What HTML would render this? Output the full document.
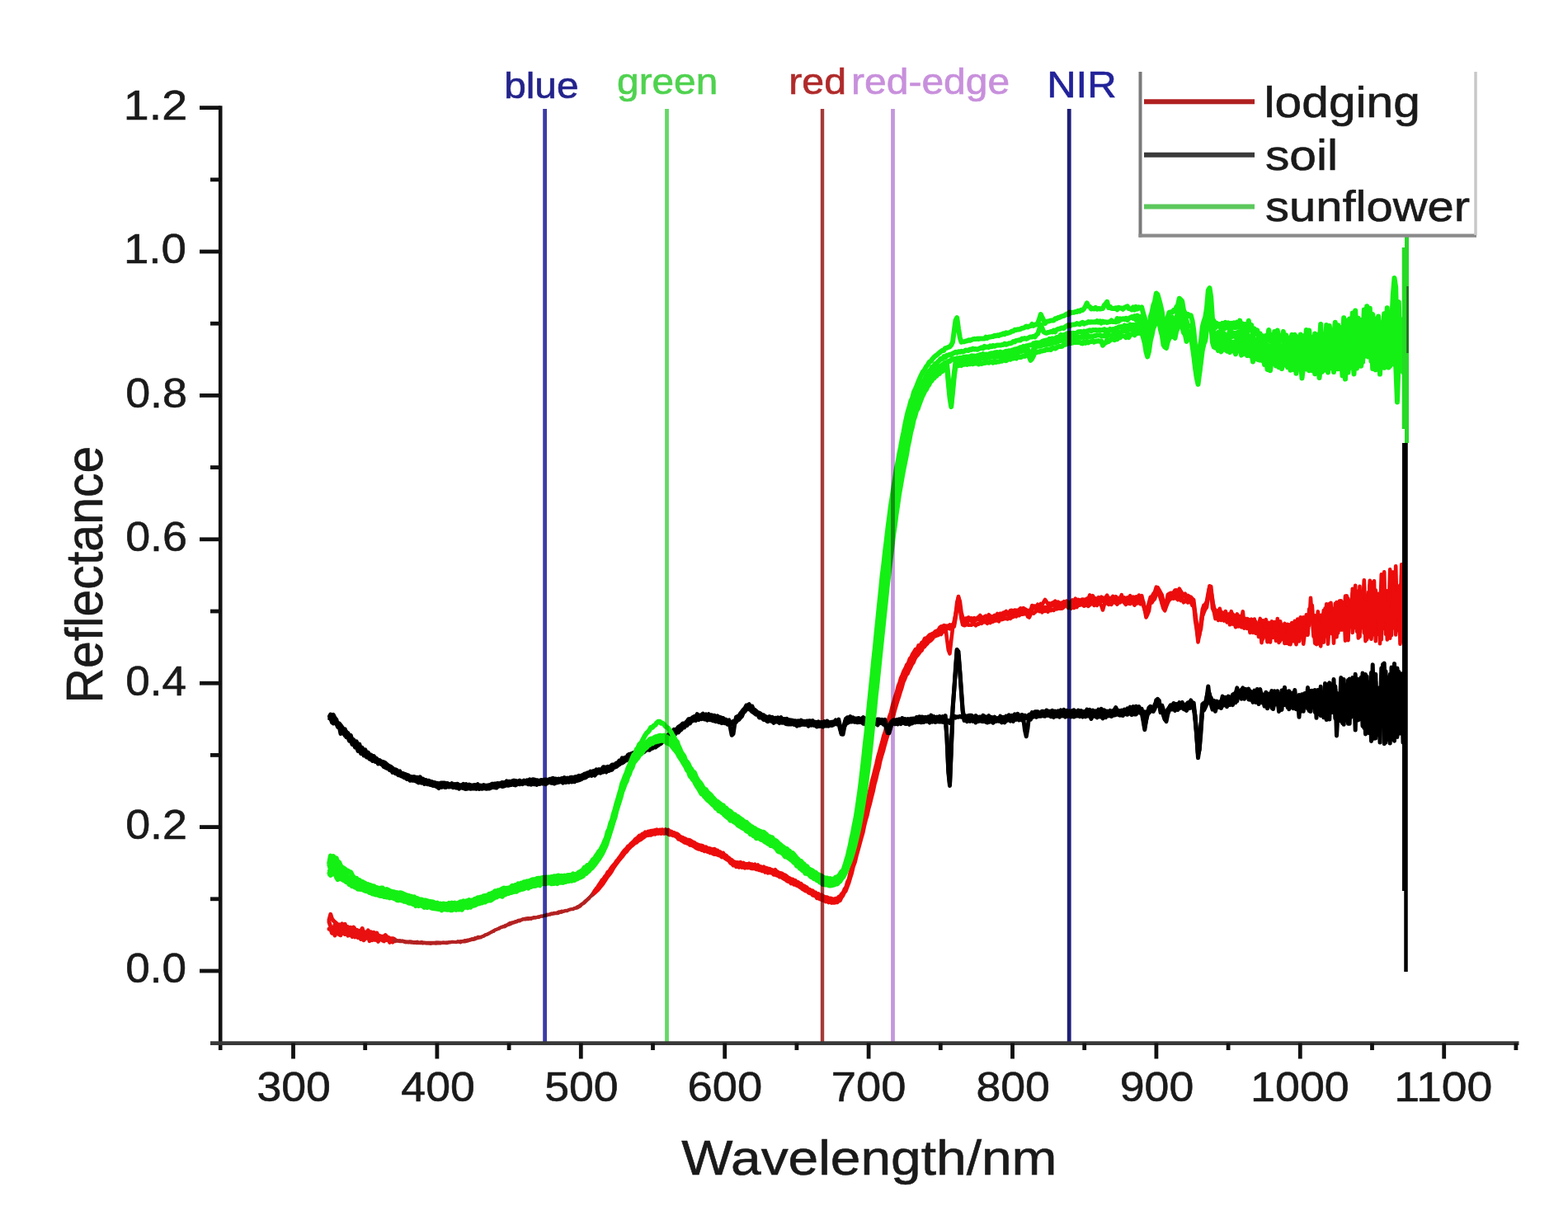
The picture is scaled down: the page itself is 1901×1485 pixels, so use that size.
<!DOCTYPE html>
<html><head><meta charset="utf-8"><title>Reflectance spectra</title>
<style>html,body{margin:0;padding:0;background:#fff;overflow:hidden}svg{display:block}</style>
</head><body>
<svg width="1901" height="1485" viewBox="0 0 1901 1485" font-family="'Liberation Sans', Arial, sans-serif" style="font-variant-ligatures:none">
<rect width="1901" height="1485" fill="#fff"/>
<g>
<path d="M399.0,1115.2 L400.8,1108.4 L402.5,1113.9 L404.2,1116.1 L406.0,1117.7 L407.8,1119.1 L409.5,1125.0 L411.2,1120.9 L413.0,1122.5 L414.8,1120.0 L416.5,1124.2 L418.2,1120.4 L420.0,1125.9 L421.8,1123.6 L423.5,1126.8 L425.2,1124.3 L427.0,1127.3 L428.8,1124.1 L430.5,1126.9 L432.2,1127.4 L434.0,1128.9 L435.8,1128.5 L437.5,1128.7 L439.2,1125.5 L441.0,1131.4 L442.8,1130.2 L444.5,1130.0 L446.2,1128.0 L448.0,1131.5 L449.8,1129.9 L451.5,1132.9 L453.2,1130.3 L455.0,1134.3 L456.8,1131.0 L458.5,1134.4 L460.2,1134.4 L462.0,1135.3 L463.8,1135.2 L465.5,1135.4 L467.2,1133.6 L469.0,1135.9 L470.8,1136.4 L472.5,1137.5 L474.2,1137.8 L476.0,1137.7 L477.8,1138.4" fill="none" stroke="#e81010" stroke-width="5.0" stroke-linejoin="round" stroke-linecap="round"/>
<path d="M477.8,1138.4 L479.5,1139.4 L481.2,1140.0 L483.0,1140.7 L484.8,1140.1 L486.5,1140.4 L488.2,1140.2 L490.0,1141.5 L491.8,1141.2 L493.5,1141.2 L495.2,1141.3 L497.0,1141.0 L498.8,1141.2 L500.5,1142.0 L502.2,1141.7 L504.0,1141.9 L505.8,1141.4 L507.5,1142.1 L509.2,1142.5 L511.0,1141.8 L512.8,1142.1 L514.5,1142.3 L516.2,1142.5 L518.0,1142.6 L519.8,1142.5 L521.5,1142.5 L523.2,1142.6 L525.0,1142.5 L526.8,1142.6 L528.5,1142.6 L530.2,1142.6 L532.0,1142.4 L533.8,1142.5 L535.5,1142.7 L537.2,1142.1 L539.0,1142.2 L540.8,1142.4 L542.5,1142.3 L544.2,1142.0 L546.0,1142.1 L547.8,1141.5 L549.5,1141.9 L551.2,1142.1 L553.0,1141.9 L554.8,1141.0 L556.5,1141.5 L558.2,1140.8 L560.0,1140.8 L561.8,1140.6 L563.5,1139.9 L565.2,1140.0 L567.0,1139.2 L568.8,1139.0 L570.5,1138.5 L572.2,1138.1 L574.0,1138.1 L575.8,1136.8 L577.5,1136.8 L579.2,1135.6 L581.0,1135.8 L582.8,1135.5 L584.5,1135.0 L586.2,1134.4 L588.0,1133.3 L589.8,1132.6 L591.5,1131.8 L593.2,1131.3 L595.0,1130.6 L596.8,1129.1 L598.5,1129.2 L600.2,1127.5 L602.0,1126.7 L603.8,1125.8 L605.5,1124.9 L607.2,1124.0 L609.0,1123.2 L610.8,1122.8 L612.5,1121.6 L614.2,1121.2 L616.0,1120.4 L617.8,1118.8 L619.5,1118.4 L621.2,1118.0 L623.0,1117.7 L624.8,1116.8 L626.5,1116.5 L628.2,1115.6 L630.0,1115.4 L631.8,1115.0 L633.5,1114.0 L635.2,1113.7 L637.0,1113.4 L638.8,1113.1 L640.5,1112.8 L642.2,1113.0 L644.0,1112.8 L645.8,1112.3 L647.5,1111.7 L649.2,1112.1 L651.0,1111.7 L652.8,1111.0 L654.5,1110.8 L656.2,1110.3 L658.0,1110.7 L659.8,1109.6 L661.5,1109.3 L663.2,1108.4 L665.0,1108.7 L666.8,1107.7 L668.5,1107.3 L670.2,1107.1 L672.0,1106.6 L673.8,1106.5 L675.5,1106.3 L677.2,1105.1 L679.0,1105.2 L680.8,1104.4 L682.5,1104.6 L684.2,1104.6 L686.0,1103.6 L687.8,1103.8 L689.5,1102.9 L691.2,1102.2 L693.0,1102.1 L694.8,1101.8 L696.5,1100.7 L698.2,1100.2 L700.0,1099.0 L701.8,1098.5 L703.5,1097.2 L705.2,1095.8 L707.0,1094.8 L708.8,1092.7 L710.5,1091.3 L712.2,1090.5 L714.0,1088.2 L715.8,1086.5 L717.5,1084.4 L719.2,1081.8 L721.0,1079.8 L722.8,1077.2" fill="none" stroke="#b42222" stroke-width="3.6" stroke-linejoin="round" stroke-linecap="round"/>
<path d="M721.0,1079.8 L722.8,1077.2 L724.5,1075.2 L726.2,1072.3 L728.0,1070.0 L729.8,1066.9 L731.5,1065.5 L733.2,1062.7 L735.0,1060.8 L736.8,1057.0 L738.5,1056.1 L740.2,1053.0 L742.0,1050.5 L743.8,1048.5 L745.5,1046.9 L747.2,1043.9 L749.0,1042.1 L750.8,1039.4 L752.5,1037.3 L754.2,1034.5 L756.0,1032.1 L757.8,1030.0 L759.5,1028.6 L761.2,1025.9 L763.0,1025.1 L764.8,1022.7 L766.5,1021.3 L768.2,1019.9 L770.0,1017.4 L771.8,1016.1 L773.5,1014.8 L775.2,1012.7 L777.0,1012.9 L778.8,1010.7 L780.5,1011.0 L782.2,1008.7 L784.0,1009.3 L785.8,1007.8 L787.5,1007.9 L789.2,1007.0 L791.0,1006.9 L792.8,1006.7 L794.5,1006.1 L796.2,1005.6 L798.0,1006.5 L799.8,1005.9 L801.5,1006.1 L803.2,1005.5 L805.0,1007.0 L806.8,1005.4 L808.5,1006.5 L810.2,1005.9 L812.0,1007.9 L813.8,1007.8 L815.5,1009.3 L817.2,1009.2 L819.0,1010.5 L820.8,1010.6 L822.5,1011.8 L824.2,1013.9 L826.0,1014.8 L827.8,1015.3 L829.5,1016.3 L831.2,1016.7 L833.0,1018.1 L834.8,1018.0 L836.5,1018.5 L838.2,1019.5 L840.0,1020.6 L841.8,1021.2 L843.5,1022.7 L845.2,1023.3 L847.0,1024.2 L848.8,1024.8 L850.5,1024.8 L852.2,1025.4 L854.0,1027.6 L855.8,1026.5 L857.5,1028.0 L859.2,1028.2 L861.0,1028.6 L862.8,1029.2 L864.5,1029.5 L866.2,1029.1 L868.0,1030.4 L869.8,1030.8 L871.5,1032.9 L873.2,1032.6 L875.0,1034.4 L876.8,1033.9 L878.5,1037.0 L880.2,1036.7 L882.0,1038.8 L883.8,1040.0 L885.5,1041.7 L887.2,1042.3 L889.0,1044.3 L890.8,1044.8 L892.5,1045.5 L894.2,1045.4 L896.0,1045.9 L897.8,1045.2 L899.5,1047.0 L901.2,1045.9 L903.0,1047.2 L904.8,1047.2 L906.5,1048.0 L908.2,1046.7 L910.0,1047.8 L911.8,1047.6 L913.5,1049.2 L915.2,1047.7 L917.0,1049.9 L918.8,1048.4 L920.5,1050.4 L922.2,1050.3 L924.0,1051.8 L925.8,1050.6 L927.5,1052.6 L929.2,1052.0 L931.0,1052.8 L932.8,1053.0 L934.5,1053.9 L936.2,1054.4 L938.0,1055.7 L939.8,1054.2 L941.5,1056.3 L943.2,1056.9 L945.0,1058.4 L946.8,1058.4 L948.5,1059.0 L950.2,1060.3 L952.0,1060.7 L953.8,1062.1 L955.5,1063.7 L957.2,1064.3 L959.0,1065.6 L960.8,1065.8 L962.5,1066.9 L964.2,1067.2 L966.0,1069.6 L967.8,1069.3 L969.5,1070.9 L971.2,1071.1 L973.0,1073.3 L974.8,1073.7 L976.5,1075.0 L978.2,1075.7 L980.0,1078.1 L981.8,1078.1 L983.5,1079.7 L985.2,1079.5 L987.0,1081.4 L988.8,1081.8 L990.5,1084.2 L992.2,1083.3 L994.0,1085.8 L995.8,1084.6 L997.5,1086.0 L999.2,1086.8 L1001.0,1087.5 L1002.8,1087.5 L1004.5,1089.0 L1006.2,1088.7 L1008.0,1089.1 L1009.8,1089.6 L1011.5,1090.2 L1013.2,1089.0 L1015.0,1089.7 L1016.8,1087.2 L1018.5,1086.4 L1020.2,1083.8 L1022.0,1082.2 L1023.8,1077.8 L1025.5,1075.8 L1027.2,1069.4 L1029.0,1065.8 L1030.7,1058.2 L1032.2,1053.0 L1033.8,1045.5 L1035.4,1040.4 L1037.0,1031.7 L1038.5,1025.1 L1040.1,1017.8 L1041.7,1010.9 L1043.3,1003.0 L1045.0,996.7 L1046.8,988.8 L1048.5,983.0 L1050.2,974.7 L1052.0,968.8 L1053.8,960.7 L1055.5,954.1 L1057.2,946.1 L1059.0,939.7 L1060.8,932.3 L1062.5,925.6 L1064.2,917.9 L1066.0,911.6 L1067.8,904.8 L1069.5,899.0 L1071.2,892.1 L1073.0,887.1 L1074.8,880.2 L1076.5,875.2 L1078.2,868.5 L1080.0,863.8 L1081.8,855.9 L1083.5,850.3 L1085.2,844.2 L1087.0,839.2 L1088.8,831.9 L1090.5,827.6 L1092.2,821.7 L1094.0,817.9 L1095.8,813.1 L1097.5,810.3 L1099.2,806.0 L1101.0,803.9 L1102.8,798.7 L1104.5,796.9 L1106.2,793.0 L1108.0,790.1 L1109.8,787.1 L1111.7,787.1 L1113.6,782.4 L1115.5,782.8 L1117.4,779.0 L1119.2,777.9 L1121.1,773.9 L1123.0,773.7 L1124.9,771.9 L1126.8,769.6 L1128.7,769.0 L1130.5,768.0 L1132.2,767.5 L1134.0,765.3 L1135.8,764.6 L1137.5,764.0 L1139.2,760.7 L1141.0,759.3 L1142.8,759.7 L1144.5,758.0 L1146.2,758.9 L1148.0,774.4 L1149.8,787.9 L1151.5,792.3 L1153.2,776.7 L1155.0,761.8 L1156.8,753.0 L1158.5,745.2 L1160.2,730.2 L1162.0,723.7 L1163.8,728.7 L1165.5,742.1 L1167.2,748.6 L1169.0,751.7 L1170.8,749.5 L1172.5,749.6 L1174.2,748.4 L1176.0,749.7 L1177.8,749.3 L1179.5,750.0 L1181.2,749.1 L1183.0,750.9 L1184.8,749.0 L1186.5,747.8 L1188.2,746.0 L1190.0,748.3 L1191.8,748.7 L1193.5,747.5 L1195.2,746.7 L1197.0,748.1 L1198.8,745.2 L1200.5,746.9 L1202.2,747.2 L1204.0,747.5 L1205.8,745.8 L1207.5,746.8 L1209.2,744.0 L1211.0,745.1 L1212.8,743.6 L1214.5,744.7 L1216.2,742.7 L1218.0,742.3 L1219.8,741.0 L1221.5,742.8 L1223.2,742.4 L1225.0,740.1 L1226.8,739.9 L1228.5,740.5 L1230.2,739.6 L1232.0,739.7 L1233.8,739.8 L1235.5,739.1 L1237.2,737.3 L1239.0,738.0 L1240.8,737.1 L1242.5,738.3 L1244.2,739.1 L1246.0,740.7 L1247.8,739.9 L1249.5,740.2 L1251.2,734.0 L1253.0,734.9 L1254.8,734.6 L1256.5,735.9 L1258.2,732.7 L1260.0,736.0 L1261.8,732.0 L1263.5,733.2 L1265.2,729.9 L1267.0,727.0 L1268.8,729.3 L1270.5,732.4 L1272.2,731.4 L1274.0,732.2 L1275.8,730.6 L1277.5,730.1 L1279.2,728.6 L1281.0,732.2 L1282.8,729.7 L1284.5,731.5 L1286.2,730.8 L1288.0,730.6 L1289.8,729.3 L1291.5,732.4 L1293.2,728.7 L1295.0,731.6 L1296.8,730.1 L1298.5,730.0 L1300.2,727.5 L1302.0,728.5 L1303.8,725.6 L1305.5,728.5 L1307.2,726.9 L1309.0,727.8 L1310.8,727.2 L1312.5,726.5 L1314.2,726.7 L1316.0,727.2 L1317.8,725.5 L1319.5,726.1 L1321.2,721.4 L1323.0,725.0 L1324.8,722.1 L1326.5,725.6 L1328.2,725.4 L1330.0,726.6 L1331.8,724.1 L1333.5,727.8 L1335.2,723.7 L1337.0,724.8 L1338.8,725.4 L1340.5,724.1 L1342.2,721.7 L1344.0,726.6 L1345.8,724.8 L1347.5,726.2 L1349.2,722.9 L1351.0,725.8 L1352.8,723.2 L1354.5,727.1 L1356.2,724.9 L1358.0,725.3 L1359.8,721.2 L1361.5,725.9 L1363.2,724.5 L1365.0,726.2 L1366.8,724.4 L1368.5,724.4 L1370.2,722.3 L1372.0,725.3 L1373.8,723.6 L1375.5,724.5 L1377.2,723.4 L1379.0,727.0 L1380.8,721.5 L1382.5,724.7 L1384.2,722.1 L1386.0,729.7 L1387.8,735.9 L1389.5,745.1 L1391.2,739.2 L1393.0,730.3 L1394.8,723.9 L1396.5,723.7 L1398.2,719.9 L1400.0,717.7 L1401.8,711.7 L1403.5,712.2 L1405.2,714.8 L1407.0,718.2 L1408.8,721.4 L1410.5,729.8 L1412.2,732.3 L1414.0,729.6 L1415.8,720.9 L1417.5,719.7 L1419.2,718.8 L1421.0,718.9 L1422.8,718.3 L1424.5,715.6 L1426.2,715.4 L1428.0,716.6 L1429.8,713.7 L1431.5,716.7 L1433.2,719.0 L1435.0,721.8 L1436.8,719.8 L1438.5,723.7 L1440.2,721.8 L1442.0,723.3 L1443.8,723.7 L1445.5,725.9 L1447.2,727.2 L1449.0,742.1 L1450.8,756.7 L1452.5,772.4 L1454.2,765.2 L1456.0,753.1 L1457.8,738.8 L1459.5,733.7 L1461.2,732.6 L1463.0,729.0 L1464.8,718.6 L1466.5,710.4 L1468.2,710.9 L1470.0,728.4 L1471.8,736.2 L1473.5,742.2 L1475.2,741.8 L1477.0,745.3 L1478.8,737.8 L1480.5,743.7 L1482.2,742.7 L1484.0,744.5 L1485.8,741.1 L1487.5,746.2 L1489.2,744.8 L1491.0,751.0 L1492.8,741.2 L1494.5,748.7 L1496.2,745.8 L1498.0,750.2 L1499.8,744.4 L1501.5,750.9 L1503.2,746.8 L1505.0,753.7 L1506.8,741.2 L1508.5,758.1 L1510.2,750.1 L1512.0,753.3 L1513.8,750.9 L1515.5,753.7 L1517.2,750.7 L1519.0,758.5 L1520.8,750.6 L1522.5,758.3 L1524.2,756.2 L1526.0,758.2 L1527.8,749.9 L1529.5,764.5 L1531.2,752.2 L1533.0,763.1 L1534.8,751.0 L1536.5,764.7 L1538.2,754.8 L1540.0,774.1 L1541.8,753.4 L1543.5,765.2 L1545.2,754.0 L1547.0,770.2 L1548.8,750.0 L1550.5,771.2 L1552.2,753.4 L1554.0,764.5 L1555.8,760.7 L1557.5,780.0 L1559.2,760.0 L1561.0,762.8 L1562.8,758.4 L1564.5,775.2 L1566.2,755.0 L1568.0,777.4 L1569.8,752.7 L1571.5,774.9 L1573.2,750.5 L1575.0,776.8 L1576.8,748.2 L1578.5,766.8 L1580.2,748.3 L1582.0,767.9 L1583.8,745.3 L1585.5,767.4 L1587.2,738.3 L1589.0,737.7 L1590.8,733.9 L1592.5,758.1 L1594.2,746.3 L1596.0,762.7 L1597.8,741.4 L1599.5,776.4 L1601.2,745.7 L1603.0,770.1 L1604.8,740.0 L1606.5,760.4 L1608.2,732.3 L1610.0,767.8 L1611.8,732.0 L1613.5,757.4 L1615.2,741.9 L1617.0,759.9 L1618.8,742.9 L1620.5,755.9 L1622.2,739.5 L1624.0,754.7 L1625.8,728.2 L1627.5,753.7 L1629.2,730.3 L1631.0,743.6 L1632.8,722.3 L1634.5,760.5 L1636.2,728.6 L1638.0,753.8 L1639.8,713.7 L1641.5,761.2 L1643.2,709.8 L1645.0,765.4 L1646.8,718.4 L1648.5,746.0 L1650.2,717.3 L1652.0,740.7 L1653.8,703.2 L1655.5,740.7 L1657.2,725.4 L1659.0,742.6 L1660.8,703.8 L1662.5,771.9 L1664.2,705.7 L1666.0,769.4 L1667.8,723.9 L1669.5,769.2 L1671.2,724.2 L1673.0,748.4 L1674.8,696.4 L1676.5,762.3 L1678.2,693.3 L1680.0,768.6 L1681.8,716.3 L1683.5,749.8 L1685.2,690.3 L1687.0,762.6 L1688.8,693.5 L1690.5,738.0 L1692.2,686.2 L1694.0,757.0 L1695.8,717.9 L1697.5,755.2 L1699.2,684.4 L1701.0,753.2 L1702.8,680.1" fill="none" stroke="#ec0c0c" stroke-width="4.6" stroke-linejoin="round" stroke-linecap="round"/>
<path d="M399.0,1117.8 L400.8,1123.3 L402.5,1128.0 L404.2,1128.1 L406.0,1121.0 L407.8,1126.9 L409.5,1125.4 L411.2,1128.7 L413.0,1124.5 L414.8,1127.9 L416.5,1123.5 L418.2,1130.8 L420.0,1128.8 L421.8,1134.2 L423.5,1127.6 L425.2,1131.4 L427.0,1128.6 L428.8,1132.2 L430.5,1129.3 L432.2,1130.9 L434.0,1128.0 L435.8,1133.8 L437.5,1130.7 L439.2,1134.5 L441.0,1131.2 L442.8,1137.4 L444.5,1131.8 L446.2,1136.2 L448.0,1134.4 L449.8,1137.4 L451.5,1134.3 L453.2,1135.2 L455.0,1133.7 L456.8,1137.6 L458.5,1136.1 L460.2,1138.1 L462.0,1135.4 L463.8,1138.0 L465.5,1137.7 L467.2,1139.3 L469.0,1136.6 L470.8,1139.4 L472.5,1140.4 L474.2,1139.9 L476.0,1139.4 L477.8,1139.8" fill="none" stroke="#e81010" stroke-width="5.0" stroke-linejoin="round" stroke-linecap="round"/>
<path d="M477.8,1139.8 L479.5,1139.0 L481.2,1139.7 L483.0,1140.1 L484.8,1140.1 L486.5,1141.0 L488.2,1140.5 L490.0,1140.7 L491.8,1141.6 L493.5,1141.6 L495.2,1142.6 L497.0,1142.2 L498.8,1142.8 L500.5,1142.5 L502.2,1143.3 L504.0,1143.1 L505.8,1143.4 L507.5,1143.1 L509.2,1143.5 L511.0,1143.3 L512.8,1143.6 L514.5,1143.3 L516.2,1143.7 L518.0,1143.2 L519.8,1143.6 L521.5,1143.3 L523.2,1143.1 L525.0,1142.8 L526.8,1143.3 L528.5,1142.3 L530.2,1142.4 L532.0,1142.7 L533.8,1142.6 L535.5,1142.5 L537.2,1142.7 L539.0,1143.2 L540.8,1142.6 L542.5,1142.6 L544.2,1142.6 L546.0,1142.4 L547.8,1142.3 L549.5,1141.5 L551.2,1141.9 L553.0,1142.4 L554.8,1141.3 L556.5,1141.6 L558.2,1141.6 L560.0,1141.3 L561.8,1141.0 L563.5,1140.2 L565.2,1141.0 L567.0,1140.1 L568.8,1139.5 L570.5,1139.4 L572.2,1138.1 L574.0,1138.2 L575.8,1137.9 L577.5,1137.4 L579.2,1137.0 L581.0,1136.7 L582.8,1135.9 L584.5,1135.4 L586.2,1134.7 L588.0,1133.3 L589.8,1132.8 L591.5,1132.5 L593.2,1131.1 L595.0,1130.1 L596.8,1129.1 L598.5,1128.0 L600.2,1127.2 L602.0,1126.4 L603.8,1126.0 L605.5,1124.7 L607.2,1124.1 L609.0,1123.7 L610.8,1122.9 L612.5,1122.0 L614.2,1121.6 L616.0,1120.3 L617.8,1119.7 L619.5,1118.8 L621.2,1118.8 L623.0,1118.0 L624.8,1117.5 L626.5,1116.5 L628.2,1116.3 L630.0,1115.6 L631.8,1115.2 L633.5,1114.2 L635.2,1114.0 L637.0,1114.0 L638.8,1113.6 L640.5,1113.6 L642.2,1113.5 L644.0,1112.8 L645.8,1112.8 L647.5,1112.1 L649.2,1112.6 L651.0,1112.1 L652.8,1112.3 L654.5,1111.0 L656.2,1110.6 L658.0,1110.5 L659.8,1110.1 L661.5,1109.6 L663.2,1109.8 L665.0,1108.6 L666.8,1108.7 L668.5,1107.4 L670.2,1108.0 L672.0,1107.1 L673.8,1106.9 L675.5,1106.4 L677.2,1106.8 L679.0,1105.6 L680.8,1105.9 L682.5,1104.9 L684.2,1104.6 L686.0,1104.2 L687.8,1104.4 L689.5,1103.2 L691.2,1102.5 L693.0,1101.9 L694.8,1101.5 L696.5,1101.0 L698.2,1101.0 L700.0,1100.1 L701.8,1098.4 L703.5,1097.3 L705.2,1095.8 L707.0,1094.9 L708.8,1093.4 L710.5,1091.7 L712.2,1089.9 L714.0,1088.3 L715.8,1086.7 L717.5,1084.4 L719.2,1083.0 L721.0,1080.3 L722.8,1078.8" fill="none" stroke="#b42222" stroke-width="3.6" stroke-linejoin="round" stroke-linecap="round"/>
<path d="M721.0,1080.3 L722.8,1078.8 L724.5,1076.4 L726.2,1074.8 L728.0,1072.6 L729.8,1070.4 L731.5,1067.9 L733.2,1065.5 L735.0,1062.7 L736.8,1061.1 L738.5,1058.1 L740.2,1056.1 L742.0,1053.0 L743.8,1050.4 L745.5,1046.9 L747.2,1045.8 L749.0,1042.6 L750.8,1040.8 L752.5,1038.2 L754.2,1036.9 L756.0,1034.5 L757.8,1033.4 L759.5,1031.5 L761.2,1028.5 L763.0,1026.9 L764.8,1025.1 L766.5,1022.9 L768.2,1022.2 L770.0,1020.3 L771.8,1018.4 L773.5,1017.3 L775.2,1015.8 L777.0,1014.9 L778.8,1013.8 L780.5,1012.6 L782.2,1012.0 L784.0,1010.9 L785.8,1011.0 L787.5,1009.1 L789.2,1009.5 L791.0,1009.1 L792.8,1010.2 L794.5,1008.2 L796.2,1008.5 L798.0,1008.7 L799.8,1008.1 L801.5,1007.6 L803.2,1007.5 L805.0,1007.7 L806.8,1008.7 L808.5,1008.6 L810.2,1009.8 L812.0,1009.2 L813.8,1011.1 L815.5,1011.5 L817.2,1012.4 L819.0,1012.8 L820.8,1014.6 L822.5,1014.6 L824.2,1015.5 L826.0,1016.7 L827.8,1017.9 L829.5,1019.3 L831.2,1020.1 L833.0,1019.5 L834.8,1021.5 L836.5,1022.4 L838.2,1022.3 L840.0,1022.7 L841.8,1024.0 L843.5,1024.3 L845.2,1025.4 L847.0,1025.8 L848.8,1026.7 L850.5,1027.0 L852.2,1028.4 L854.0,1028.7 L855.8,1030.0 L857.5,1030.1 L859.2,1031.3 L861.0,1030.9 L862.8,1032.2 L864.5,1032.5 L866.2,1033.8 L868.0,1032.7 L869.8,1034.7 L871.5,1035.0 L873.2,1036.0 L875.0,1036.6 L876.8,1038.0 L878.5,1038.2 L880.2,1039.5 L882.0,1040.5 L883.8,1042.5 L885.5,1043.4 L887.2,1045.5 L889.0,1046.0 L890.8,1047.7 L892.5,1047.1 L894.2,1048.3 L896.0,1047.7 L897.8,1048.7 L899.5,1048.1 L901.2,1049.9 L903.0,1049.3 L904.8,1050.3 L906.5,1049.7 L908.2,1051.5 L910.0,1049.8 L911.8,1051.0 L913.5,1051.7 L915.2,1052.2 L917.0,1051.4 L918.8,1051.6 L920.5,1052.1 L922.2,1053.8 L924.0,1053.4 L925.8,1054.2 L927.5,1054.2 L929.2,1055.8 L931.0,1054.5 L932.8,1056.4 L934.5,1056.2 L936.2,1057.7 L938.0,1057.1 L939.8,1058.7 L941.5,1058.4 L943.2,1061.6 L945.0,1060.7 L946.8,1061.6 L948.5,1062.1 L950.2,1063.2 L952.0,1063.9 L953.8,1065.8 L955.5,1065.8 L957.2,1067.4 L959.0,1067.1 L960.8,1069.6 L962.5,1070.0 L964.2,1070.0 L966.0,1071.3 L967.8,1072.7 L969.5,1073.0 L971.2,1075.6 L973.0,1074.5 L974.8,1076.2 L976.5,1078.4 L978.2,1079.0 L980.0,1079.2 L981.8,1081.7 L983.5,1081.7 L985.2,1083.9 L987.0,1083.9 L988.8,1086.3 L990.5,1085.1 L992.2,1086.8 L994.0,1087.4 L995.8,1089.0 L997.5,1088.3 L999.2,1089.9 L1001.0,1089.8 L1002.8,1091.3 L1004.5,1091.4 L1006.2,1092.5 L1008.0,1092.8 L1009.8,1092.9 L1011.5,1092.4 L1013.2,1092.7 L1015.0,1090.2 L1016.8,1089.6 L1018.5,1088.2 L1020.2,1086.2 L1022.0,1082.9 L1023.8,1080.6 L1025.5,1076.0 L1027.2,1073.0 L1029.0,1067.0 L1030.8,1061.8 L1032.5,1054.8 L1034.2,1048.2 L1036.0,1041.4 L1037.8,1034.1 L1039.5,1027.2 L1041.2,1020.0 L1043.0,1012.3 L1044.8,1006.8 L1046.5,998.8 L1048.2,991.7 L1050.0,984.6 L1051.8,978.6 L1053.5,970.9 L1055.2,964.5 L1057.0,956.6 L1058.8,950.1 L1060.5,941.5 L1062.2,935.3 L1064.0,926.9 L1065.8,921.3 L1067.5,912.8 L1069.2,908.1 L1071.0,901.9 L1072.8,896.5 L1074.5,888.9 L1076.2,884.8 L1078.0,877.4 L1079.8,872.4 L1081.5,866.0 L1083.2,859.7 L1085.0,853.4 L1086.8,847.5 L1088.5,840.6 L1090.2,836.4 L1092.0,830.2 L1093.8,826.3 L1095.5,821.0 L1097.2,816.8 L1099.0,812.8 L1100.8,811.0 L1102.5,806.5 L1104.2,802.9 L1106.0,798.8 L1107.8,796.3 L1109.5,792.6 L1111.2,790.4 L1113.0,787.9 L1114.8,788.0 L1116.5,783.9 L1118.2,782.0 L1120.0,780.4 L1121.8,779.3 L1123.5,776.7 L1125.2,775.2 L1127.0,773.0 L1128.8,772.2 L1130.5,769.9 L1132.2,769.7 L1134.0,768.3 L1135.8,767.8 L1137.5,766.1 L1139.2,764.2 L1141.0,763.2 L1142.8,762.5 L1144.5,761.7 L1146.2,759.3 L1148.0,758.6 L1149.8,759.2 L1151.5,757.4 L1153.2,758.0 L1155.0,756.8 L1156.8,756.9 L1158.5,744.4 L1160.2,735.9 L1162.0,723.1 L1163.8,736.7 L1165.5,745.4 L1167.2,755.6 L1169.0,753.0 L1170.8,752.8 L1172.5,753.9 L1174.2,752.3 L1176.0,752.1 L1177.8,752.9 L1179.5,752.7 L1181.2,753.5 L1183.0,751.3 L1184.8,751.4 L1186.5,750.8 L1188.2,751.5 L1190.0,751.3 L1191.8,752.1 L1193.5,751.8 L1195.2,753.7 L1197.0,749.2 L1198.8,750.8 L1200.5,750.5 L1202.2,751.1 L1204.0,749.0 L1205.8,748.2 L1207.5,750.8 L1209.2,749.1 L1211.0,746.3 L1212.8,746.2 L1214.5,748.0 L1216.2,747.9 L1218.0,745.2 L1219.8,745.5 L1221.5,744.8 L1223.2,744.8 L1225.0,741.1 L1226.8,746.5 L1228.5,743.7 L1230.2,743.5 L1232.0,741.5 L1233.8,742.4 L1235.5,743.5 L1237.2,742.4 L1239.0,739.2 L1240.8,742.0 L1242.5,740.1 L1244.2,741.4 L1246.0,740.8 L1247.8,745.1 L1249.5,742.0 L1251.2,739.1 L1253.0,736.9 L1254.8,737.6 L1256.5,737.4 L1258.2,737.0 L1260.0,736.3 L1261.8,737.9 L1263.5,736.8 L1265.2,737.3 L1267.0,735.9 L1268.8,737.0 L1270.5,735.4 L1272.2,736.9 L1274.0,733.9 L1275.8,734.3 L1277.5,733.5 L1279.2,732.7 L1281.0,733.2 L1282.8,735.8 L1284.5,734.1 L1286.2,735.9 L1288.0,733.5 L1289.8,734.4 L1291.5,732.4 L1293.2,733.7 L1295.0,732.2 L1296.8,733.8 L1298.5,731.9 L1300.2,730.6 L1302.0,731.8 L1303.8,732.2 L1305.5,729.5 L1307.2,731.2 L1309.0,731.0 L1310.8,730.9 L1312.5,729.0 L1314.2,734.7 L1316.0,728.2 L1317.8,731.3 L1319.5,730.2 L1321.2,728.7 L1323.0,729.5 L1324.8,728.8 L1326.5,728.1 L1328.2,728.8 L1330.0,729.9 L1331.8,727.8 L1333.5,728.3 L1335.2,729.0 L1337.0,725.0 L1338.8,730.3 L1340.5,726.4 L1342.2,728.2 L1344.0,728.2 L1345.8,727.5 L1347.5,726.0 L1349.2,729.4 L1351.0,726.6 L1352.8,728.8 L1354.5,728.0 L1356.2,727.0 L1358.0,725.0 L1359.8,728.3 L1361.5,727.6 L1363.2,728.7 L1365.0,725.3 L1366.8,725.0 L1368.5,727.0 L1370.2,729.5 L1372.0,727.9 L1373.8,726.2 L1375.5,726.6 L1377.2,728.8 L1379.0,724.6 L1380.8,728.4 L1382.5,727.4 L1384.2,727.3 L1386.0,729.5 L1387.8,739.6 L1389.5,743.7 L1391.2,741.1 L1393.0,732.1 L1394.8,726.8 L1396.5,723.1 L1398.2,726.3 L1400.0,719.8 L1401.8,718.2 L1403.5,712.4 L1405.2,720.0 L1407.0,720.1 L1408.8,731.2 L1410.5,729.8 L1412.2,738.5 L1414.0,729.6 L1415.8,726.1 L1417.5,723.7 L1419.2,724.5 L1421.0,719.9 L1422.8,724.9 L1424.5,720.0 L1426.2,723.7 L1428.0,718.5 L1429.8,721.8 L1431.5,720.8 L1433.2,723.4 L1435.0,721.1 L1436.8,723.6 L1438.5,723.8 L1440.2,727.3 L1442.0,725.5 L1443.8,727.8 L1445.5,726.1 L1447.2,732.8 L1449.0,744.7 L1450.8,760.7 L1452.5,773.7 L1454.2,770.2 L1456.0,756.6 L1457.8,746.7 L1459.5,734.5 L1461.2,737.5 L1463.0,731.1 L1464.8,721.7 L1466.5,710.7 L1468.2,716.1 L1470.0,725.9 L1471.8,740.0 L1473.5,739.3 L1475.2,745.1 L1477.0,740.0 L1478.8,747.5 L1480.5,745.7 L1482.2,750.1 L1484.0,743.5 L1485.8,748.3 L1487.5,746.0 L1489.2,751.9 L1491.0,744.0 L1492.8,753.1 L1494.5,744.6 L1496.2,751.1 L1498.0,747.3 L1499.8,754.3 L1501.5,746.9 L1503.2,757.2 L1505.0,747.4 L1506.8,760.2 L1508.5,751.9 L1510.2,760.1 L1512.0,750.1 L1513.8,761.5 L1515.5,752.4 L1517.2,759.3 L1519.0,758.4 L1520.8,766.0 L1522.5,753.7 L1524.2,760.4 L1526.0,756.4 L1527.8,771.5 L1529.5,758.7 L1531.2,774.6 L1533.0,756.2 L1534.8,771.1 L1536.5,763.3 L1538.2,773.4 L1540.0,755.6 L1541.8,767.8 L1543.5,762.1 L1545.2,772.2 L1547.0,754.5 L1548.8,770.0 L1550.5,762.5 L1552.2,776.9 L1554.0,757.5 L1555.8,769.0 L1557.5,755.9 L1559.2,779.8 L1561.0,756.7 L1562.8,780.9 L1564.5,760.6 L1566.2,770.5 L1568.0,760.8 L1569.8,770.6 L1571.5,759.0 L1573.2,768.8 L1575.0,753.5 L1576.8,767.0 L1578.5,758.9 L1580.2,780.6 L1582.0,766.5 L1583.8,769.3 L1585.5,752.8 L1587.2,758.1 L1589.0,724.8 L1590.8,752.0 L1592.5,753.9 L1594.2,779.9 L1596.0,748.0 L1597.8,780.4 L1599.5,758.9 L1601.2,783.4 L1603.0,748.4 L1604.8,778.7 L1606.5,737.6 L1608.2,767.4 L1610.0,747.0 L1611.8,768.0 L1613.5,730.7 L1615.2,768.3 L1617.0,737.8 L1618.8,764.4 L1620.5,730.0 L1622.2,767.5 L1624.0,728.6 L1625.8,763.4 L1627.5,736.0 L1629.2,759.0 L1631.0,722.6 L1632.8,760.7 L1634.5,725.6 L1636.2,753.5 L1638.0,733.9 L1639.8,767.0 L1641.5,720.7 L1643.2,749.3 L1645.0,716.7 L1646.8,773.4 L1648.5,710.9 L1650.2,761.2 L1652.0,732.8 L1653.8,767.1 L1655.5,721.7 L1657.2,775.0 L1659.0,718.0 L1660.8,751.7 L1662.5,731.4 L1664.2,744.7 L1666.0,704.3 L1667.8,777.2 L1669.5,731.1 L1671.2,767.5 L1673.0,722.5 L1674.8,775.2 L1676.5,698.0 L1678.2,760.0 L1680.0,721.4 L1681.8,775.5 L1683.5,720.5 L1685.2,773.8 L1687.0,693.7 L1688.8,747.8 L1690.5,712.0 L1692.2,769.4 L1694.0,722.0 L1695.8,764.4 L1697.5,709.6 L1699.2,777.1 L1701.0,693.5 L1702.8,779.2" fill="none" stroke="#ec0c0c" stroke-width="4.6" stroke-linejoin="round" stroke-linecap="round"/>
<path d="M399.0,1126.3 L400.8,1126.2 L402.5,1131.1 L404.2,1130.2 L406.0,1134.0 L407.8,1124.6 L409.5,1132.0 L411.2,1132.7 L413.0,1133.7 L414.8,1128.9 L416.5,1131.1 L418.2,1132.5 L420.0,1131.2 L421.8,1132.1 L423.5,1133.7 L425.2,1133.2 L427.0,1135.5 L428.8,1133.0 L430.5,1135.9 L432.2,1134.3 L434.0,1136.6 L435.8,1134.7 L437.5,1138.5 L439.2,1135.6 L441.0,1139.7 L442.8,1137.6 L444.5,1137.0 L446.2,1134.3 L448.0,1140.6 L449.8,1136.8 L451.5,1139.7 L453.2,1136.3 L455.0,1139.4 L456.8,1138.1 L458.5,1141.3 L460.2,1137.6 L462.0,1138.5 L463.8,1140.0 L465.5,1140.9 L467.2,1138.8 L469.0,1139.6 L470.8,1139.1 L472.5,1142.4 L474.2,1139.7 L476.0,1142.0 L477.8,1140.5" fill="none" stroke="#e81010" stroke-width="5.0" stroke-linejoin="round" stroke-linecap="round"/>
<path d="M477.8,1140.5 L479.5,1141.5 L481.2,1140.6 L483.0,1140.9 L484.8,1141.4 L486.5,1141.3 L488.2,1141.4 L490.0,1142.1 L491.8,1142.6 L493.5,1142.5 L495.2,1142.2 L497.0,1142.5 L498.8,1142.8 L500.5,1142.7 L502.2,1143.3 L504.0,1143.2 L505.8,1142.6 L507.5,1143.4 L509.2,1142.6 L511.0,1142.9 L512.8,1143.4 L514.5,1143.0 L516.2,1143.1 L518.0,1143.7 L519.8,1143.5 L521.5,1144.1 L523.2,1143.9 L525.0,1143.5 L526.8,1143.7 L528.5,1144.0 L530.2,1143.8 L532.0,1143.5 L533.8,1143.8 L535.5,1142.9 L537.2,1143.2 L539.0,1143.3 L540.8,1143.4 L542.5,1143.4 L544.2,1142.2 L546.0,1142.4 L547.8,1142.2 L549.5,1142.1 L551.2,1142.0 L553.0,1142.1 L554.8,1141.9 L556.5,1141.8 L558.2,1142.6 L560.0,1141.6 L561.8,1141.4 L563.5,1141.7 L565.2,1141.2 L567.0,1140.9 L568.8,1140.2 L570.5,1139.8 L572.2,1139.2 L574.0,1139.1 L575.8,1138.8 L577.5,1137.8 L579.2,1137.4 L581.0,1136.8 L582.8,1136.6 L584.5,1135.6 L586.2,1135.3 L588.0,1134.0 L589.8,1133.4 L591.5,1132.4 L593.2,1131.6 L595.0,1130.2 L596.8,1129.7 L598.5,1128.7 L600.2,1127.5 L602.0,1127.1 L603.8,1126.0 L605.5,1125.9 L607.2,1124.6 L609.0,1124.1 L610.8,1123.6 L612.5,1123.4 L614.2,1122.1 L616.0,1121.3 L617.8,1120.9 L619.5,1120.1 L621.2,1119.1 L623.0,1118.7 L624.8,1118.0 L626.5,1117.7 L628.2,1116.6 L630.0,1116.8 L631.8,1115.7 L633.5,1115.0 L635.2,1114.6 L637.0,1114.8 L638.8,1114.3 L640.5,1114.5 L642.2,1113.8 L644.0,1114.1 L645.8,1113.2 L647.5,1112.9 L649.2,1112.8 L651.0,1112.2 L652.8,1111.8 L654.5,1111.6 L656.2,1110.9 L658.0,1110.6 L659.8,1110.3 L661.5,1109.8 L663.2,1109.5 L665.0,1109.0 L666.8,1108.8 L668.5,1108.3 L670.2,1107.7 L672.0,1107.8 L673.8,1107.2 L675.5,1107.4 L677.2,1106.9 L679.0,1106.1 L680.8,1105.7 L682.5,1105.2 L684.2,1104.1 L686.0,1104.0 L687.8,1103.7 L689.5,1103.0 L691.2,1102.7 L693.0,1102.5 L694.8,1102.4 L696.5,1101.4 L698.2,1101.0 L700.0,1100.7 L701.8,1099.6 L703.5,1098.9 L705.2,1096.8 L707.0,1095.8 L708.8,1094.5 L710.5,1092.7 L712.2,1091.1 L714.0,1089.7 L715.8,1087.2 L717.5,1086.0 L719.2,1084.8 L721.0,1082.5 L722.8,1080.8" fill="none" stroke="#b42222" stroke-width="3.6" stroke-linejoin="round" stroke-linecap="round"/>
<path d="M721.0,1082.5 L722.8,1080.8 L724.5,1079.3 L726.2,1077.5 L728.0,1075.2 L729.8,1073.1 L731.5,1070.8 L733.2,1068.2 L735.0,1065.5 L736.8,1062.6 L738.5,1060.7 L740.2,1058.5 L742.0,1055.7 L743.8,1052.3 L745.5,1049.9 L747.2,1047.5 L749.0,1045.2 L750.8,1042.7 L752.5,1040.7 L754.2,1038.8 L756.0,1036.3 L757.8,1033.9 L759.5,1032.7 L761.2,1030.3 L763.0,1028.3 L764.8,1026.4 L766.5,1025.2 L768.2,1023.5 L770.0,1021.8 L771.8,1021.4 L773.5,1019.7 L775.2,1018.5 L777.0,1017.8 L778.8,1016.2 L780.5,1015.3 L782.2,1013.8 L784.0,1012.9 L785.8,1012.8 L787.5,1012.3 L789.2,1012.4 L791.0,1011.5 L792.8,1011.0 L794.5,1011.4 L796.2,1010.3 L798.0,1010.6 L799.8,1010.0 L801.5,1010.7 L803.2,1010.1 L805.0,1010.6 L806.8,1010.0 L808.5,1010.3 L810.2,1011.3 L812.0,1012.1 L813.8,1011.2 L815.5,1013.0 L817.2,1012.7 L819.0,1014.0 L820.8,1015.0 L822.5,1017.4 L824.2,1017.3 L826.0,1019.0 L827.8,1019.9 L829.5,1021.2 L831.2,1021.7 L833.0,1022.5 L834.8,1022.9 L836.5,1024.5 L838.2,1024.8 L840.0,1025.4 L841.8,1026.4 L843.5,1027.8 L845.2,1028.6 L847.0,1029.5 L848.8,1029.4 L850.5,1030.6 L852.2,1030.5 L854.0,1032.0 L855.8,1031.4 L857.5,1032.7 L859.2,1032.7 L861.0,1034.1 L862.8,1033.8 L864.5,1035.2 L866.2,1035.8 L868.0,1035.5 L869.8,1036.4 L871.5,1037.0 L873.2,1037.4 L875.0,1039.1 L876.8,1038.3 L878.5,1040.3 L880.2,1041.4 L882.0,1042.4 L883.8,1043.7 L885.5,1046.3 L887.2,1047.1 L889.0,1049.2 L890.8,1048.3 L892.5,1050.9 L894.2,1050.3 L896.0,1051.5 L897.8,1049.8 L899.5,1051.7 L901.2,1051.1 L903.0,1052.4 L904.8,1051.7 L906.5,1052.1 L908.2,1051.5 L910.0,1052.5 L911.8,1053.0 L913.5,1052.7 L915.2,1053.0 L917.0,1054.0 L918.8,1054.1 L920.5,1054.9 L922.2,1055.0 L924.0,1056.1 L925.8,1055.0 L927.5,1057.5 L929.2,1056.5 L931.0,1058.4 L932.8,1057.9 L934.5,1058.1 L936.2,1058.5 L938.0,1060.5 L939.8,1060.3 L941.5,1061.3 L943.2,1060.9 L945.0,1063.2 L946.8,1062.7 L948.5,1064.3 L950.2,1065.4 L952.0,1066.3 L953.8,1067.8 L955.5,1068.6 L957.2,1068.6 L959.0,1071.1 L960.8,1070.7 L962.5,1072.4 L964.2,1072.3 L966.0,1073.5 L967.8,1074.2 L969.5,1075.5 L971.2,1076.4 L973.0,1078.0 L974.8,1078.9 L976.5,1080.2 L978.2,1079.9 L980.0,1082.1 L981.8,1083.0 L983.5,1083.3 L985.2,1085.2 L987.0,1085.7 L988.8,1086.1 L990.5,1089.0 L992.2,1088.8 L994.0,1090.1 L995.8,1090.5 L997.5,1091.6 L999.2,1091.5 L1001.0,1093.1 L1002.8,1092.5 L1004.5,1094.1 L1006.2,1093.0 L1008.0,1094.6 L1009.8,1094.2 L1011.5,1094.4 L1013.2,1094.0 L1015.0,1094.0 L1016.8,1092.4 L1018.5,1091.9 L1020.2,1088.0 L1022.0,1085.8 L1023.8,1081.9 L1025.5,1079.9 L1027.2,1075.5 L1029.0,1070.8 L1030.8,1064.7 L1032.8,1058.3 L1034.7,1050.1 L1036.6,1045.1 L1038.5,1037.1 L1040.5,1030.1 L1042.4,1023.1 L1044.3,1016.1 L1046.2,1009.7 L1048.0,1000.9 L1049.8,993.6 L1051.5,988.0 L1053.2,980.1 L1055.0,973.8 L1056.8,966.2 L1058.5,959.7 L1060.2,951.5 L1062.0,945.0 L1063.8,936.9 L1065.5,931.2 L1067.2,922.9 L1069.0,916.4 L1070.8,910.6 L1072.5,904.0 L1074.2,898.1 L1076.0,892.2 L1077.8,885.9 L1079.5,880.1 L1081.2,873.9 L1083.0,868.8 L1084.8,861.3 L1086.5,855.6 L1088.2,849.9 L1090.0,844.6 L1091.8,838.4 L1093.5,833.5 L1095.2,827.1 L1097.0,823.3 L1098.8,818.4 L1100.5,816.7 L1102.2,812.5 L1104.0,809.3 L1105.8,805.4 L1107.5,803.1 L1109.2,798.8 L1111.0,795.9 L1112.7,794.1 L1114.3,792.0 L1115.9,789.6 L1117.5,788.5 L1119.1,784.8 L1120.8,784.1 L1122.4,781.9 L1124.0,780.5 L1125.6,778.4 L1127.2,777.4 L1128.8,776.1 L1130.5,774.3 L1132.2,771.9 L1134.0,771.3 L1135.8,770.4 L1137.5,770.1 L1139.2,767.7 L1141.0,769.0 L1142.8,765.6 L1144.5,765.9 L1146.2,762.5 L1148.0,762.1 L1149.8,761.3 L1151.5,762.3 L1153.2,759.2 L1155.0,759.8 L1156.8,759.5 L1158.5,749.9 L1160.2,738.5 L1162.0,729.3 L1163.8,737.8 L1165.5,750.3 L1167.2,757.4 L1169.0,758.2 L1170.8,757.7 L1172.5,756.0 L1174.2,757.8 L1176.0,757.6 L1177.8,757.6 L1179.5,756.2 L1181.2,756.6 L1183.0,758.4 L1184.8,756.4 L1186.5,756.6 L1188.2,754.7 L1190.0,755.8 L1191.8,754.2 L1193.5,754.0 L1195.2,754.2 L1197.0,755.8 L1198.8,753.6 L1200.5,755.1 L1202.2,753.6 L1204.0,753.6 L1205.8,752.4 L1207.5,752.4 L1209.2,751.7 L1211.0,753.2 L1212.8,750.0 L1214.5,751.2 L1216.2,750.6 L1218.0,750.1 L1219.8,749.5 L1221.5,750.5 L1223.2,748.5 L1225.0,749.8 L1226.8,748.2 L1228.5,747.7 L1230.2,746.6 L1232.0,747.3 L1233.8,744.9 L1235.5,746.2 L1237.2,744.7 L1239.0,744.8 L1240.8,744.5 L1242.5,744.2 L1244.2,742.8 L1246.0,747.5 L1247.8,748.5 L1249.5,744.8 L1251.2,742.0 L1253.0,743.7 L1254.8,742.1 L1256.5,740.7 L1258.2,739.5 L1260.0,741.2 L1261.8,740.1 L1263.5,742.3 L1265.2,739.7 L1267.0,740.9 L1268.8,737.9 L1270.5,741.7 L1272.2,736.4 L1274.0,740.1 L1275.8,738.7 L1277.5,739.9 L1279.2,737.2 L1281.0,738.4 L1282.8,737.5 L1284.5,737.6 L1286.2,737.6 L1288.0,737.4 L1289.8,735.9 L1291.5,734.3 L1293.2,733.8 L1295.0,736.8 L1296.8,735.0 L1298.5,737.5 L1300.2,733.1 L1302.0,737.0 L1303.8,734.6 L1305.5,736.1 L1307.2,733.3 L1309.0,733.8 L1310.8,732.2 L1312.5,733.5 L1314.2,732.6 L1316.0,734.0 L1317.8,733.0 L1319.5,734.9 L1321.2,733.3 L1323.0,732.1 L1324.8,730.9 L1326.5,733.9 L1328.2,730.3 L1330.0,733.9 L1331.8,730.9 L1333.5,731.6 L1335.2,734.1 L1337.0,739.5 L1338.8,732.8 L1340.5,730.0 L1342.2,731.3 L1344.0,732.8 L1345.8,732.0 L1347.5,732.8 L1349.2,729.3 L1351.0,730.4 L1352.8,730.7 L1354.5,732.6 L1356.2,729.6 L1358.0,730.4 L1359.8,728.8 L1361.5,728.8 L1363.2,730.9 L1365.0,732.8 L1366.8,727.3 L1368.5,731.7 L1370.2,732.1 L1372.0,729.1 L1373.8,731.2 L1375.5,733.6 L1377.2,731.4 L1379.0,731.4 L1380.8,729.7 L1382.5,732.2 L1384.2,730.3 L1386.0,734.0 L1387.8,739.1 L1389.5,748.4 L1391.2,744.9 L1393.0,740.6 L1394.8,727.8 L1396.5,730.6 L1398.2,727.7 L1400.0,726.1 L1401.8,720.2 L1403.5,720.2 L1405.2,720.8 L1407.0,725.7 L1408.8,732.0 L1410.5,737.8 L1412.2,740.3 L1414.0,735.2 L1415.8,730.7 L1417.5,727.5 L1419.2,726.1 L1421.0,725.0 L1422.8,725.6 L1424.5,724.9 L1426.2,725.4 L1428.0,727.2 L1429.8,724.1 L1431.5,728.0 L1433.2,726.7 L1435.0,730.3 L1436.8,727.5 L1438.5,729.1 L1440.2,730.5 L1442.0,729.7 L1443.8,729.7 L1445.5,733.9 L1447.2,732.9 L1449.0,752.1 L1450.8,763.4 L1452.5,778.4 L1454.2,768.7 L1456.0,762.2 L1457.8,747.2 L1459.5,742.7 L1461.2,738.7 L1463.0,736.1 L1464.8,724.2 L1466.5,715.6 L1468.2,718.5 L1470.0,737.3 L1471.8,741.6 L1473.5,750.1 L1475.2,743.3 L1477.0,751.9 L1478.8,747.1 L1480.5,751.8 L1482.2,748.4 L1484.0,752.5 L1485.8,749.4 L1487.5,754.3 L1489.2,746.3 L1491.0,757.3 L1492.8,752.7 L1494.5,756.5 L1496.2,752.9 L1498.0,760.2 L1499.8,751.3 L1501.5,759.4 L1503.2,753.1 L1505.0,760.3 L1506.8,755.5 L1508.5,761.6 L1510.2,752.1 L1512.0,761.8 L1513.8,756.1 L1515.5,766.9 L1517.2,762.0 L1519.0,766.8 L1520.8,757.7 L1522.5,767.8 L1524.2,758.4 L1526.0,772.0 L1527.8,756.2 L1529.5,779.2 L1531.2,763.2 L1533.0,771.5 L1534.8,763.7 L1536.5,778.2 L1538.2,765.5 L1540.0,778.5 L1541.8,763.0 L1543.5,772.7 L1545.2,766.6 L1547.0,776.8 L1548.8,767.5 L1550.5,779.0 L1552.2,767.9 L1554.0,774.8 L1555.8,762.4 L1557.5,779.1 L1559.2,769.7 L1561.0,778.1 L1562.8,757.3 L1564.5,781.3 L1566.2,760.8 L1568.0,774.1 L1569.8,768.5 L1571.5,781.2 L1573.2,763.2 L1575.0,777.5 L1576.8,765.7 L1578.5,772.7 L1580.2,764.0 L1582.0,770.0 L1583.8,766.4 L1585.5,769.6 L1587.2,742.7 L1589.0,745.5 L1590.8,748.0 L1592.5,771.6 L1594.2,753.1 L1596.0,781.1 L1597.8,754.7 L1599.5,778.4 L1601.2,758.2 L1603.0,770.0 L1604.8,742.8 L1606.5,771.4 L1608.2,750.2 L1610.0,780.6 L1611.8,753.4 L1613.5,763.5 L1615.2,742.8 L1617.0,779.6 L1618.8,731.8 L1620.5,772.3 L1622.2,742.1 L1624.0,759.3 L1625.8,729.8 L1627.5,763.4 L1629.2,730.7 L1631.0,776.7 L1632.8,737.5 L1634.5,776.1 L1636.2,736.8 L1638.0,759.9 L1639.8,719.0 L1641.5,757.9 L1643.2,716.7 L1645.0,762.7 L1646.8,716.7 L1648.5,771.8 L1650.2,717.7 L1652.0,758.0 L1653.8,730.8 L1655.5,777.2 L1657.2,731.7 L1659.0,772.1 L1660.8,709.4 L1662.5,774.6 L1664.2,713.5 L1666.0,764.5 L1667.8,715.6 L1669.5,750.5 L1671.2,719.9 L1673.0,780.3 L1674.8,716.5 L1676.5,758.6 L1678.2,712.9 L1680.0,751.0 L1681.8,734.8 L1683.5,758.7 L1685.2,737.9 L1687.0,770.1 L1688.8,709.8 L1690.5,761.5 L1692.2,721.0 L1694.0,747.0 L1695.8,710.9 L1697.5,780.8 L1699.2,697.3 L1701.0,753.5 L1702.8,721.6" fill="none" stroke="#ec0c0c" stroke-width="4.6" stroke-linejoin="round" stroke-linecap="round"/>
<path d="M399.0,869.2 L400.8,866.0 L402.5,868.9 L404.2,866.5 L406.0,870.4 L407.8,872.2 L409.5,878.7 L411.2,876.8 L413.0,879.1 L414.8,881.5 L416.5,884.7 L418.2,883.9 L420.0,888.7 L421.8,888.4 L423.5,893.2 L425.2,891.3 L427.0,897.5 L428.8,896.8 L430.5,899.5 L432.2,898.9 L434.0,903.6 L435.8,902.1 L437.5,908.1 L439.2,906.5 L441.0,910.1 L442.8,908.9 L444.5,914.1 L446.2,912.1 L448.0,915.0 L449.8,915.1 L451.5,916.8 L453.2,916.6 L455.0,918.8 L456.8,919.6 L458.5,922.2 L460.2,921.5 L462.0,923.5 L463.8,923.3 L465.5,923.9 L467.2,924.8 L469.0,926.5 L470.8,927.9 L472.5,928.8 L474.2,929.6 L476.0,931.1 L477.8,932.8 L479.5,932.8 L481.2,933.5 L483.0,936.3 L484.8,935.0 L486.5,937.8 L488.2,937.4 L490.0,938.1 L491.8,938.7 L493.5,939.4 L495.2,939.9 L497.0,941.4 L498.8,941.6 L500.5,942.0 L502.2,941.5 L504.0,942.4 L505.8,942.2 L507.5,943.9 L509.2,941.8 L511.0,944.9 L512.8,944.1 L514.5,945.6 L516.2,945.5 L518.0,946.6 L519.8,946.2 L521.5,947.1 L523.2,947.4 L525.0,948.3 L526.8,948.4 L528.5,949.4 L530.2,949.3 L532.0,949.8 L533.8,949.3 L535.5,948.9 L537.2,949.0 L539.0,949.0 L540.8,950.0 L542.5,949.5 L544.2,950.2 L546.0,952.2 L547.8,949.6 L549.5,951.8 L551.2,950.4 L553.0,950.9 L554.8,950.2 L556.5,951.9 L558.2,951.7 L560.0,952.0 L561.8,950.3 L563.5,951.3 L565.2,950.6 L567.0,952.0 L568.8,951.1 L570.5,951.7 L572.2,952.0 L574.0,951.8 L575.8,951.4 L577.5,952.2 L579.2,950.7 L581.0,952.6 L582.8,952.0 L584.5,953.2 L586.2,951.5 L588.0,952.2 L589.8,952.2 L591.5,952.1 L593.2,951.6 L595.0,951.1 L596.8,950.1 L598.5,950.4 L600.2,949.9 L602.0,949.8 L603.8,949.5 L605.5,950.3 L607.2,949.2 L609.0,948.4 L610.8,948.7 L612.5,949.0 L614.2,946.9 L616.0,947.5 L617.8,947.2 L619.5,948.2 L621.2,946.6 L623.0,946.1 L624.8,946.5 L626.5,947.0 L628.2,947.1 L630.0,946.1 L631.8,947.1 L633.5,947.7 L635.2,946.1 L637.0,947.4 L638.8,945.7 L640.5,946.7 L642.2,944.8 L644.0,946.1 L645.8,944.7 L647.5,945.0 L649.2,945.4 L651.0,945.7 L652.8,946.1 L654.5,946.5 L656.2,945.4 L658.0,945.9 L659.8,945.2 L661.5,944.9 L663.2,945.2 L665.0,945.3 L666.8,944.3 L668.5,944.7 L670.2,943.2 L672.0,944.4 L673.8,944.0 L675.5,944.9 L677.2,944.1 L679.0,944.7 L680.8,943.5 L682.5,943.9 L684.2,942.5 L686.0,943.8 L687.8,943.1 L689.5,944.7 L691.2,942.5 L693.0,942.2 L694.8,942.7 L696.5,942.4 L698.2,941.6 L700.0,941.7 L701.8,940.3 L703.5,941.2 L705.2,939.9 L707.0,939.4 L708.8,937.9 L710.5,938.2 L712.2,936.8 L714.0,936.7 L715.8,935.0 L717.5,935.6 L719.2,934.6 L721.0,934.7 L722.8,932.9 L724.5,933.6 L726.2,932.6 L728.0,933.8 L729.8,932.0 L731.5,929.7 L733.2,929.9 L735.0,930.6 L736.8,929.3 L738.5,930.7 L740.2,928.7 L742.0,927.0 L743.8,927.1 L745.5,926.8 L747.2,924.9 L749.0,925.2 L750.8,922.1 L752.5,923.0 L754.2,918.9 L756.0,919.8 L757.8,918.2 L759.5,918.9 L761.2,915.2 L763.0,914.3 L764.8,913.9 L766.5,913.2 L768.2,912.7 L770.0,911.7 L771.8,910.1 L773.5,911.7 L775.2,909.0 L777.0,909.5 L778.8,907.2 L780.5,908.5 L782.2,905.6 L784.0,906.5 L785.8,904.0 L787.5,903.5 L789.2,902.6 L791.0,903.0 L792.8,901.7 L794.5,901.1 L796.2,899.4 L798.0,900.2 L799.8,899.4 L801.5,896.7 L803.2,896.4 L805.0,895.1 L806.8,893.5 L808.5,892.2 L810.2,891.2 L812.0,889.3 L813.8,887.1 L815.5,886.7 L817.2,884.2 L819.0,885.0 L820.8,883.2 L822.5,881.2 L824.2,880.2 L826.0,878.9 L827.8,877.0 L829.5,877.0 L831.2,876.1 L833.0,874.3 L834.8,871.8 L836.5,871.6 L838.2,871.1 L840.0,869.4 L841.8,868.5 L843.5,868.7 L845.2,865.7 L847.0,867.2 L848.8,867.0 L850.5,866.7 L852.2,865.2 L854.0,867.0 L855.8,865.9 L857.5,867.9 L859.2,865.7 L861.0,867.1 L862.8,866.8 L864.5,868.2 L866.2,867.3 L868.0,868.9 L869.8,867.9 L871.5,869.3 L873.2,869.4 L875.0,870.3 L876.8,870.5 L878.5,872.0 L880.2,872.3 L882.0,873.9 L883.8,872.9 L885.5,882.7 L887.2,891.3 L889.0,889.7 L890.8,877.3 L892.5,869.3 L894.2,868.4 L896.0,867.5 L897.8,864.6 L899.5,862.6 L901.2,860.3 L903.0,858.6 L904.8,855.0 L906.5,855.0 L908.2,853.7 L910.0,857.0 L911.8,856.0 L913.5,859.7 L915.2,860.5 L917.0,862.4 L918.8,863.7 L920.5,864.2 L922.2,865.2 L924.0,867.0 L925.8,866.8 L927.5,868.5 L929.2,869.0 L931.0,869.8 L932.8,868.5 L934.5,869.9 L936.2,869.2 L938.0,871.7 L939.8,870.3 L941.5,870.7 L943.2,869.8 L945.0,871.0 L946.8,869.6 L948.5,872.5 L950.2,871.4 L952.0,872.1 L953.8,871.2 L955.5,873.1 L957.2,872.7 L959.0,873.1 L960.8,873.2 L962.5,874.2 L964.2,873.7 L966.0,874.6 L967.8,873.7 L969.5,875.4 L971.2,873.1 L973.0,874.7 L974.8,874.2 L976.5,875.0 L978.2,874.0 L980.0,874.4 L981.8,873.7 L983.5,874.8 L985.2,873.7 L987.0,875.8 L988.8,875.2 L990.5,876.1 L992.2,874.8 L994.0,876.0 L995.8,875.5 L997.5,875.9 L999.2,874.7 L1001.0,877.3 L1002.8,874.0 L1004.5,875.6 L1006.2,875.7 L1008.0,875.8 L1009.8,875.0 L1011.5,875.4 L1013.2,873.0 L1015.0,874.3 L1016.8,872.2 L1018.5,880.1 L1020.2,886.7 L1022.0,885.3 L1023.8,876.8 L1025.5,871.4 L1027.2,869.7 L1029.0,870.4 L1030.8,868.6 L1032.5,870.3 L1034.2,869.8 L1036.0,871.5 L1037.8,870.9 L1039.5,870.9 L1041.2,870.4 L1043.0,871.8 L1044.8,871.1 L1046.5,869.6 L1048.2,870.8 L1050.0,872.6 L1051.8,870.9 L1053.5,873.7 L1055.2,873.0 L1057.0,872.3 L1058.8,871.8 L1060.5,873.4 L1062.2,872.5 L1064.0,871.9 L1065.8,871.9 L1067.5,873.0 L1069.2,872.3 L1071.0,873.5 L1072.8,872.3 L1074.5,879.0 L1076.2,883.7 L1078.0,883.8 L1079.8,876.0 L1081.5,874.0 L1083.2,872.8 L1085.0,873.1 L1086.8,872.5 L1088.5,872.5 L1090.2,871.7 L1092.0,873.6 L1093.8,870.5 L1095.5,874.5 L1097.2,871.5 L1099.0,874.0 L1100.8,871.6 L1102.5,872.1 L1104.2,871.2 L1106.0,871.3 L1107.8,871.0 L1109.5,872.0 L1111.2,869.5 L1113.0,869.9 L1114.8,868.7 L1116.5,869.5 L1118.2,868.9 L1120.0,870.6 L1121.8,869.3 L1123.5,870.2 L1125.2,868.9 L1127.0,870.5 L1128.8,867.2 L1130.5,869.8 L1132.2,868.7 L1134.0,870.8 L1135.8,869.1 L1137.5,871.0 L1139.2,868.5 L1141.0,870.5 L1142.8,868.6 L1144.5,870.4 L1146.2,867.6 L1148.0,894.4 L1149.8,932.9 L1151.5,949.9 L1153.2,908.6 L1155.0,868.4 L1156.8,867.9 L1158.5,870.1 L1160.2,868.8 L1162.0,869.3 L1163.8,868.3 L1165.5,869.2 L1167.2,868.4 L1169.0,870.4 L1170.8,867.9 L1172.5,869.6 L1174.2,867.4 L1176.0,867.2 L1177.8,867.3 L1179.5,869.1 L1181.2,868.9 L1183.0,867.5 L1184.8,869.2 L1186.5,869.4 L1188.2,868.9 L1190.0,870.7 L1191.8,867.3 L1193.5,868.6 L1195.2,869.0 L1197.0,869.9 L1198.8,867.7 L1200.5,871.1 L1202.2,869.5 L1204.0,871.3 L1205.8,869.1 L1207.5,871.4 L1209.2,870.5 L1211.0,871.7 L1212.8,868.2 L1214.5,871.1 L1216.2,869.4 L1218.0,870.5 L1219.8,868.1 L1221.5,869.0 L1223.2,866.8 L1225.0,869.4 L1226.8,867.5 L1228.5,870.1 L1230.2,865.8 L1232.0,867.8 L1233.8,865.3 L1235.5,867.9 L1237.2,867.3 L1239.0,866.6 L1240.8,871.9 L1242.5,885.3 L1244.2,892.8 L1246.0,882.6 L1247.8,866.2 L1249.5,866.7 L1251.2,863.6 L1253.0,864.6 L1254.8,862.7 L1256.5,862.7 L1258.2,862.8 L1260.0,865.1 L1261.8,863.3 L1263.5,862.2 L1265.2,862.5 L1267.0,864.1 L1268.8,861.0 L1270.5,862.8 L1272.2,862.2 L1274.0,862.5 L1275.8,861.3 L1277.5,864.0 L1279.2,862.1 L1281.0,863.2 L1282.8,861.9 L1284.5,863.7 L1286.2,860.9 L1288.0,864.8 L1289.8,860.4 L1291.5,863.3 L1293.2,861.4 L1295.0,863.0 L1296.8,861.8 L1298.5,863.6 L1300.2,861.6 L1302.0,860.8 L1303.8,862.5 L1305.5,864.9 L1307.2,861.1 L1309.0,864.6 L1310.8,861.6 L1312.5,863.9 L1314.2,862.6 L1316.0,863.7 L1317.8,860.1 L1319.5,862.9 L1321.2,860.5 L1323.0,862.4 L1324.8,861.0 L1326.5,862.8 L1328.2,861.9 L1330.0,863.5 L1331.8,860.2 L1333.5,864.7 L1335.2,859.3 L1337.0,863.1 L1338.8,860.9 L1340.5,863.8 L1342.2,862.1 L1344.0,863.6 L1345.8,861.4 L1347.5,862.7 L1349.2,861.8 L1351.0,860.6 L1352.8,857.6 L1354.5,861.8 L1356.2,861.3 L1358.0,862.6 L1359.8,861.0 L1361.5,862.1 L1363.2,860.2 L1365.0,863.0 L1366.8,858.8 L1368.5,863.0 L1370.2,857.1 L1372.0,861.1 L1373.8,856.6 L1375.5,861.2 L1377.2,856.2 L1379.0,860.9 L1380.8,856.6 L1382.5,859.9 L1384.2,859.4 L1386.0,870.9 L1387.8,881.8 L1389.5,873.4 L1391.2,864.2 L1393.0,857.8 L1394.8,856.2 L1396.5,857.4 L1398.2,857.9 L1400.0,857.2 L1401.8,848.5 L1403.5,847.9 L1405.2,849.0 L1407.0,860.4 L1408.8,855.2 L1410.5,860.6 L1412.2,865.0 L1414.0,864.4 L1415.8,860.0 L1417.5,858.1 L1419.2,855.0 L1421.0,856.4 L1422.8,852.6 L1424.5,853.9 L1426.2,853.5 L1428.0,854.8 L1429.8,851.7 L1431.5,853.0 L1433.2,851.5 L1435.0,855.9 L1436.8,854.3 L1438.5,853.6 L1440.2,851.7 L1442.0,851.8 L1443.8,849.0 L1445.5,852.8 L1447.2,852.0 L1449.0,868.9 L1450.8,888.2 L1452.5,914.7 L1454.2,899.3 L1456.0,877.7 L1457.8,853.6 L1459.5,852.2 L1461.2,852.8 L1463.0,845.5 L1464.8,831.9 L1466.5,846.2 L1468.2,845.7 L1470.0,853.8 L1471.8,849.3 L1473.5,855.2 L1475.2,850.1 L1477.0,855.2 L1478.8,850.9 L1480.5,851.4 L1482.2,844.1 L1484.0,852.2 L1485.8,845.3 L1487.5,851.4 L1489.2,844.1 L1491.0,850.5 L1492.8,845.7 L1494.5,843.3 L1496.2,841.1 L1498.0,841.4 L1499.8,833.9 L1501.5,841.7 L1503.2,837.7 L1505.0,839.7 L1506.8,833.8 L1508.5,841.0 L1510.2,835.4 L1512.0,841.0 L1513.8,835.1 L1515.5,844.2 L1517.2,839.0 L1519.0,844.5 L1520.8,837.1 L1522.5,847.6 L1524.2,835.4 L1526.0,841.2 L1527.8,835.6 L1529.5,844.6 L1531.2,844.2 L1533.0,846.9 L1534.8,839.3 L1536.5,849.6 L1538.2,841.0 L1540.0,852.4 L1541.8,837.6 L1543.5,852.8 L1545.2,837.8 L1547.0,849.1 L1548.8,837.8 L1550.5,849.5 L1552.2,846.9 L1554.0,855.8 L1555.8,838.4 L1557.5,840.3 L1559.2,843.7 L1561.0,852.2 L1562.8,837.7 L1564.5,857.5 L1566.2,845.3 L1568.0,850.0 L1569.8,836.6 L1571.5,852.8 L1573.2,845.4 L1575.0,861.2 L1576.8,846.6 L1578.5,858.2 L1580.2,841.9 L1582.0,854.1 L1583.8,841.7 L1585.5,859.1 L1587.2,837.3 L1589.0,848.3 L1590.8,840.2 L1592.5,848.0 L1594.2,837.7 L1596.0,855.5 L1597.8,840.2 L1599.5,852.6 L1601.2,839.7 L1603.0,858.3 L1604.8,842.5 L1606.5,865.4 L1608.2,845.2 L1610.0,864.9 L1611.8,827.8 L1613.5,858.6 L1615.2,832.7 L1617.0,851.2 L1618.8,835.6 L1620.5,891.9 L1622.2,862.4 L1624.0,863.6 L1625.8,821.6 L1627.5,869.4 L1629.2,823.5 L1631.0,872.0 L1632.8,840.3 L1634.5,877.3 L1636.2,823.0 L1638.0,869.3 L1639.8,827.2 L1641.5,864.9 L1643.2,817.3 L1645.0,864.7 L1646.8,842.3 L1648.5,860.8 L1650.2,821.3 L1652.0,872.3 L1653.8,831.9 L1655.5,889.9 L1657.2,825.8 L1659.0,856.5 L1660.8,835.4 L1662.5,876.9 L1664.2,805.7 L1666.0,863.9 L1667.8,817.2 L1669.5,889.3 L1671.2,839.7 L1673.0,900.1 L1674.8,831.0 L1676.5,859.6 L1678.2,804.0 L1680.0,900.1 L1681.8,822.3 L1683.5,867.9 L1685.2,844.1 L1687.0,896.3 L1688.8,822.9 L1690.5,898.2 L1692.2,820.5 L1694.0,887.0 L1695.8,823.7 L1697.5,874.1 L1699.2,816.7 L1701.0,855.8 L1702.8,824.1" fill="none" stroke="#000" stroke-width="5" stroke-linejoin="round"/>
<path d="M399.0,867.4 L400.8,871.6 L402.5,868.1 L404.2,875.3 L406.0,870.5 L407.8,875.0 L409.5,878.8 L411.2,881.8 L413.0,880.7 L414.8,887.2 L416.5,886.9 L418.2,891.8 L420.0,887.3 L421.8,893.0 L423.5,892.4 L425.2,895.0 L427.0,895.8 L428.8,900.7 L430.5,902.3 L432.2,906.0 L434.0,905.0 L435.8,907.9 L437.5,907.7 L439.2,912.0 L441.0,910.3 L442.8,913.5 L444.5,913.3 L446.2,914.8 L448.0,916.0 L449.8,918.8 L451.5,918.7 L453.2,921.0 L455.0,920.9 L456.8,922.3 L458.5,923.0 L460.2,925.2 L462.0,923.9 L463.8,926.2 L465.5,926.8 L467.2,927.5 L469.0,928.2 L470.8,929.9 L472.5,930.0 L474.2,932.6 L476.0,932.5 L477.8,934.4 L479.5,934.4 L481.2,937.1 L483.0,938.0 L484.8,937.8 L486.5,938.7 L488.2,939.9 L490.0,939.9 L491.8,941.1 L493.5,940.1 L495.2,942.4 L497.0,941.8 L498.8,942.3 L500.5,943.0 L502.2,943.7 L504.0,944.0 L505.8,944.6 L507.5,944.9 L509.2,946.2 L511.0,946.1 L512.8,946.9 L514.5,947.7 L516.2,948.6 L518.0,948.1 L519.8,950.3 L521.5,949.2 L523.2,951.3 L525.0,949.3 L526.8,951.4 L528.5,951.2 L530.2,952.1 L532.0,950.7 L533.8,951.6 L535.5,951.1 L537.2,951.6 L539.0,951.2 L540.8,952.3 L542.5,952.0 L544.2,952.6 L546.0,952.7 L547.8,952.4 L549.5,952.5 L551.2,954.1 L553.0,952.8 L554.8,953.3 L556.5,953.4 L558.2,953.8 L560.0,953.9 L561.8,953.0 L563.5,953.8 L565.2,955.2 L567.0,954.0 L568.8,955.5 L570.5,954.9 L572.2,954.4 L574.0,955.3 L575.8,955.1 L577.5,953.8 L579.2,954.5 L581.0,953.6 L582.8,954.1 L584.5,953.3 L586.2,954.4 L588.0,953.9 L589.8,954.2 L591.5,953.8 L593.2,954.2 L595.0,951.5 L596.8,953.9 L598.5,952.0 L600.2,952.5 L602.0,952.5 L603.8,953.0 L605.5,950.2 L607.2,951.4 L609.0,950.3 L610.8,951.3 L612.5,950.3 L614.2,950.5 L616.0,948.8 L617.8,951.3 L619.5,949.4 L621.2,949.6 L623.0,949.6 L624.8,949.0 L626.5,949.1 L628.2,949.5 L630.0,948.4 L631.8,948.7 L633.5,947.8 L635.2,947.8 L637.0,946.7 L638.8,948.4 L640.5,947.6 L642.2,949.5 L644.0,947.6 L645.8,948.2 L647.5,948.2 L649.2,948.7 L651.0,948.7 L652.8,948.0 L654.5,947.7 L656.2,948.5 L658.0,947.9 L659.8,948.4 L661.5,947.6 L663.2,947.1 L665.0,946.9 L666.8,947.5 L668.5,946.9 L670.2,947.1 L672.0,945.7 L673.8,946.5 L675.5,945.6 L677.2,945.8 L679.0,945.7 L680.8,946.5 L682.5,945.1 L684.2,944.6 L686.0,944.4 L687.8,944.1 L689.5,944.9 L691.2,945.2 L693.0,944.2 L694.8,944.0 L696.5,942.2 L698.2,943.5 L700.0,942.9 L701.8,942.7 L703.5,941.3 L705.2,943.3 L707.0,940.0 L708.8,941.2 L710.5,939.0 L712.2,939.8 L714.0,938.9 L715.8,938.6 L717.5,938.0 L719.2,938.2 L721.0,935.2 L722.8,936.7 L724.5,935.5 L726.2,935.9 L728.0,935.2 L729.8,934.7 L731.5,933.9 L733.2,934.4 L735.0,932.8 L736.8,933.0 L738.5,930.8 L740.2,931.7 L742.0,929.9 L743.8,929.9 L745.5,927.9 L747.2,928.0 L749.0,925.9 L750.8,926.7 L752.5,924.1 L754.2,923.6 L756.0,921.2 L757.8,921.5 L759.5,919.2 L761.2,918.9 L763.0,916.1 L764.8,916.8 L766.5,914.8 L768.2,914.5 L770.0,912.8 L771.8,912.6 L773.5,910.9 L775.2,911.5 L777.0,910.8 L778.8,910.0 L780.5,910.5 L782.2,908.3 L784.0,908.4 L785.8,907.9 L787.5,906.8 L789.2,906.1 L791.0,903.4 L792.8,904.6 L794.5,903.0 L796.2,902.7 L798.0,899.4 L799.8,901.5 L801.5,898.5 L803.2,898.7 L805.0,897.3 L806.8,897.0 L808.5,894.5 L810.2,893.5 L812.0,892.3 L813.8,892.0 L815.5,889.2 L817.2,888.2 L819.0,886.7 L820.8,885.2 L822.5,884.5 L824.2,883.4 L826.0,880.7 L827.8,880.8 L829.5,877.9 L831.2,878.0 L833.0,875.6 L834.8,875.0 L836.5,873.7 L838.2,874.1 L840.0,871.4 L841.8,871.8 L843.5,869.7 L845.2,870.6 L847.0,868.1 L848.8,870.3 L850.5,868.9 L852.2,869.7 L854.0,869.6 L855.8,869.8 L857.5,869.0 L859.2,870.7 L861.0,869.1 L862.8,869.4 L864.5,869.0 L866.2,870.5 L868.0,870.6 L869.8,871.7 L871.5,871.5 L873.2,872.9 L875.0,872.7 L876.8,875.0 L878.5,873.9 L880.2,874.6 L882.0,875.0 L883.8,875.6 L885.5,875.1 L887.2,876.2 L889.0,874.3 L890.8,875.0 L892.5,871.7 L894.2,871.2 L896.0,869.8 L897.8,867.4 L899.5,864.2 L901.2,863.0 L903.0,860.2 L904.8,859.5 L906.5,856.6 L908.2,857.3 L910.0,856.9 L911.8,860.6 L913.5,860.8 L915.2,863.5 L917.0,862.4 L918.8,866.0 L920.5,866.2 L922.2,868.3 L924.0,868.3 L925.8,869.8 L927.5,869.5 L929.2,871.7 L931.0,869.9 L932.8,872.7 L934.5,871.8 L936.2,872.2 L938.0,873.1 L939.8,873.8 L941.5,873.5 L943.2,874.0 L945.0,873.2 L946.8,873.9 L948.5,873.2 L950.2,875.1 L952.0,874.2 L953.8,875.4 L955.5,875.7 L957.2,876.0 L959.0,876.2 L960.8,877.2 L962.5,876.1 L964.2,876.3 L966.0,876.3 L967.8,877.1 L969.5,875.8 L971.2,877.7 L973.0,876.3 L974.8,878.0 L976.5,875.6 L978.2,876.4 L980.0,878.0 L981.8,876.9 L983.5,877.2 L985.2,876.9 L987.0,877.0 L988.8,879.5 L990.5,876.1 L992.2,878.0 L994.0,877.1 L995.8,878.0 L997.5,876.6 L999.2,877.1 L1001.0,877.8 L1002.8,878.2 L1004.5,876.3 L1006.2,877.4 L1008.0,875.3 L1009.8,879.1 L1011.5,875.6 L1013.2,875.2 L1015.0,875.7 L1016.8,876.1 L1018.5,881.1 L1020.2,889.3 L1022.0,885.8 L1023.8,879.7 L1025.5,871.6 L1027.2,873.8 L1029.0,873.0 L1030.8,873.0 L1032.5,871.6 L1034.2,871.3 L1036.0,871.3 L1037.8,872.3 L1039.5,871.9 L1041.2,874.0 L1043.0,874.0 L1044.8,873.9 L1046.5,875.2 L1048.2,875.7 L1050.0,873.1 L1051.8,874.8 L1053.5,875.1 L1055.2,875.8 L1057.0,874.3 L1058.8,874.2 L1060.5,875.3 L1062.2,874.1 L1064.0,874.1 L1065.8,876.2 L1067.5,874.4 L1069.2,875.4 L1071.0,874.9 L1072.8,875.0 L1074.5,878.8 L1076.2,887.4 L1078.0,883.3 L1079.8,879.0 L1081.5,876.0 L1083.2,874.7 L1085.0,875.1 L1086.8,877.1 L1088.5,874.0 L1090.2,875.0 L1092.0,875.2 L1093.8,875.1 L1095.5,875.6 L1097.2,876.8 L1099.0,873.0 L1100.8,875.7 L1102.5,872.8 L1104.2,875.0 L1106.0,873.5 L1107.8,874.0 L1109.5,873.8 L1111.2,873.4 L1113.0,872.9 L1114.8,873.5 L1116.5,870.9 L1118.2,874.0 L1120.0,871.8 L1121.8,872.1 L1123.5,870.9 L1125.2,872.3 L1127.0,871.7 L1128.8,872.0 L1130.5,869.0 L1132.2,870.7 L1134.0,870.9 L1135.8,872.3 L1137.5,870.7 L1139.2,871.4 L1141.0,871.2 L1142.8,873.8 L1144.5,870.5 L1146.2,872.9 L1148.0,894.2 L1149.8,936.2 L1151.5,952.4 L1153.2,912.4 L1155.0,858.5 L1156.8,835.6 L1158.5,809.3 L1160.2,787.4 L1162.0,789.9 L1163.8,814.2 L1165.5,836.9 L1167.2,861.0 L1169.0,870.2 L1170.8,871.9 L1172.5,868.5 L1174.2,871.9 L1176.0,871.8 L1177.8,872.2 L1179.5,871.9 L1181.2,873.0 L1183.0,870.1 L1184.8,871.4 L1186.5,871.4 L1188.2,873.6 L1190.0,872.8 L1191.8,874.6 L1193.5,871.8 L1195.2,873.4 L1197.0,871.9 L1198.8,874.8 L1200.5,872.3 L1202.2,873.9 L1204.0,872.7 L1205.8,871.9 L1207.5,872.0 L1209.2,872.3 L1211.0,870.9 L1212.8,873.3 L1214.5,872.1 L1216.2,872.6 L1218.0,871.7 L1219.8,873.9 L1221.5,871.8 L1223.2,872.0 L1225.0,870.2 L1226.8,872.0 L1228.5,868.2 L1230.2,869.2 L1232.0,868.6 L1233.8,870.9 L1235.5,868.1 L1237.2,871.9 L1239.0,866.7 L1240.8,867.6 L1242.5,867.2 L1244.2,870.5 L1246.0,867.8 L1247.8,869.6 L1249.5,866.7 L1251.2,868.8 L1253.0,867.1 L1254.8,868.7 L1256.5,865.8 L1258.2,866.0 L1260.0,866.0 L1261.8,867.4 L1263.5,865.8 L1265.2,867.0 L1267.0,866.0 L1268.8,865.3 L1270.5,864.9 L1272.2,866.6 L1274.0,864.9 L1275.8,866.3 L1277.5,864.6 L1279.2,865.9 L1281.0,864.2 L1282.8,866.2 L1284.5,866.0 L1286.2,865.3 L1288.0,863.9 L1289.8,865.9 L1291.5,864.7 L1293.2,865.2 L1295.0,864.2 L1296.8,866.6 L1298.5,864.3 L1300.2,865.1 L1302.0,864.4 L1303.8,864.3 L1305.5,864.2 L1307.2,865.3 L1309.0,864.5 L1310.8,867.1 L1312.5,866.0 L1314.2,867.9 L1316.0,865.0 L1317.8,866.4 L1319.5,863.5 L1321.2,865.9 L1323.0,863.9 L1324.8,865.0 L1326.5,863.8 L1328.2,865.8 L1330.0,864.8 L1331.8,865.6 L1333.5,863.0 L1335.2,865.7 L1337.0,863.4 L1338.8,866.5 L1340.5,865.2 L1342.2,867.0 L1344.0,865.0 L1345.8,865.2 L1347.5,862.3 L1349.2,864.9 L1351.0,862.4 L1352.8,865.5 L1354.5,863.7 L1356.2,866.6 L1358.0,863.8 L1359.8,866.9 L1361.5,861.2 L1363.2,865.0 L1365.0,862.7 L1366.8,865.3 L1368.5,861.9 L1370.2,863.9 L1372.0,861.0 L1373.8,861.9 L1375.5,860.3 L1377.2,863.6 L1379.0,860.6 L1380.8,863.5 L1382.5,863.3 L1384.2,864.5 L1386.0,873.9 L1387.8,884.6 L1389.5,873.4 L1391.2,866.7 L1393.0,860.5 L1394.8,860.0 L1396.5,858.4 L1398.2,861.3 L1400.0,854.1 L1401.8,851.9 L1403.5,847.4 L1405.2,856.3 L1407.0,857.5 L1408.8,857.5 L1410.5,862.8 L1412.2,871.9 L1414.0,866.6 L1415.8,864.1 L1417.5,857.8 L1419.2,855.0 L1421.0,855.8 L1422.8,855.4 L1424.5,853.4 L1426.2,858.3 L1428.0,853.8 L1429.8,857.7 L1431.5,856.1 L1433.2,855.5 L1435.0,856.5 L1436.8,860.2 L1438.5,856.1 L1440.2,854.8 L1442.0,851.8 L1443.8,858.0 L1445.5,856.7 L1447.2,858.6 L1449.0,867.5 L1450.8,894.1 L1452.5,914.5 L1454.2,908.7 L1456.0,879.7 L1457.8,861.6 L1459.5,854.3 L1461.2,854.8 L1463.0,844.8 L1464.8,838.1 L1466.5,841.4 L1468.2,851.8 L1470.0,852.6 L1471.8,857.8 L1473.5,851.6 L1475.2,857.6 L1477.0,852.5 L1478.8,857.8 L1480.5,850.9 L1482.2,855.1 L1484.0,848.8 L1485.8,851.7 L1487.5,847.4 L1489.2,849.6 L1491.0,845.0 L1492.8,849.6 L1494.5,842.1 L1496.2,845.6 L1498.0,839.7 L1499.8,849.9 L1501.5,838.6 L1503.2,844.9 L1505.0,836.4 L1506.8,843.6 L1508.5,835.5 L1510.2,843.2 L1512.0,837.6 L1513.8,847.9 L1515.5,837.7 L1517.2,842.5 L1519.0,841.9 L1520.8,848.1 L1522.5,838.0 L1524.2,850.7 L1526.0,841.7 L1527.8,851.4 L1529.5,840.8 L1531.2,847.6 L1533.0,844.8 L1534.8,851.9 L1536.5,843.7 L1538.2,850.8 L1540.0,845.8 L1541.8,858.2 L1543.5,842.4 L1545.2,852.8 L1547.0,841.6 L1548.8,850.0 L1550.5,841.4 L1552.2,851.9 L1554.0,837.1 L1555.8,853.1 L1557.5,833.2 L1559.2,851.0 L1561.0,838.4 L1562.8,859.8 L1564.5,845.6 L1566.2,854.9 L1568.0,842.2 L1569.8,852.4 L1571.5,847.5 L1573.2,857.1 L1575.0,842.4 L1576.8,862.5 L1578.5,841.7 L1580.2,862.3 L1582.0,840.5 L1583.8,853.5 L1585.5,833.6 L1587.2,861.7 L1589.0,841.6 L1590.8,854.1 L1592.5,841.1 L1594.2,863.2 L1596.0,843.9 L1597.8,859.4 L1599.5,840.2 L1601.2,867.6 L1603.0,842.2 L1604.8,869.8 L1606.5,828.4 L1608.2,872.6 L1610.0,829.8 L1611.8,872.1 L1613.5,829.7 L1615.2,863.6 L1617.0,823.6 L1618.8,870.8 L1620.5,840.1 L1622.2,866.2 L1624.0,840.7 L1625.8,874.2 L1627.5,828.4 L1629.2,878.3 L1631.0,830.6 L1632.8,859.4 L1634.5,824.4 L1636.2,877.3 L1638.0,827.8 L1639.8,867.9 L1641.5,838.5 L1643.2,885.1 L1645.0,823.9 L1646.8,872.9 L1648.5,845.6 L1650.2,871.6 L1652.0,816.1 L1653.8,882.5 L1655.5,817.6 L1657.2,881.5 L1659.0,827.3 L1660.8,873.4 L1662.5,815.4 L1664.2,864.0 L1666.0,829.1 L1667.8,895.0 L1669.5,840.7 L1671.2,890.8 L1673.0,847.0 L1674.8,879.6 L1676.5,805.6 L1678.2,901.8 L1680.0,813.8 L1681.8,896.4 L1683.5,820.9 L1685.2,901.1 L1687.0,809.1 L1688.8,868.2 L1690.5,804.4 L1692.2,888.5 L1694.0,810.0 L1695.8,868.6 L1697.5,836.3 L1699.2,869.8 L1701.0,824.3 L1702.8,865.9" fill="none" stroke="#000" stroke-width="5" stroke-linejoin="round"/>
<path d="M399.0,873.4 L400.8,870.4 L402.5,875.7 L404.2,877.0 L406.0,876.0 L407.8,877.2 L409.5,881.3 L411.2,880.4 L413.0,889.5 L414.8,886.7 L416.5,889.6 L418.2,890.4 L420.0,893.7 L421.8,893.6 L423.5,898.1 L425.2,896.9 L427.0,902.4 L428.8,902.1 L430.5,906.0 L432.2,905.1 L434.0,910.5 L435.8,908.8 L437.5,913.5 L439.2,911.4 L441.0,915.9 L442.8,915.2 L444.5,917.9 L446.2,917.2 L448.0,920.3 L449.8,920.5 L451.5,922.5 L453.2,921.3 L455.0,923.5 L456.8,922.8 L458.5,926.0 L460.2,925.4 L462.0,926.4 L463.8,927.4 L465.5,929.7 L467.2,930.3 L469.0,931.4 L470.8,931.9 L472.5,933.7 L474.2,933.2 L476.0,936.4 L477.8,935.9 L479.5,937.8 L481.2,937.9 L483.0,939.7 L484.8,939.8 L486.5,940.9 L488.2,941.5 L490.0,942.7 L491.8,943.0 L493.5,944.6 L495.2,944.0 L497.0,946.2 L498.8,945.8 L500.5,946.2 L502.2,946.0 L504.0,946.9 L505.8,947.9 L507.5,949.0 L509.2,947.5 L511.0,949.2 L512.8,947.7 L514.5,950.5 L516.2,949.6 L518.0,950.7 L519.8,950.3 L521.5,951.6 L523.2,951.7 L525.0,952.5 L526.8,952.5 L528.5,953.3 L530.2,954.1 L532.0,955.5 L533.8,952.7 L535.5,954.4 L537.2,953.4 L539.0,954.4 L540.8,954.4 L542.5,953.0 L544.2,954.0 L546.0,953.7 L547.8,953.8 L549.5,954.7 L551.2,954.1 L553.0,955.1 L554.8,954.0 L556.5,956.2 L558.2,954.0 L560.0,955.0 L561.8,955.5 L563.5,956.2 L565.2,956.4 L567.0,956.0 L568.8,954.9 L570.5,956.3 L572.2,955.7 L574.0,956.0 L575.8,956.1 L577.5,956.4 L579.2,955.0 L581.0,956.5 L582.8,955.2 L584.5,956.3 L586.2,955.5 L588.0,955.8 L589.8,956.2 L591.5,955.9 L593.2,956.1 L595.0,955.2 L596.8,954.5 L598.5,954.6 L600.2,954.7 L602.0,955.1 L603.8,953.1 L605.5,953.0 L607.2,952.1 L609.0,953.5 L610.8,953.0 L612.5,952.5 L614.2,951.8 L616.0,952.3 L617.8,951.8 L619.5,951.6 L621.2,950.0 L623.0,951.5 L624.8,951.9 L626.5,951.1 L628.2,950.0 L630.0,950.8 L631.8,948.8 L633.5,950.6 L635.2,949.3 L637.0,949.7 L638.8,949.7 L640.5,950.8 L642.2,950.5 L644.0,951.2 L645.8,949.9 L647.5,950.8 L649.2,950.5 L651.0,951.4 L652.8,949.5 L654.5,950.5 L656.2,949.3 L658.0,950.1 L659.8,950.0 L661.5,950.7 L663.2,949.4 L665.0,948.7 L666.8,948.4 L668.5,949.3 L670.2,948.7 L672.0,950.0 L673.8,949.1 L675.5,948.7 L677.2,948.3 L679.0,947.8 L680.8,947.2 L682.5,949.2 L684.2,947.5 L686.0,948.5 L687.8,947.6 L689.5,948.3 L691.2,946.8 L693.0,948.0 L694.8,946.7 L696.5,947.8 L698.2,946.4 L700.0,946.4 L701.8,945.9 L703.5,945.2 L705.2,944.4 L707.0,943.2 L708.8,943.1 L710.5,942.2 L712.2,940.8 L714.0,940.3 L715.8,939.7 L717.5,940.4 L719.2,938.6 L721.0,940.0 L722.8,937.9 L724.5,937.1 L726.2,936.5 L728.0,937.2 L729.8,936.0 L731.5,936.1 L733.2,933.7 L735.0,936.0 L736.8,934.4 L738.5,934.4 L740.2,933.4 L742.0,933.2 L743.8,930.5 L745.5,930.1 L747.2,929.5 L749.0,928.0 L750.8,926.6 L752.5,925.4 L754.2,925.0 L756.0,924.1 L757.8,922.3 L759.5,921.9 L761.2,919.6 L763.0,920.0 L764.8,918.4 L766.5,918.1 L768.2,917.2 L770.0,917.5 L771.8,915.9 L773.5,915.1 L775.2,913.5 L777.0,913.8 L778.8,911.3 L780.5,911.8 L782.2,910.3 L784.0,909.0 L785.8,908.9 L787.5,909.3 L789.2,907.1 L791.0,907.3 L792.8,905.0 L794.5,906.0 L796.2,904.6 L798.0,903.5 L799.8,902.1 L801.5,901.4 L803.2,899.0 L805.0,898.6 L806.8,896.7 L808.5,897.5 L810.2,894.4 L812.0,894.9 L813.8,893.9 L815.5,892.4 L817.2,890.2 L819.0,889.8 L820.8,886.3 L822.5,887.8 L824.2,885.7 L826.0,884.5 L827.8,881.7 L829.5,882.1 L831.2,879.5 L833.0,879.5 L834.8,876.6 L836.5,876.9 L838.2,874.1 L840.0,873.8 L841.8,871.7 L843.5,873.4 L845.2,871.1 L847.0,872.6 L848.8,871.0 L850.5,871.8 L852.2,869.7 L854.0,872.0 L855.8,871.7 L857.5,873.2 L859.2,871.7 L861.0,872.8 L862.8,872.8 L864.5,873.8 L866.2,873.9 L868.0,874.7 L869.8,874.2 L871.5,875.5 L873.2,875.5 L875.0,876.6 L876.8,875.6 L878.5,876.8 L880.2,876.1 L882.0,878.2 L883.8,877.3 L885.5,878.1 L887.2,877.8 L889.0,877.5 L890.8,876.0 L892.5,875.4 L894.2,873.0 L896.0,872.3 L897.8,869.8 L899.5,868.3 L901.2,864.1 L903.0,862.6 L904.8,859.7 L906.5,859.8 L908.2,858.7 L910.0,860.8 L911.8,862.7 L913.5,863.8 L915.2,865.1 L917.0,866.3 L918.8,866.4 L920.5,869.9 L922.2,869.7 L924.0,870.6 L925.8,872.4 L927.5,872.5 L929.2,873.6 L931.0,874.8 L932.8,873.1 L934.5,874.1 L936.2,874.5 L938.0,876.4 L939.8,874.9 L941.5,875.1 L943.2,875.1 L945.0,876.6 L946.8,874.8 L948.5,876.2 L950.2,875.5 L952.0,877.2 L953.8,877.8 L955.5,877.9 L957.2,878.1 L959.0,878.1 L960.8,877.4 L962.5,878.4 L964.2,877.7 L966.0,880.1 L967.8,878.9 L969.5,879.3 L971.2,878.5 L973.0,878.3 L974.8,878.2 L976.5,878.4 L978.2,877.9 L980.0,880.2 L981.8,878.5 L983.5,879.2 L985.2,878.9 L987.0,879.5 L988.8,879.6 L990.5,881.0 L992.2,880.3 L994.0,880.4 L995.8,879.8 L997.5,881.1 L999.2,879.0 L1001.0,880.1 L1002.8,879.7 L1004.5,880.2 L1006.2,878.7 L1008.0,879.5 L1009.8,877.7 L1011.5,877.7 L1013.2,877.6 L1015.0,878.0 L1016.8,876.4 L1018.5,884.1 L1020.2,890.0 L1022.0,890.3 L1023.8,881.0 L1025.5,877.4 L1027.2,876.7 L1029.0,875.6 L1030.8,874.6 L1032.5,875.1 L1034.2,873.8 L1036.0,875.3 L1037.8,874.8 L1039.5,875.7 L1041.2,875.3 L1043.0,875.5 L1044.8,874.8 L1046.5,877.2 L1048.2,876.3 L1050.0,878.6 L1051.8,877.3 L1053.5,877.7 L1055.2,875.1 L1057.0,876.7 L1058.8,876.0 L1060.5,877.9 L1062.2,876.4 L1064.0,878.9 L1065.8,876.2 L1067.5,876.6 L1069.2,875.9 L1071.0,878.2 L1072.8,877.5 L1074.5,882.9 L1076.2,888.5 L1078.0,888.7 L1079.8,882.1 L1081.5,876.2 L1083.2,876.6 L1085.0,877.8 L1086.8,876.6 L1088.5,877.9 L1090.2,876.1 L1092.0,877.6 L1093.8,875.9 L1095.5,876.5 L1097.2,877.2 L1099.0,877.5 L1100.8,875.2 L1102.5,878.4 L1104.2,875.1 L1106.0,876.9 L1107.8,875.5 L1109.5,875.9 L1111.2,874.9 L1113.0,875.5 L1114.8,874.9 L1116.5,875.8 L1118.2,875.3 L1120.0,875.4 L1121.8,874.1 L1123.5,874.7 L1125.2,873.7 L1127.0,876.0 L1128.8,874.1 L1130.5,875.1 L1132.2,874.1 L1134.0,875.4 L1135.8,874.5 L1137.5,874.7 L1139.2,875.1 L1141.0,874.8 L1142.8,875.2 L1144.5,875.4 L1146.2,874.2 L1148.0,875.7 L1149.8,873.4 L1151.5,876.5 L1153.2,874.4 L1155.0,862.1 L1156.8,835.5 L1158.5,813.6 L1160.2,788.1 L1162.0,794.5 L1163.8,815.2 L1165.5,840.1 L1167.2,862.9 L1169.0,873.5 L1170.8,872.9 L1172.5,874.7 L1174.2,872.2 L1176.0,874.3 L1177.8,872.5 L1179.5,874.4 L1181.2,871.5 L1183.0,876.0 L1184.8,873.1 L1186.5,874.5 L1188.2,873.4 L1190.0,874.4 L1191.8,874.6 L1193.5,874.4 L1195.2,875.1 L1197.0,875.9 L1198.8,875.1 L1200.5,874.9 L1202.2,874.3 L1204.0,876.2 L1205.8,874.3 L1207.5,874.4 L1209.2,873.8 L1211.0,874.3 L1212.8,873.9 L1214.5,875.9 L1216.2,873.3 L1218.0,875.8 L1219.8,872.2 L1221.5,873.2 L1223.2,872.2 L1225.0,874.2 L1226.8,871.7 L1228.5,874.3 L1230.2,870.4 L1232.0,872.4 L1233.8,868.9 L1235.5,872.9 L1237.2,868.8 L1239.0,872.9 L1240.8,871.6 L1242.5,870.8 L1244.2,870.3 L1246.0,870.4 L1247.8,868.8 L1249.5,872.2 L1251.2,867.0 L1253.0,869.0 L1254.8,866.2 L1256.5,869.4 L1258.2,867.7 L1260.0,868.3 L1261.8,868.2 L1263.5,867.3 L1265.2,868.0 L1267.0,868.2 L1268.8,865.3 L1270.5,867.4 L1272.2,867.0 L1274.0,868.8 L1275.8,867.7 L1277.5,869.5 L1279.2,867.9 L1281.0,868.3 L1282.8,866.9 L1284.5,869.2 L1286.2,867.5 L1288.0,867.9 L1289.8,867.2 L1291.5,869.1 L1293.2,868.0 L1295.0,868.2 L1296.8,866.5 L1298.5,869.0 L1300.2,868.3 L1302.0,869.1 L1303.8,867.9 L1305.5,868.1 L1307.2,866.5 L1309.0,868.5 L1310.8,867.0 L1312.5,869.0 L1314.2,865.0 L1316.0,868.8 L1317.8,867.7 L1319.5,868.0 L1321.2,867.2 L1323.0,871.4 L1324.8,866.5 L1326.5,868.2 L1328.2,868.3 L1330.0,869.8 L1331.8,866.2 L1333.5,868.8 L1335.2,866.0 L1337.0,870.9 L1338.8,867.2 L1340.5,869.6 L1342.2,866.8 L1344.0,867.8 L1345.8,865.0 L1347.5,868.5 L1349.2,867.3 L1351.0,867.1 L1352.8,866.6 L1354.5,864.8 L1356.2,863.4 L1358.0,867.1 L1359.8,866.1 L1361.5,867.4 L1363.2,864.3 L1365.0,865.6 L1366.8,866.3 L1368.5,863.0 L1370.2,865.0 L1372.0,866.6 L1373.8,863.7 L1375.5,865.9 L1377.2,866.0 L1379.0,863.3 L1380.8,863.7 L1382.5,864.3 L1384.2,862.6 L1386.0,866.1 L1387.8,862.9 L1389.5,865.0 L1391.2,862.4 L1393.0,864.3 L1394.8,860.6 L1396.5,861.8 L1398.2,862.4 L1400.0,859.3 L1401.8,852.9 L1403.5,852.5 L1405.2,851.1 L1407.0,863.7 L1408.8,860.0 L1410.5,867.3 L1412.2,872.1 L1414.0,874.6 L1415.8,865.6 L1417.5,861.2 L1419.2,858.1 L1421.0,860.0 L1422.8,858.8 L1424.5,861.4 L1426.2,857.6 L1428.0,860.4 L1429.8,857.7 L1431.5,858.3 L1433.2,856.2 L1435.0,859.6 L1436.8,856.9 L1438.5,861.4 L1440.2,857.4 L1442.0,858.5 L1443.8,855.4 L1445.5,857.5 L1447.2,856.2 L1449.0,873.2 L1450.8,891.1 L1452.5,918.8 L1454.2,907.2 L1456.0,887.8 L1457.8,859.4 L1459.5,861.1 L1461.2,857.6 L1463.0,853.7 L1464.8,838.4 L1466.5,849.3 L1468.2,854.0 L1470.0,860.1 L1471.8,855.4 L1473.5,862.3 L1475.2,854.6 L1477.0,855.0 L1478.8,854.2 L1480.5,858.4 L1482.2,853.7 L1484.0,854.8 L1485.8,848.0 L1487.5,856.7 L1489.2,848.3 L1491.0,854.5 L1492.8,847.0 L1494.5,854.6 L1496.2,844.3 L1498.0,851.7 L1499.8,845.2 L1501.5,844.6 L1503.2,841.9 L1505.0,847.2 L1506.8,839.3 L1508.5,847.3 L1510.2,842.9 L1512.0,843.1 L1513.8,838.9 L1515.5,848.2 L1517.2,839.8 L1519.0,851.4 L1520.8,844.7 L1522.5,851.4 L1524.2,840.2 L1526.0,853.5 L1527.8,850.2 L1529.5,851.6 L1531.2,847.0 L1533.0,856.1 L1534.8,847.4 L1536.5,858.8 L1538.2,846.9 L1540.0,855.0 L1541.8,848.5 L1543.5,859.6 L1545.2,849.3 L1547.0,853.8 L1548.8,847.3 L1550.5,862.4 L1552.2,844.1 L1554.0,860.4 L1555.8,836.7 L1557.5,854.4 L1559.2,847.1 L1561.0,857.5 L1562.8,842.2 L1564.5,857.8 L1566.2,840.1 L1568.0,858.8 L1569.8,846.4 L1571.5,859.7 L1573.2,847.3 L1575.0,869.3 L1576.8,844.2 L1578.5,860.4 L1580.2,842.1 L1582.0,856.5 L1583.8,846.0 L1585.5,856.8 L1587.2,842.7 L1589.0,862.4 L1590.8,837.2 L1592.5,857.3 L1594.2,836.4 L1596.0,870.3 L1597.8,836.6 L1599.5,865.6 L1601.2,832.3 L1603.0,864.8 L1604.8,840.6 L1606.5,856.3 L1608.2,836.1 L1610.0,863.7 L1611.8,828.8 L1613.5,860.1 L1615.2,845.0 L1617.0,857.6 L1618.8,831.9 L1620.5,874.9 L1622.2,851.2 L1624.0,863.3 L1625.8,848.6 L1627.5,876.6 L1629.2,850.0 L1631.0,873.2 L1632.8,843.6 L1634.5,861.2 L1636.2,835.1 L1638.0,861.4 L1639.8,821.6 L1641.5,867.4 L1643.2,841.8 L1645.0,872.3 L1646.8,823.3 L1648.5,860.2 L1650.2,831.8 L1652.0,880.1 L1653.8,829.7 L1655.5,870.0 L1657.2,819.9 L1659.0,888.4 L1660.8,849.3 L1662.5,898.5 L1664.2,817.2 L1666.0,895.2 L1667.8,826.2 L1669.5,886.3 L1671.2,834.1 L1673.0,874.2 L1674.8,810.1 L1676.5,869.7 L1678.2,809.2 L1680.0,895.9 L1681.8,829.2 L1683.5,870.3 L1685.2,817.5 L1687.0,864.5 L1688.8,837.1 L1690.5,877.0 L1692.2,819.3 L1694.0,893.4 L1695.8,814.2 L1697.5,889.1 L1699.2,819.0 L1701.0,900.3 L1702.8,837.2" fill="none" stroke="#000" stroke-width="5" stroke-linejoin="round"/>
<line x1="1702.5" y1="537" x2="1702.5" y2="1080" stroke="#000" stroke-width="5"/>
<line x1="1704.5" y1="537" x2="1704.5" y2="1178" stroke="#000" stroke-width="4.5"/>
<path d="M399.0,1047.8 L400.8,1037.6 L402.5,1043.5 L404.2,1038.2 L406.0,1043.1 L407.8,1040.5 L409.5,1046.5 L411.2,1045.4 L413.0,1049.7 L414.8,1051.5 L416.5,1052.2 L418.2,1053.6 L420.0,1055.2 L421.8,1055.7 L423.5,1057.3 L425.2,1057.3 L427.0,1060.9 L428.8,1063.5 L430.5,1064.8 L432.2,1064.7 L434.0,1067.8 L435.8,1067.1 L437.5,1068.9 L439.2,1068.9 L441.0,1070.0 L442.8,1070.7 L444.5,1073.1 L446.2,1072.0 L448.0,1073.0 L449.8,1073.5 L451.5,1074.7 L453.2,1074.2 L455.0,1075.9 L456.8,1076.0 L458.5,1076.8 L460.2,1077.0 L462.0,1076.6 L463.8,1076.4 L465.5,1078.8 L467.2,1078.7 L469.0,1078.1 L470.8,1079.0 L472.5,1080.1 L474.2,1080.6 L476.0,1081.2 L477.8,1081.2 L479.5,1082.4 L481.2,1082.1 L483.0,1083.1 L484.8,1082.3 L486.5,1082.5 L488.2,1083.3 L490.0,1084.2 L491.8,1084.8 L493.5,1086.0 L495.2,1085.7 L497.0,1086.5 L498.8,1086.8 L500.5,1088.1 L502.2,1087.3 L504.0,1089.3 L505.8,1088.9 L507.5,1090.2 L509.2,1090.7 L511.0,1090.5 L512.8,1091.4 L514.5,1091.4 L516.2,1091.5 L518.0,1092.2 L519.8,1092.8 L521.5,1093.1 L523.2,1093.3 L525.0,1093.5 L526.8,1094.4 L528.5,1095.7 L530.2,1094.6 L532.0,1096.4 L533.8,1095.5 L535.5,1097.3 L537.2,1095.6 L539.0,1095.7 L540.8,1096.5 L542.5,1096.0 L544.2,1094.9 L546.0,1096.0 L547.8,1094.6 L549.5,1095.7 L551.2,1094.6 L553.0,1096.3 L554.8,1094.9 L556.5,1094.4 L558.2,1093.2 L560.0,1093.7 L561.8,1092.3 L563.5,1093.4 L565.2,1092.3 L567.0,1092.3 L568.8,1091.1 L570.5,1091.9 L572.2,1091.4 L574.0,1091.5 L575.8,1089.8 L577.5,1090.0 L579.2,1088.2 L581.0,1088.8 L582.8,1087.4 L584.5,1088.0 L586.2,1086.2 L588.0,1086.1 L589.8,1085.7 L591.5,1085.9 L593.2,1083.7 L595.0,1083.7 L596.8,1082.5 L598.5,1082.2 L600.2,1080.2 L602.0,1080.6 L603.8,1079.4 L605.5,1080.2 L607.2,1078.4 L609.0,1077.6 L610.8,1076.5 L612.5,1077.4 L614.2,1076.7 L616.0,1076.5 L617.8,1076.2 L619.5,1075.4 L621.2,1073.7 L623.0,1074.7 L624.8,1072.9 L626.5,1073.4 L628.2,1071.4 L630.0,1072.0 L631.8,1070.6 L633.5,1071.1 L635.2,1069.2 L637.0,1069.2 L638.8,1068.4 L640.5,1069.8 L642.2,1067.8 L644.0,1067.2 L645.8,1066.3 L647.5,1066.3 L649.2,1066.5 L651.0,1064.9 L652.8,1064.7 L654.5,1065.3 L656.2,1064.4 L658.0,1064.0 L659.8,1063.7 L661.5,1063.8 L663.2,1063.6 L665.0,1063.5 L666.8,1063.6 L668.5,1062.9 L670.2,1063.2 L672.0,1062.2 L673.8,1062.7 L675.5,1061.9 L677.2,1061.4 L679.0,1062.8 L680.8,1061.8 L682.5,1062.9 L684.2,1061.5 L686.0,1062.9 L687.8,1061.2 L689.5,1060.9 L691.2,1061.0 L693.0,1061.1 L694.8,1059.3 L696.5,1060.3 L698.2,1060.0 L700.0,1059.1 L701.8,1057.4 L703.5,1056.6 L705.2,1055.7 L707.0,1054.2 L708.8,1051.5 L710.5,1051.6 L712.2,1049.0 L714.0,1049.3 L715.8,1046.5 L717.5,1044.4 L719.2,1041.7 L721.0,1040.6 L722.8,1037.3 L724.5,1035.2 L726.2,1032.2 L728.0,1030.6 L729.8,1026.8 L731.5,1023.7 L733.2,1019.4 L735.0,1015.4 L736.8,1008.3 L738.5,1005.3 L740.2,998.3 L742.0,994.1 L743.8,986.8 L745.5,981.6 L747.2,974.9 L749.0,969.2 L750.8,962.7 L752.5,957.0 L754.2,949.9 L756.0,945.6 L757.8,940.8 L759.5,937.1 L761.2,931.6 L763.0,927.9 L764.8,923.3 L766.5,919.1 L768.2,915.1 L770.0,913.7 L771.8,908.5 L773.5,906.4 L775.2,902.3 L777.0,901.1 L778.8,897.6 L780.5,894.4 L782.2,891.3 L784.0,888.6 L785.8,887.2 L787.5,884.9 L789.2,881.7 L791.0,882.0 L792.8,879.7 L794.5,878.8 L796.2,876.3 L798.0,874.8 L799.8,874.7 L801.5,876.7 L803.2,876.6 L805.0,878.0 L806.8,880.7 L808.5,881.6 L810.2,882.8 L812.0,885.6 L813.8,887.9 L815.5,891.3 L817.2,893.5 L819.0,897.6 L820.8,899.0 L822.5,904.1 L824.2,907.5 L826.0,912.1 L827.8,914.6 L829.5,917.0 L831.2,921.9 L833.0,923.6 L834.8,926.4 L836.5,930.4 L838.2,932.5 L840.0,935.5 L841.8,936.4 L843.5,940.7 L845.2,944.2 L847.0,946.9 L848.8,948.6 L850.5,951.1 L852.2,954.2 L854.0,956.7 L855.8,957.2 L857.5,960.1 L859.2,961.5 L861.0,963.0 L862.8,965.0 L864.5,967.3 L866.2,968.9 L868.0,971.0 L869.8,971.7 L871.5,973.2 L873.2,974.4 L875.0,976.0 L876.8,976.4 L878.5,979.8 L880.2,979.5 L882.0,981.9 L883.8,982.7 L885.5,983.6 L887.2,985.5 L889.0,987.1 L890.8,987.5 L892.5,989.6 L894.2,989.7 L896.0,991.1 L897.8,992.4 L899.5,993.5 L901.2,995.1 L903.0,996.6 L904.8,996.7 L906.5,998.8 L908.2,1000.0 L910.0,1001.7 L911.8,1002.4 L913.5,1003.8 L915.2,1004.2 L917.0,1005.7 L918.8,1006.5 L920.5,1007.4 L922.2,1008.0 L924.0,1008.9 L925.8,1008.7 L927.5,1010.2 L929.2,1011.6 L931.0,1013.9 L932.8,1014.2 L934.5,1015.2 L936.2,1015.3 L938.0,1018.3 L939.8,1018.6 L941.5,1019.8 L943.2,1021.8 L945.0,1023.1 L946.8,1024.6 L948.5,1026.2 L950.2,1027.2 L952.0,1028.7 L953.8,1028.9 L955.5,1031.0 L957.2,1031.8 L959.0,1034.1 L960.8,1034.0 L962.5,1036.0 L964.2,1038.0 L966.0,1040.4 L967.8,1041.9 L969.5,1044.0 L971.2,1043.9 L973.0,1046.4 L974.8,1047.6 L976.5,1050.2 L978.2,1050.2 L980.0,1053.0 L981.8,1053.9 L983.5,1054.8 L985.2,1055.5 L987.0,1057.9 L988.8,1057.7 L990.5,1059.7 L992.2,1060.1 L994.0,1061.5 L995.8,1061.7 L997.5,1063.2 L999.2,1064.2 L1001.0,1064.7 L1002.8,1064.4 L1004.5,1066.1 L1006.2,1065.1 L1008.0,1065.9 L1009.8,1065.7 L1011.5,1065.5 L1013.2,1063.6 L1015.0,1063.7 L1016.8,1061.8 L1018.5,1059.7 L1020.2,1056.7 L1021.7,1056.3 L1023.2,1052.3 L1024.8,1047.4 L1026.3,1042.3 L1027.8,1037.7 L1029.3,1030.7 L1030.8,1024.7 L1032.3,1016.8 L1033.9,1010.0 L1035.6,1000.6 L1037.2,993.2 L1038.8,983.5 L1040.5,971.8 L1042.1,960.8 L1043.7,948.3 L1045.4,933.7 L1047.0,919.7 L1048.7,903.4 L1050.5,887.5 L1052.2,870.5 L1053.9,853.3 L1055.7,835.6 L1057.4,819.0 L1059.1,801.4 L1060.9,784.8 L1062.6,766.7 L1064.3,750.4 L1066.1,732.5 L1067.8,716.2 L1069.5,698.7 L1071.3,684.6 L1073.0,668.7 L1074.7,655.1 L1076.5,639.6 L1078.2,626.8 L1079.9,613.5 L1081.7,601.7 L1083.4,590.4 L1085.1,579.4 L1086.8,567.7 L1088.6,559.9 L1090.3,550.0 L1092.0,541.8 L1093.8,531.7 L1095.5,523.8 L1097.3,514.1 L1099.1,505.8 L1100.9,498.3 L1102.7,492.6 L1104.4,486.0 L1106.2,482.3 L1108.0,475.3 L1109.8,471.5 L1111.6,467.4 L1113.4,462.6 L1115.2,458.3 L1117.0,454.5 L1118.9,450.7 L1120.8,448.5 L1122.8,444.6 L1124.7,442.4 L1126.6,439.1 L1128.5,437.8 L1130.5,435.2 L1132.4,432.9 L1134.3,431.2 L1136.2,430.0 L1138.2,428.1 L1140.1,426.6 L1142.0,425.1 L1144.0,425.1 L1145.9,422.1 L1147.8,421.8 L1149.7,420.9 L1151.5,420.3 L1153.2,418.3 L1155.0,414.7 L1156.8,401.0 L1158.5,388.4 L1160.2,385.1 L1162.0,398.4 L1163.8,409.3 L1165.5,414.7 L1167.2,414.1 L1169.0,414.2 L1170.8,413.5 L1172.5,413.2 L1174.2,412.3 L1176.0,412.7 L1177.8,411.9 L1179.5,411.2 L1181.2,410.8 L1183.0,411.1 L1184.8,410.5 L1186.5,411.0 L1188.2,410.4 L1190.0,410.6 L1191.8,410.6 L1193.5,410.6 L1195.2,408.7 L1197.0,410.0 L1198.8,408.6 L1200.5,408.5 L1202.2,408.1 L1204.0,408.1 L1205.8,406.7 L1207.5,407.3 L1209.2,406.2 L1211.0,407.0 L1212.8,405.4 L1214.5,405.8 L1216.2,404.4 L1218.0,405.1 L1219.8,403.2 L1221.5,404.0 L1223.2,403.4 L1225.0,402.7 L1226.8,401.4 L1228.5,401.5 L1230.2,399.8 L1232.0,400.0 L1233.8,399.3 L1235.5,399.4 L1237.2,398.9 L1239.0,397.8 L1240.8,397.8 L1242.5,396.7 L1244.2,395.6 L1246.0,396.4 L1247.8,395.6 L1249.5,395.2 L1251.2,393.0 L1253.0,394.8 L1254.8,393.6 L1256.5,393.5 L1258.2,391.6 L1260.0,386.9 L1261.8,381.0 L1263.5,384.7 L1265.2,388.0 L1267.0,392.1 L1268.8,389.9 L1270.5,389.5 L1272.2,389.2 L1274.0,388.6 L1275.8,388.6 L1277.5,388.4 L1279.2,386.3 L1281.0,386.5 L1282.8,385.0 L1284.5,384.9 L1286.2,383.9 L1288.0,383.2 L1289.8,382.9 L1291.5,381.9 L1293.2,380.6 L1295.0,381.3 L1296.8,378.5 L1298.5,379.3 L1300.2,378.7 L1302.0,378.8 L1303.8,377.9 L1305.5,378.0 L1307.2,376.7 L1309.0,377.5 L1310.8,375.7 L1312.5,376.0 L1314.2,374.2 L1316.0,371.2 L1317.8,367.4 L1319.5,371.2 L1321.2,371.8 L1323.0,374.5 L1324.8,373.7 L1326.5,374.4 L1328.2,372.9 L1330.0,374.7 L1331.8,374.0 L1333.5,374.5 L1335.2,374.2 L1337.0,374.0 L1338.8,370.1 L1340.5,368.2 L1342.2,365.8 L1344.0,373.0 L1345.8,371.8 L1347.5,373.8 L1349.2,374.1 L1351.0,373.9 L1352.8,373.3 L1354.5,375.3 L1356.2,372.8 L1358.0,373.6 L1359.8,373.5 L1361.5,374.8 L1363.2,373.0 L1365.0,372.1 L1366.8,371.4 L1368.5,374.1 L1370.2,374.3 L1372.0,375.3 L1373.8,372.4 L1375.5,375.7 L1377.2,371.9 L1379.0,374.5 L1380.8,372.3 L1382.5,373.6 L1384.2,372.5 L1386.0,379.8 L1387.8,385.3 L1389.5,397.3 L1391.2,402.0 L1393.0,397.1 L1394.8,384.2 L1396.5,378.8 L1398.2,370.4 L1400.0,365.6 L1401.8,355.5 L1403.5,357.0 L1405.2,363.0 L1407.0,369.8 L1408.8,378.0 L1410.5,390.6 L1412.2,392.5 L1414.0,393.8 L1415.8,384.3 L1417.5,378.7 L1419.2,378.3 L1421.0,378.7 L1422.8,376.1 L1424.5,377.4 L1426.2,372.2 L1428.0,370.0 L1429.8,361.7 L1431.5,363.2 L1433.2,365.2 L1435.0,376.1 L1436.8,379.7 L1438.5,383.9 L1440.2,380.8 L1442.0,383.2 L1443.8,382.3 L1445.5,388.5 L1447.2,399.7 L1449.0,418.5 L1450.8,431.0 L1452.5,438.5 L1454.2,421.9 L1456.0,413.7 L1457.8,395.9 L1459.5,389.4 L1461.2,384.6 L1463.0,373.3 L1464.8,352.0 L1466.5,349.1 L1468.2,360.3 L1470.0,386.7 L1471.8,389.2 L1473.5,397.4 L1475.2,391.8 L1477.0,395.3 L1478.8,393.1 L1480.5,399.8 L1482.2,391.9 L1484.0,398.9 L1485.8,390.9 L1487.5,397.2 L1489.2,391.3 L1491.0,397.4 L1492.8,391.8 L1494.5,397.2 L1496.2,391.3 L1498.0,397.3 L1499.8,390.6 L1501.5,396.5 L1503.2,388.6 L1505.0,398.4 L1506.8,392.7 L1508.5,401.3 L1510.2,393.1 L1512.0,401.1 L1513.8,388.8 L1515.5,400.1 L1517.2,393.8 L1519.0,407.8 L1520.8,398.5 L1522.5,404.7 L1524.2,400.3 L1526.0,411.7 L1527.8,404.5 L1529.5,412.8 L1531.2,407.4 L1533.0,414.6 L1534.8,407.0 L1536.5,411.9 L1538.2,400.0 L1540.0,413.8 L1541.8,406.0 L1543.5,417.2 L1545.2,402.0 L1547.0,417.3 L1548.8,400.6 L1550.5,413.5 L1552.2,406.9 L1554.0,412.8 L1555.8,401.9 L1557.5,417.7 L1559.2,406.1 L1561.0,416.3 L1562.8,409.7 L1564.5,416.3 L1566.2,405.8 L1568.0,414.6 L1569.8,405.7 L1571.5,423.8 L1573.2,408.5 L1575.0,425.3 L1576.8,405.4 L1578.5,426.0 L1580.2,407.2 L1582.0,421.4 L1583.8,399.9 L1585.5,417.3 L1587.2,400.5 L1589.0,424.4 L1590.8,408.7 L1592.5,420.1 L1594.2,404.5 L1596.0,412.6 L1597.8,405.8 L1599.5,417.5 L1601.2,392.9 L1603.0,428.1 L1604.8,408.8 L1606.5,425.3 L1608.2,394.0 L1610.0,412.6 L1611.8,395.0 L1613.5,413.4 L1615.2,402.9 L1617.0,408.6 L1618.8,390.8 L1620.5,422.6 L1622.2,394.2 L1624.0,429.7 L1625.8,401.0 L1627.5,413.7 L1629.2,385.2 L1631.0,417.5 L1632.8,388.8 L1634.5,419.6 L1636.2,386.6 L1638.0,418.5 L1639.8,379.6 L1641.5,422.5 L1643.2,376.4 L1645.0,411.3 L1646.8,385.8 L1648.5,414.9 L1650.2,388.2 L1652.0,420.6 L1653.8,375.5 L1655.5,400.7 L1657.2,371.3 L1659.0,416.4 L1660.8,373.8 L1662.5,423.2 L1664.2,381.1 L1666.0,399.3 L1667.8,390.3 L1669.5,399.0 L1671.2,383.4 L1673.0,412.6 L1674.8,391.7 L1676.5,408.0 L1678.2,380.3 L1680.0,403.9 L1681.8,373.2 L1683.5,414.4 L1685.2,382.0 L1687.0,396.4 L1688.8,357.7 L1690.5,337.0 L1692.2,348.4 L1694.0,422.7 L1695.8,366.3 L1697.5,424.5 L1699.2,387.6 L1701.0,409.3 L1702.8,384.5" fill="none" stroke="#14f014" stroke-width="6" stroke-linejoin="round"/>
<path d="M399.0,1047.0 L400.8,1053.6 L402.5,1051.4 L404.2,1045.8 L406.0,1051.2 L407.8,1055.8 L409.5,1050.9 L411.2,1055.0 L413.0,1053.8 L414.8,1055.5 L416.5,1056.6 L418.2,1061.6 L420.0,1060.3 L421.8,1064.2 L423.5,1063.8 L425.2,1066.1 L427.0,1065.9 L428.8,1068.5 L430.5,1070.3 L432.2,1071.6 L434.0,1071.4 L435.8,1071.9 L437.5,1071.9 L439.2,1074.1 L441.0,1074.1 L442.8,1074.0 L444.5,1075.2 L446.2,1076.6 L448.0,1076.6 L449.8,1077.4 L451.5,1079.0 L453.2,1079.2 L455.0,1078.0 L456.8,1079.3 L458.5,1080.2 L460.2,1080.9 L462.0,1080.2 L463.8,1080.9 L465.5,1080.7 L467.2,1081.7 L469.0,1081.1 L470.8,1082.9 L472.5,1080.8 L474.2,1082.8 L476.0,1083.8 L477.8,1084.0 L479.5,1083.9 L481.2,1086.5 L483.0,1086.0 L484.8,1086.5 L486.5,1085.8 L488.2,1087.1 L490.0,1087.5 L491.8,1088.6 L493.5,1088.5 L495.2,1089.8 L497.0,1089.4 L498.8,1089.6 L500.5,1089.8 L502.2,1091.7 L504.0,1091.0 L505.8,1091.0 L507.5,1092.9 L509.2,1093.5 L511.0,1093.1 L512.8,1094.4 L514.5,1094.6 L516.2,1095.9 L518.0,1094.9 L519.8,1096.3 L521.5,1095.2 L523.2,1097.0 L525.0,1095.8 L526.8,1096.5 L528.5,1096.8 L530.2,1097.5 L532.0,1097.8 L533.8,1097.8 L535.5,1098.3 L537.2,1098.6 L539.0,1098.7 L540.8,1098.3 L542.5,1098.7 L544.2,1098.5 L546.0,1097.7 L547.8,1099.2 L549.5,1096.9 L551.2,1098.0 L553.0,1098.8 L554.8,1097.5 L556.5,1097.1 L558.2,1097.9 L560.0,1097.7 L561.8,1096.7 L563.5,1095.8 L565.2,1095.4 L567.0,1094.5 L568.8,1095.5 L570.5,1093.9 L572.2,1093.8 L574.0,1093.0 L575.8,1092.6 L577.5,1091.8 L579.2,1091.6 L581.0,1090.1 L582.8,1091.0 L584.5,1088.7 L586.2,1089.8 L588.0,1089.4 L589.8,1089.0 L591.5,1088.0 L593.2,1086.3 L595.0,1085.6 L596.8,1085.0 L598.5,1083.5 L600.2,1083.0 L602.0,1082.0 L603.8,1083.2 L605.5,1082.2 L607.2,1082.6 L609.0,1081.2 L610.8,1081.5 L612.5,1079.5 L614.2,1079.9 L616.0,1079.0 L617.8,1079.2 L619.5,1077.4 L621.2,1077.0 L623.0,1076.1 L624.8,1077.0 L626.5,1075.1 L628.2,1074.8 L630.0,1073.3 L631.8,1074.1 L633.5,1072.0 L635.2,1072.9 L637.0,1071.9 L638.8,1071.8 L640.5,1071.5 L642.2,1071.7 L644.0,1071.9 L645.8,1070.2 L647.5,1070.1 L649.2,1069.0 L651.0,1068.0 L652.8,1069.0 L654.5,1068.2 L656.2,1066.8 L658.0,1066.2 L659.8,1067.1 L661.5,1066.4 L663.2,1065.2 L665.0,1066.4 L666.8,1066.0 L668.5,1065.7 L670.2,1065.4 L672.0,1065.6 L673.8,1066.4 L675.5,1064.6 L677.2,1065.9 L679.0,1064.6 L680.8,1065.1 L682.5,1064.6 L684.2,1065.1 L686.0,1064.0 L687.8,1065.2 L689.5,1063.7 L691.2,1063.0 L693.0,1063.4 L694.8,1063.2 L696.5,1062.0 L698.2,1061.8 L700.0,1061.0 L701.8,1060.6 L703.5,1059.0 L705.2,1058.7 L707.0,1057.0 L708.8,1055.9 L710.5,1054.6 L712.2,1052.5 L714.0,1050.8 L715.8,1049.4 L717.5,1047.1 L719.2,1045.8 L721.0,1042.8 L722.8,1040.2 L724.5,1038.2 L726.2,1035.8 L728.0,1033.2 L729.8,1030.9 L731.5,1026.1 L733.2,1022.1 L735.0,1017.4 L736.8,1013.4 L738.5,1007.3 L740.2,1001.7 L742.0,995.2 L743.8,990.5 L745.5,983.8 L747.2,978.8 L749.0,971.5 L750.8,966.6 L752.5,959.8 L754.2,955.5 L756.0,949.3 L757.8,945.3 L759.5,939.8 L761.2,936.7 L763.0,932.0 L764.8,927.8 L766.5,923.2 L768.2,919.4 L770.0,915.8 L771.8,914.4 L773.5,911.4 L775.2,909.6 L777.0,906.9 L778.8,905.2 L780.5,903.4 L782.2,902.5 L784.0,899.7 L785.8,898.7 L787.5,896.6 L789.2,895.5 L791.0,896.3 L792.8,894.4 L794.5,893.5 L796.2,893.0 L798.0,892.4 L799.8,891.7 L801.5,891.7 L803.2,892.8 L805.0,891.6 L806.8,893.2 L808.5,893.3 L810.2,895.5 L812.0,895.3 L813.8,898.1 L815.5,898.8 L817.2,901.4 L819.0,903.1 L820.8,906.6 L822.5,909.0 L824.2,912.7 L826.0,915.8 L827.8,918.3 L829.5,921.3 L831.2,924.7 L833.0,926.4 L834.8,930.1 L836.5,933.0 L838.2,936.3 L840.0,938.2 L841.8,942.1 L843.5,944.4 L845.2,947.5 L847.0,950.3 L848.8,953.5 L850.5,956.5 L852.2,957.2 L854.0,959.0 L855.8,961.9 L857.5,962.4 L859.2,965.2 L861.0,966.7 L862.8,968.7 L864.5,970.1 L866.2,972.6 L868.0,972.3 L869.8,975.5 L871.5,975.3 L873.2,979.2 L875.0,980.0 L876.8,980.9 L878.5,982.7 L880.2,984.0 L882.0,985.1 L883.8,987.0 L885.5,987.7 L887.2,989.2 L889.0,990.3 L890.8,991.5 L892.5,992.0 L894.2,993.4 L896.0,993.8 L897.8,997.1 L899.5,997.4 L901.2,998.3 L903.0,999.6 L904.8,1001.1 L906.5,1000.3 L908.2,1002.9 L910.0,1003.7 L911.8,1006.8 L913.5,1007.4 L915.2,1008.6 L917.0,1008.4 L918.8,1010.4 L920.5,1009.6 L922.2,1012.5 L924.0,1013.0 L925.8,1013.4 L927.5,1014.2 L929.2,1016.3 L931.0,1017.5 L932.8,1018.5 L934.5,1018.1 L936.2,1019.9 L938.0,1020.8 L939.8,1023.5 L941.5,1023.0 L943.2,1024.9 L945.0,1025.4 L946.8,1028.2 L948.5,1029.0 L950.2,1030.5 L952.0,1031.5 L953.8,1033.1 L955.5,1035.0 L957.2,1035.3 L959.0,1037.0 L960.8,1039.4 L962.5,1040.4 L964.2,1043.2 L966.0,1043.8 L967.8,1045.8 L969.5,1047.2 L971.2,1049.7 L973.0,1050.4 L974.8,1052.2 L976.5,1052.5 L978.2,1055.4 L980.0,1055.4 L981.8,1057.4 L983.5,1058.3 L985.2,1059.3 L987.0,1060.0 L988.8,1061.4 L990.5,1062.4 L992.2,1063.9 L994.0,1064.5 L995.8,1066.6 L997.5,1066.3 L999.2,1066.2 L1001.0,1066.0 L1002.8,1067.4 L1004.5,1067.5 L1006.2,1067.5 L1008.0,1067.1 L1009.8,1067.7 L1011.5,1066.9 L1013.2,1067.6 L1015.0,1066.4 L1016.8,1064.4 L1018.5,1062.0 L1020.2,1059.8 L1021.9,1056.6 L1023.6,1054.9 L1025.4,1050.2 L1027.1,1046.1 L1028.8,1040.6 L1030.5,1034.6 L1032.2,1027.9 L1033.9,1020.3 L1035.6,1013.0 L1037.3,1005.3 L1039.0,995.9 L1040.8,986.9 L1042.5,974.4 L1044.2,963.7 L1045.9,950.4 L1047.7,937.5 L1049.4,922.5 L1051.1,907.0 L1052.9,889.4 L1054.6,873.3 L1056.4,855.8 L1058.1,838.4 L1059.9,821.5 L1061.6,805.3 L1063.4,788.1 L1065.1,771.4 L1066.9,752.5 L1068.6,737.6 L1070.4,719.0 L1072.1,703.8 L1073.9,688.3 L1075.6,673.8 L1077.3,658.3 L1079.1,644.0 L1080.8,630.0 L1082.6,617.4 L1084.3,605.2 L1086.1,593.7 L1087.8,583.3 L1089.6,573.4 L1091.3,562.9 L1093.1,553.9 L1094.8,544.7 L1096.6,535.6 L1098.3,526.9 L1100.1,518.5 L1101.8,509.7 L1103.6,503.7 L1105.3,496.5 L1107.1,491.2 L1108.8,486.1 L1110.6,481.3 L1112.4,477.7 L1114.1,472.9 L1115.9,468.2 L1117.6,465.4 L1119.4,461.9 L1121.2,459.4 L1123.0,454.9 L1124.8,452.2 L1126.5,449.9 L1128.3,448.2 L1130.1,444.9 L1131.9,444.2 L1133.7,441.1 L1135.5,440.5 L1137.2,438.6 L1139.0,436.8 L1140.8,434.7 L1142.6,435.0 L1144.4,432.1 L1146.2,433.2 L1148.0,430.8 L1149.7,430.7 L1151.5,429.7 L1153.2,430.2 L1155.0,428.6 L1156.8,427.9 L1158.5,426.7 L1160.2,427.7 L1162.0,426.2 L1163.8,426.8 L1165.5,425.8 L1167.2,426.5 L1169.0,425.7 L1170.8,424.5 L1172.5,424.7 L1174.2,425.0 L1176.0,423.4 L1177.8,423.9 L1179.5,422.5 L1181.2,423.6 L1183.0,422.9 L1184.8,423.8 L1186.5,422.8 L1188.2,422.2 L1190.0,421.3 L1191.8,422.3 L1193.5,419.9 L1195.2,420.9 L1197.0,420.5 L1198.8,421.0 L1200.5,419.3 L1202.2,420.3 L1204.0,418.9 L1205.8,419.8 L1207.5,418.9 L1209.2,418.5 L1211.0,418.5 L1212.8,418.6 L1214.5,418.1 L1216.2,418.0 L1218.0,416.6 L1219.8,417.8 L1221.5,417.1 L1223.2,416.3 L1225.0,416.3 L1226.8,415.6 L1228.5,414.1 L1230.2,414.4 L1232.0,412.9 L1233.8,412.6 L1235.5,412.2 L1237.2,412.4 L1239.0,410.6 L1240.8,410.8 L1242.5,410.1 L1244.2,410.9 L1246.0,410.0 L1247.8,409.0 L1249.5,408.4 L1251.2,408.5 L1253.0,407.7 L1254.8,408.4 L1256.5,405.9 L1258.2,404.6 L1260.0,399.2 L1261.8,393.5 L1263.5,397.8 L1265.2,402.1 L1267.0,403.4 L1268.8,403.8 L1270.5,402.9 L1272.2,402.7 L1274.0,402.0 L1275.8,402.4 L1277.5,400.7 L1279.2,402.2 L1281.0,399.8 L1282.8,398.8 L1284.5,398.8 L1286.2,397.8 L1288.0,397.5 L1289.8,398.0 L1291.5,396.2 L1293.2,395.1 L1295.0,394.0 L1296.8,394.9 L1298.5,394.3 L1300.2,393.4 L1302.0,393.5 L1303.8,393.3 L1305.5,392.1 L1307.2,392.6 L1309.0,393.3 L1310.8,391.6 L1312.5,390.8 L1314.2,392.6 L1316.0,391.5 L1317.8,391.4 L1319.5,390.1 L1321.2,390.8 L1323.0,390.2 L1324.8,390.5 L1326.5,390.3 L1328.2,390.6 L1330.0,389.1 L1331.8,390.7 L1333.5,389.4 L1335.2,391.5 L1337.0,389.5 L1338.8,390.7 L1340.5,390.2 L1342.2,391.0 L1344.0,390.4 L1345.8,390.0 L1347.5,388.4 L1349.2,390.1 L1351.0,390.1 L1352.8,390.4 L1354.5,386.1 L1356.2,389.6 L1358.0,386.4 L1359.8,387.4 L1361.5,386.2 L1363.2,387.2 L1365.0,385.8 L1366.8,387.9 L1368.5,386.1 L1370.2,385.1 L1372.0,384.1 L1373.8,385.8 L1375.5,383.1 L1377.2,387.8 L1379.0,382.7 L1380.8,385.8 L1382.5,383.9 L1384.2,387.2 L1386.0,390.3 L1387.8,402.0 L1389.5,407.0 L1391.2,416.3 L1393.0,405.6 L1394.8,397.6 L1396.5,388.7 L1398.2,384.3 L1400.0,375.5 L1401.8,369.6 L1403.5,368.6 L1405.2,374.3 L1407.0,381.1 L1408.8,388.4 L1410.5,396.8 L1412.2,406.8 L1414.0,403.9 L1415.8,399.7 L1417.5,389.5 L1419.2,390.9 L1421.0,384.3 L1422.8,392.4 L1424.5,389.3 L1426.2,386.6 L1428.0,378.2 L1429.8,376.2 L1431.5,372.3 L1433.2,381.1 L1435.0,385.7 L1436.8,391.4 L1438.5,388.4 L1440.2,396.1 L1442.0,394.8 L1443.8,395.5 L1445.5,396.4 L1447.2,413.0 L1449.0,424.0 L1450.8,443.2 L1452.5,443.3 L1454.2,436.6 L1456.0,422.6 L1457.8,413.5 L1459.5,398.5 L1461.2,398.8 L1463.0,377.9 L1464.8,367.0 L1466.5,358.6 L1468.2,384.5 L1470.0,390.1 L1471.8,406.8 L1473.5,405.3 L1475.2,407.1 L1477.0,402.8 L1478.8,406.9 L1480.5,401.5 L1482.2,408.6 L1484.0,404.3 L1485.8,407.2 L1487.5,406.4 L1489.2,408.0 L1491.0,400.3 L1492.8,408.7 L1494.5,403.1 L1496.2,407.6 L1498.0,403.8 L1499.8,413.3 L1501.5,402.1 L1503.2,411.0 L1505.0,401.7 L1506.8,411.2 L1508.5,402.0 L1510.2,415.4 L1512.0,404.0 L1513.8,413.5 L1515.5,407.7 L1517.2,413.4 L1519.0,408.4 L1520.8,417.4 L1522.5,411.8 L1524.2,417.9 L1526.0,414.1 L1527.8,425.6 L1529.5,412.8 L1531.2,426.2 L1533.0,416.2 L1534.8,421.0 L1536.5,418.0 L1538.2,429.5 L1540.0,419.4 L1541.8,427.0 L1543.5,415.4 L1545.2,431.3 L1547.0,410.1 L1548.8,430.4 L1550.5,414.8 L1552.2,424.9 L1554.0,419.2 L1555.8,434.4 L1557.5,410.4 L1559.2,427.6 L1561.0,415.5 L1562.8,427.0 L1564.5,420.9 L1566.2,435.2 L1568.0,417.6 L1569.8,432.9 L1571.5,423.4 L1573.2,426.4 L1575.0,416.4 L1576.8,431.3 L1578.5,413.8 L1580.2,435.0 L1582.0,415.9 L1583.8,429.7 L1585.5,418.9 L1587.2,434.3 L1589.0,412.7 L1590.8,434.9 L1592.5,422.1 L1594.2,426.1 L1596.0,409.6 L1597.8,429.8 L1599.5,408.2 L1601.2,427.5 L1603.0,405.4 L1604.8,438.6 L1606.5,407.4 L1608.2,435.2 L1610.0,402.9 L1611.8,441.7 L1613.5,408.2 L1615.2,435.3 L1617.0,408.5 L1618.8,420.8 L1620.5,410.6 L1622.2,427.0 L1624.0,409.5 L1625.8,424.1 L1627.5,396.5 L1629.2,426.3 L1631.0,406.8 L1632.8,421.9 L1634.5,396.3 L1636.2,435.6 L1638.0,411.2 L1639.8,432.2 L1641.5,396.8 L1643.2,422.7 L1645.0,393.8 L1646.8,427.9 L1648.5,401.8 L1650.2,430.3 L1652.0,389.4 L1653.8,429.8 L1655.5,406.6 L1657.2,430.7 L1659.0,399.0 L1660.8,412.1 L1662.5,393.2 L1664.2,423.8 L1666.0,405.9 L1667.8,422.9 L1669.5,385.9 L1671.2,427.3 L1673.0,392.7 L1674.8,419.1 L1676.5,398.5 L1678.2,431.9 L1680.0,408.1 L1681.8,411.7 L1683.5,386.7 L1685.2,435.7 L1687.0,401.8 L1688.8,410.3 L1690.5,379.4 L1692.2,425.1 L1694.0,381.1 L1695.8,426.3 L1697.5,395.0 L1699.2,432.1 L1701.0,393.8 L1702.8,427.4" fill="none" stroke="#14f014" stroke-width="6" stroke-linejoin="round"/>
<path d="M399.0,1057.1 L400.8,1054.7 L402.5,1049.0 L404.2,1053.0 L406.0,1057.1 L407.8,1056.9 L409.5,1058.9 L411.2,1057.6 L413.0,1059.9 L414.8,1056.9 L416.5,1063.5 L418.2,1059.6 L420.0,1064.3 L421.8,1064.3 L423.5,1067.2 L425.2,1066.9 L427.0,1070.4 L428.8,1070.9 L430.5,1072.7 L432.2,1073.4 L434.0,1074.8 L435.8,1074.3 L437.5,1076.0 L439.2,1076.1 L441.0,1077.0 L442.8,1077.1 L444.5,1076.6 L446.2,1077.6 L448.0,1079.1 L449.8,1078.8 L451.5,1080.0 L453.2,1080.3 L455.0,1081.1 L456.8,1081.6 L458.5,1082.8 L460.2,1082.3 L462.0,1083.6 L463.8,1082.6 L465.5,1083.5 L467.2,1083.8 L469.0,1084.6 L470.8,1085.1 L472.5,1086.1 L474.2,1086.4 L476.0,1086.6 L477.8,1087.3 L479.5,1087.1 L481.2,1087.4 L483.0,1088.5 L484.8,1088.2 L486.5,1087.6 L488.2,1088.6 L490.0,1089.8 L491.8,1088.6 L493.5,1090.3 L495.2,1090.5 L497.0,1092.3 L498.8,1092.7 L500.5,1092.3 L502.2,1092.6 L504.0,1094.9 L505.8,1095.1 L507.5,1096.4 L509.2,1095.3 L511.0,1096.7 L512.8,1094.8 L514.5,1097.5 L516.2,1096.8 L518.0,1097.2 L519.8,1097.4 L521.5,1099.1 L523.2,1099.2 L525.0,1098.8 L526.8,1098.5 L528.5,1099.9 L530.2,1099.0 L532.0,1100.3 L533.8,1100.2 L535.5,1100.7 L537.2,1099.7 L539.0,1099.0 L540.8,1100.1 L542.5,1100.9 L544.2,1100.0 L546.0,1100.6 L547.8,1099.8 L549.5,1100.6 L551.2,1100.1 L553.0,1100.6 L554.8,1099.8 L556.5,1100.6 L558.2,1099.2 L560.0,1099.1 L561.8,1097.7 L563.5,1097.9 L565.2,1097.3 L567.0,1098.1 L568.8,1096.7 L570.5,1096.4 L572.2,1095.6 L574.0,1095.4 L575.8,1093.7 L577.5,1094.5 L579.2,1092.8 L581.0,1093.1 L582.8,1093.0 L584.5,1092.6 L586.2,1091.4 L588.0,1091.6 L589.8,1090.5 L591.5,1089.5 L593.2,1088.5 L595.0,1087.9 L596.8,1087.4 L598.5,1087.8 L600.2,1086.8 L602.0,1085.8 L603.8,1083.7 L605.5,1084.2 L607.2,1083.2 L609.0,1083.5 L610.8,1081.9 L612.5,1082.1 L614.2,1080.3 L616.0,1080.9 L617.8,1080.4 L619.5,1079.7 L621.2,1079.2 L623.0,1078.3 L624.8,1078.1 L626.5,1077.6 L628.2,1076.4 L630.0,1076.5 L631.8,1075.0 L633.5,1075.3 L635.2,1074.2 L637.0,1075.0 L638.8,1073.6 L640.5,1073.3 L642.2,1072.4 L644.0,1071.9 L645.8,1071.6 L647.5,1070.8 L649.2,1070.0 L651.0,1070.0 L652.8,1069.9 L654.5,1070.0 L656.2,1069.0 L658.0,1069.1 L659.8,1066.8 L661.5,1068.5 L663.2,1068.3 L665.0,1068.5 L666.8,1066.5 L668.5,1067.8 L670.2,1067.5 L672.0,1067.5 L673.8,1066.6 L675.5,1067.2 L677.2,1065.5 L679.0,1067.6 L680.8,1066.7 L682.5,1067.2 L684.2,1066.5 L686.0,1067.1 L687.8,1067.0 L689.5,1065.7 L691.2,1065.2 L693.0,1064.6 L694.8,1063.8 L696.5,1063.2 L698.2,1063.4 L700.0,1063.1 L701.8,1061.3 L703.5,1061.8 L705.2,1059.1 L707.0,1058.9 L708.8,1056.8 L710.5,1055.9 L712.2,1054.2 L714.0,1053.2 L715.8,1050.9 L717.5,1049.5 L719.2,1046.9 L721.0,1046.3 L722.8,1043.4 L724.5,1040.9 L726.2,1038.0 L728.0,1035.5 L729.8,1032.4 L731.5,1028.7 L733.2,1024.8 L735.0,1020.6 L736.8,1014.8 L738.5,1010.7 L740.2,1003.9 L742.0,1000.2 L743.8,993.2 L745.5,986.5 L747.2,980.0 L749.0,975.6 L750.8,967.7 L752.5,962.9 L754.2,956.5 L756.0,952.8 L757.8,947.6 L759.5,943.7 L761.2,938.5 L763.0,934.6 L764.8,930.5 L766.5,926.4 L768.2,921.3 L770.0,920.6 L771.8,917.1 L773.5,914.2 L775.2,912.2 L777.0,911.2 L778.8,908.6 L780.5,907.8 L782.2,904.9 L784.0,902.7 L785.8,901.0 L787.5,901.0 L789.2,899.2 L791.0,898.8 L792.8,898.2 L794.5,897.0 L796.2,896.5 L798.0,895.2 L799.8,895.1 L801.5,896.2 L803.2,895.6 L805.0,895.3 L806.8,894.1 L808.5,897.0 L810.2,897.5 L812.0,898.9 L813.8,899.9 L815.5,901.7 L817.2,903.6 L819.0,906.1 L820.8,908.0 L822.5,911.8 L824.2,915.0 L826.0,918.0 L827.8,920.0 L829.5,923.9 L831.2,925.5 L833.0,929.1 L834.8,932.3 L836.5,934.8 L838.2,938.0 L840.0,941.2 L841.8,944.6 L843.5,947.0 L845.2,949.7 L847.0,953.1 L848.8,956.0 L850.5,957.8 L852.2,959.8 L854.0,962.3 L855.8,963.0 L857.5,966.3 L859.2,967.5 L861.0,969.7 L862.8,970.7 L864.5,972.9 L866.2,973.7 L868.0,976.6 L869.8,977.6 L871.5,979.9 L873.2,980.0 L875.0,982.6 L876.8,982.5 L878.5,984.7 L880.2,985.4 L882.0,987.2 L883.8,988.7 L885.5,990.5 L887.2,991.6 L889.0,993.1 L890.8,994.3 L892.5,994.8 L894.2,996.6 L896.0,998.5 L897.8,998.3 L899.5,1000.5 L901.2,1001.2 L903.0,1003.4 L904.8,1003.5 L906.5,1005.3 L908.2,1005.9 L910.0,1008.2 L911.8,1008.7 L913.5,1010.3 L915.2,1010.7 L917.0,1011.4 L918.8,1013.2 L920.5,1013.9 L922.2,1014.8 L924.0,1015.9 L925.8,1017.2 L927.5,1018.0 L929.2,1018.0 L931.0,1018.6 L932.8,1020.2 L934.5,1021.8 L936.2,1022.2 L938.0,1024.0 L939.8,1025.6 L941.5,1027.1 L943.2,1028.4 L945.0,1029.6 L946.8,1030.2 L948.5,1032.6 L950.2,1032.5 L952.0,1034.9 L953.8,1035.0 L955.5,1038.0 L957.2,1037.3 L959.0,1039.5 L960.8,1040.5 L962.5,1042.2 L964.2,1043.9 L966.0,1046.0 L967.8,1047.8 L969.5,1048.9 L971.2,1050.6 L973.0,1052.5 L974.8,1053.4 L976.5,1055.5 L978.2,1057.4 L980.0,1056.9 L981.8,1058.8 L983.5,1060.6 L985.2,1061.5 L987.0,1062.7 L988.8,1064.0 L990.5,1065.3 L992.2,1066.1 L994.0,1066.5 L995.8,1067.6 L997.5,1069.4 L999.2,1068.5 L1001.0,1070.1 L1002.8,1069.4 L1004.5,1071.1 L1006.2,1070.1 L1008.0,1071.3 L1009.8,1069.8 L1011.5,1070.3 L1013.2,1068.2 L1015.0,1068.5 L1016.8,1066.8 L1018.5,1066.6 L1020.3,1062.8 L1022.1,1061.0 L1023.9,1057.9 L1025.8,1054.2 L1027.6,1047.7 L1029.4,1043.5 L1031.3,1036.4 L1033.1,1030.6 L1034.9,1023.0 L1036.7,1014.6 L1038.5,1006.8 L1040.3,999.6 L1042.1,988.9 L1043.9,978.0 L1045.7,965.9 L1047.5,953.6 L1049.3,938.6 L1051.0,924.3 L1052.8,909.9 L1054.6,893.4 L1056.3,875.6 L1058.1,858.6 L1059.8,840.4 L1061.6,823.6 L1063.3,807.7 L1065.1,791.0 L1066.9,773.3 L1068.6,756.3 L1070.4,739.2 L1072.1,722.2 L1073.9,705.0 L1075.6,692.0 L1077.4,676.8 L1079.1,661.9 L1080.9,645.5 L1082.7,633.8 L1084.4,620.0 L1086.2,607.6 L1087.9,595.7 L1089.7,586.2 L1091.4,574.8 L1093.2,565.7 L1095.0,555.5 L1096.7,547.7 L1098.5,537.6 L1100.2,529.7 L1102.0,520.5 L1103.7,514.1 L1105.4,505.4 L1107.2,500.1 L1108.9,494.7 L1110.6,490.0 L1112.4,483.9 L1114.1,481.2 L1115.8,476.6 L1117.6,473.9 L1119.3,469.5 L1121.0,467.8 L1122.7,464.1 L1124.4,460.7 L1126.1,457.2 L1127.8,455.7 L1129.5,453.3 L1131.2,452.3 L1132.9,449.5 L1134.6,448.5 L1136.2,445.8 L1137.9,445.0 L1139.6,443.9 L1141.3,443.8 L1143.0,441.6 L1144.7,440.8 L1146.4,439.2 L1148.1,439.9 L1149.8,438.0 L1151.5,437.9 L1153.2,436.0 L1155.0,435.7 L1156.8,434.9 L1158.5,435.9 L1160.2,434.3 L1162.0,434.5 L1163.8,433.8 L1165.5,433.9 L1167.2,433.4 L1169.0,432.7 L1170.8,432.6 L1172.5,432.4 L1174.2,432.4 L1176.0,432.3 L1177.8,431.2 L1179.5,431.5 L1181.2,431.5 L1183.0,432.4 L1184.8,431.1 L1186.5,431.3 L1188.2,430.0 L1190.0,429.9 L1191.8,429.1 L1193.5,430.2 L1195.2,429.6 L1197.0,429.7 L1198.8,429.5 L1200.5,428.4 L1202.2,428.3 L1204.0,428.5 L1205.8,427.5 L1207.5,427.3 L1209.2,427.1 L1211.0,428.2 L1212.8,426.6 L1214.5,428.1 L1216.2,427.3 L1218.0,426.7 L1219.8,425.8 L1221.5,426.0 L1223.2,425.2 L1225.0,425.6 L1226.8,424.6 L1228.5,424.8 L1230.2,423.5 L1232.0,423.1 L1233.8,422.8 L1235.5,422.2 L1237.2,421.1 L1239.0,422.2 L1240.8,419.9 L1242.5,420.6 L1244.2,419.3 L1246.0,419.4 L1247.8,418.4 L1249.5,418.2 L1251.2,418.3 L1253.0,416.3 L1254.8,416.0 L1256.5,415.5 L1258.2,415.5 L1260.0,415.7 L1261.8,415.0 L1263.5,413.9 L1265.2,413.3 L1267.0,412.9 L1268.8,412.5 L1270.5,412.9 L1272.2,410.8 L1274.0,411.6 L1275.8,410.3 L1277.5,411.6 L1279.2,410.2 L1281.0,409.1 L1282.8,408.9 L1284.5,407.9 L1286.2,405.9 L1288.0,406.8 L1289.8,406.2 L1291.5,405.6 L1293.2,404.4 L1295.0,406.0 L1296.8,404.0 L1298.5,404.8 L1300.2,403.7 L1302.0,404.0 L1303.8,404.3 L1305.5,403.6 L1307.2,402.2 L1309.0,402.3 L1310.8,402.1 L1312.5,403.2 L1314.2,401.7 L1316.0,403.0 L1317.8,401.3 L1319.5,400.9 L1321.2,400.3 L1323.0,401.2 L1324.8,400.0 L1326.5,400.2 L1328.2,400.1 L1330.0,400.3 L1331.8,400.3 L1333.5,400.0 L1335.2,400.2 L1337.0,400.0 L1338.8,399.2 L1340.5,402.1 L1342.2,400.2 L1344.0,401.4 L1345.8,399.0 L1347.5,400.4 L1349.2,399.0 L1351.0,400.6 L1352.8,398.0 L1354.5,398.9 L1356.2,396.4 L1358.0,396.2 L1359.8,396.0 L1361.5,397.2 L1363.2,394.5 L1365.0,398.0 L1366.8,394.9 L1368.5,397.5 L1370.2,393.4 L1372.0,396.2 L1373.8,394.0 L1375.5,395.8 L1377.2,393.6 L1379.0,396.7 L1380.8,391.4 L1382.5,395.4 L1384.2,392.5 L1386.0,400.5 L1387.8,407.4 L1389.5,417.5 L1391.2,422.9 L1393.0,417.9 L1394.8,407.0 L1396.5,399.0 L1398.2,390.0 L1400.0,385.2 L1401.8,379.0 L1403.5,376.6 L1405.2,381.6 L1407.0,390.8 L1408.8,397.6 L1410.5,409.2 L1412.2,410.9 L1414.0,413.4 L1415.8,405.4 L1417.5,400.0 L1419.2,396.7 L1421.0,398.0 L1422.8,396.1 L1424.5,398.1 L1426.2,391.0 L1428.0,389.5 L1429.8,381.8 L1431.5,381.8 L1433.2,386.5 L1435.0,395.3 L1436.8,397.2 L1438.5,402.8 L1440.2,400.7 L1442.0,403.6 L1443.8,401.4 L1445.5,407.7 L1447.2,416.5 L1449.0,437.5 L1450.8,448.4 L1452.5,460.2 L1454.2,442.4 L1456.0,433.3 L1457.8,412.6 L1459.5,406.7 L1461.2,402.2 L1463.0,392.7 L1464.8,371.6 L1466.5,370.7 L1468.2,383.1 L1470.0,400.6 L1471.8,408.1 L1473.5,418.4 L1475.2,411.6 L1477.0,414.9 L1478.8,410.9 L1480.5,420.5 L1482.2,410.2 L1484.0,419.0 L1485.8,409.8 L1487.5,415.4 L1489.2,409.5 L1491.0,416.0 L1492.8,416.1 L1494.5,418.6 L1496.2,414.5 L1498.0,422.4 L1499.8,414.1 L1501.5,418.8 L1503.2,408.3 L1505.0,414.0 L1506.8,414.9 L1508.5,422.5 L1510.2,415.8 L1512.0,421.3 L1513.8,411.5 L1515.5,415.7 L1517.2,414.1 L1519.0,425.8 L1520.8,412.3 L1522.5,425.6 L1524.2,419.4 L1526.0,429.6 L1527.8,420.0 L1529.5,431.1 L1531.2,419.5 L1533.0,432.3 L1534.8,425.6 L1536.5,432.3 L1538.2,421.3 L1540.0,439.0 L1541.8,427.0 L1543.5,438.3 L1545.2,424.3 L1547.0,443.4 L1548.8,423.1 L1550.5,431.8 L1552.2,424.1 L1554.0,434.5 L1555.8,425.0 L1557.5,437.1 L1559.2,429.6 L1561.0,435.8 L1562.8,429.0 L1564.5,437.3 L1566.2,423.7 L1568.0,435.5 L1569.8,425.6 L1571.5,431.1 L1573.2,424.9 L1575.0,442.6 L1576.8,421.2 L1578.5,434.1 L1580.2,422.1 L1582.0,441.4 L1583.8,429.0 L1585.5,436.7 L1587.2,427.8 L1589.0,435.9 L1590.8,425.2 L1592.5,437.3 L1594.2,423.7 L1596.0,440.1 L1597.8,419.0 L1599.5,434.8 L1601.2,415.0 L1603.0,442.1 L1604.8,423.6 L1606.5,448.6 L1608.2,418.9 L1610.0,445.9 L1611.8,426.8 L1613.5,442.0 L1615.2,420.9 L1617.0,438.2 L1618.8,418.5 L1620.5,438.0 L1622.2,410.3 L1624.0,445.4 L1625.8,423.2 L1627.5,438.8 L1629.2,423.3 L1631.0,446.4 L1632.8,417.2 L1634.5,422.4 L1636.2,417.2 L1638.0,442.7 L1639.8,401.6 L1641.5,432.1 L1643.2,418.5 L1645.0,429.0 L1646.8,394.9 L1648.5,423.3 L1650.2,397.9 L1652.0,438.8 L1653.8,400.1 L1655.5,415.9 L1657.2,398.3 L1659.0,432.5 L1660.8,393.2 L1662.5,419.1 L1664.2,391.1 L1666.0,419.5 L1667.8,414.4 L1669.5,442.1 L1671.2,390.5 L1673.0,438.7 L1674.8,404.1 L1676.5,427.3 L1678.2,396.6 L1680.0,419.9 L1681.8,415.5 L1683.5,436.3 L1685.2,406.6 L1687.0,439.4 L1688.8,400.0 L1690.5,441.8 L1692.2,409.1 L1694.0,432.0 L1695.8,406.3 L1697.5,421.7 L1699.2,389.0 L1701.0,448.5 L1702.8,402.2" fill="none" stroke="#14f014" stroke-width="6" stroke-linejoin="round"/>
<path d="M399.0,1058.6 L400.8,1060.9 L402.5,1056.2 L404.2,1057.3 L406.0,1055.5 L407.8,1059.3 L409.5,1059.5 L411.2,1060.5 L413.0,1058.9 L414.8,1062.1 L416.5,1064.6 L418.2,1064.9 L420.0,1065.5 L421.8,1067.4 L423.5,1068.8 L425.2,1070.0 L427.0,1071.7 L428.8,1072.7 L430.5,1072.4 L432.2,1074.8 L434.0,1074.4 L435.8,1076.0 L437.5,1076.5 L439.2,1076.2 L441.0,1077.5 L442.8,1078.5 L444.5,1078.9 L446.2,1079.6 L448.0,1080.2 L449.8,1081.2 L451.5,1081.5 L453.2,1082.4 L455.0,1081.7 L456.8,1083.1 L458.5,1082.6 L460.2,1084.7 L462.0,1083.6 L463.8,1084.2 L465.5,1085.3 L467.2,1085.3 L469.0,1084.8 L470.8,1086.1 L472.5,1085.9 L474.2,1087.4 L476.0,1088.5 L477.8,1088.4 L479.5,1088.8 L481.2,1089.4 L483.0,1088.5 L484.8,1089.0 L486.5,1090.6 L488.2,1090.6 L490.0,1090.1 L491.8,1091.7 L493.5,1091.0 L495.2,1092.2 L497.0,1092.5 L498.8,1093.0 L500.5,1093.0 L502.2,1093.7 L504.0,1094.8 L505.8,1094.4 L507.5,1093.7 L509.2,1096.0 L511.0,1096.0 L512.8,1098.5 L514.5,1097.0 L516.2,1098.4 L518.0,1098.2 L519.8,1098.7 L521.5,1098.5 L523.2,1098.7 L525.0,1098.7 L526.8,1100.6 L528.5,1098.9 L530.2,1100.0 L532.0,1100.4 L533.8,1101.2 L535.5,1100.9 L537.2,1101.6 L539.0,1101.3 L540.8,1101.8 L542.5,1100.9 L544.2,1101.8 L546.0,1101.2 L547.8,1101.7 L549.5,1101.7 L551.2,1101.8 L553.0,1100.3 L554.8,1100.4 L556.5,1099.9 L558.2,1100.5 L560.0,1099.7 L561.8,1099.3 L563.5,1099.2 L565.2,1098.6 L567.0,1097.1 L568.8,1097.9 L570.5,1097.2 L572.2,1097.1 L574.0,1095.9 L575.8,1096.2 L577.5,1095.1 L579.2,1095.4 L581.0,1093.3 L582.8,1093.6 L584.5,1092.3 L586.2,1092.3 L588.0,1092.4 L589.8,1091.5 L591.5,1090.4 L593.2,1089.4 L595.0,1088.8 L596.8,1088.9 L598.5,1087.6 L600.2,1086.9 L602.0,1086.6 L603.8,1086.0 L605.5,1085.4 L607.2,1085.2 L609.0,1084.5 L610.8,1083.7 L612.5,1082.4 L614.2,1083.3 L616.0,1083.1 L617.8,1082.2 L619.5,1080.9 L621.2,1080.6 L623.0,1080.4 L624.8,1079.7 L626.5,1078.6 L628.2,1078.7 L630.0,1077.4 L631.8,1077.9 L633.5,1076.4 L635.2,1076.2 L637.0,1074.7 L638.8,1074.8 L640.5,1074.1 L642.2,1073.6 L644.0,1073.0 L645.8,1073.5 L647.5,1072.4 L649.2,1073.5 L651.0,1070.3 L652.8,1071.5 L654.5,1070.5 L656.2,1070.6 L658.0,1069.8 L659.8,1069.8 L661.5,1069.4 L663.2,1069.4 L665.0,1070.0 L666.8,1069.5 L668.5,1069.0 L670.2,1069.6 L672.0,1068.8 L673.8,1069.0 L675.5,1068.3 L677.2,1068.4 L679.0,1068.0 L680.8,1069.0 L682.5,1068.7 L684.2,1069.2 L686.0,1067.1 L687.8,1068.0 L689.5,1066.8 L691.2,1066.9 L693.0,1065.6 L694.8,1066.4 L696.5,1064.7 L698.2,1065.0 L700.0,1064.8 L701.8,1063.0 L703.5,1062.1 L705.2,1062.2 L707.0,1059.9 L708.8,1059.1 L710.5,1058.4 L712.2,1056.9 L714.0,1054.4 L715.8,1053.3 L717.5,1050.6 L719.2,1048.9 L721.0,1047.1 L722.8,1045.1 L724.5,1040.6 L726.2,1040.2 L728.0,1037.5 L729.8,1034.6 L731.5,1029.6 L733.2,1027.1 L735.0,1021.2 L736.8,1017.5 L738.5,1011.7 L740.2,1006.4 L742.0,999.9 L743.8,995.1 L745.5,988.6 L747.2,982.2 L749.0,975.8 L750.8,969.4 L752.5,964.4 L754.2,958.8 L756.0,953.1 L757.8,949.5 L759.5,944.3 L761.2,940.6 L763.0,935.7 L764.8,932.7 L766.5,927.9 L768.2,923.7 L770.0,920.5 L771.8,918.6 L773.5,914.9 L775.2,914.9 L777.0,912.3 L778.8,909.3 L780.5,908.0 L782.2,906.1 L784.0,903.9 L785.8,902.0 L787.5,901.9 L789.2,900.7 L791.0,898.8 L792.8,899.4 L794.5,898.2 L796.2,897.4 L798.0,897.2 L799.8,897.2 L801.5,895.6 L803.2,897.1 L805.0,896.8 L806.8,898.4 L808.5,898.3 L810.2,899.5 L812.0,900.3 L813.8,901.8 L815.5,903.7 L817.2,906.0 L819.0,908.4 L820.8,912.2 L822.5,913.5 L824.2,916.2 L826.0,919.9 L827.8,923.8 L829.5,925.9 L831.2,928.3 L833.0,931.7 L834.8,934.7 L836.5,937.3 L838.2,940.6 L840.0,943.7 L841.8,945.9 L843.5,949.4 L845.2,952.2 L847.0,955.6 L848.8,957.1 L850.5,958.6 L852.2,962.3 L854.0,963.4 L855.8,966.4 L857.5,966.8 L859.2,970.5 L861.0,970.9 L862.8,973.6 L864.5,974.2 L866.2,976.0 L868.0,977.9 L869.8,979.7 L871.5,980.8 L873.2,981.7 L875.0,983.1 L876.8,985.1 L878.5,985.4 L880.2,987.7 L882.0,988.4 L883.8,990.7 L885.5,990.1 L887.2,993.6 L889.0,993.6 L890.8,995.8 L892.5,996.1 L894.2,998.7 L896.0,999.2 L897.8,1000.9 L899.5,1002.1 L901.2,1003.1 L903.0,1004.2 L904.8,1005.2 L906.5,1006.0 L908.2,1008.6 L910.0,1008.4 L911.8,1010.0 L913.5,1010.9 L915.2,1012.7 L917.0,1013.5 L918.8,1014.8 L920.5,1015.2 L922.2,1016.5 L924.0,1017.9 L925.8,1017.3 L927.5,1018.5 L929.2,1020.4 L931.0,1019.5 L932.8,1021.8 L934.5,1022.2 L936.2,1021.9 L938.0,1025.2 L939.8,1026.5 L941.5,1026.9 L943.2,1028.3 L945.0,1029.3 L946.8,1031.3 L948.5,1032.2 L950.2,1034.8 L952.0,1034.2 L953.8,1036.1 L955.5,1037.5 L957.2,1040.1 L959.0,1040.2 L960.8,1042.7 L962.5,1043.3 L964.2,1045.7 L966.0,1046.9 L967.8,1049.0 L969.5,1050.3 L971.2,1052.2 L973.0,1052.8 L974.8,1054.7 L976.5,1056.9 L978.2,1058.3 L980.0,1059.3 L981.8,1060.3 L983.5,1061.7 L985.2,1063.6 L987.0,1063.9 L988.8,1065.0 L990.5,1066.3 L992.2,1066.9 L994.0,1067.7 L995.8,1068.6 L997.5,1068.6 L999.2,1070.7 L1001.0,1070.9 L1002.8,1071.2 L1004.5,1071.2 L1006.2,1071.9 L1008.0,1071.2 L1009.8,1072.4 L1011.5,1071.2 L1013.2,1069.7 L1015.0,1069.2 L1016.8,1068.4 L1018.5,1065.9 L1020.3,1063.8 L1022.2,1061.2 L1024.1,1058.5 L1026.0,1054.7 L1027.9,1050.1 L1029.8,1044.7 L1031.7,1037.9 L1033.6,1031.1 L1035.5,1024.0 L1037.3,1016.6 L1039.2,1008.3 L1041.0,999.7 L1042.8,989.8 L1044.6,979.2 L1046.5,968.0 L1048.3,955.7 L1050.1,941.7 L1052.0,926.8 L1053.7,912.4 L1055.5,894.9 L1057.2,877.9 L1059.0,859.8 L1060.8,842.7 L1062.5,824.7 L1064.3,808.7 L1066.0,791.4 L1067.8,774.2 L1069.6,756.7 L1071.3,739.9 L1073.1,721.9 L1074.8,707.2 L1076.6,692.2 L1078.4,677.7 L1080.1,662.4 L1081.9,648.6 L1083.7,633.6 L1085.4,620.8 L1087.2,608.2 L1088.9,598.3 L1090.7,586.7 L1092.5,577.0 L1094.2,566.6 L1096.0,558.9 L1097.7,547.9 L1099.5,540.5 L1101.3,530.4 L1103.0,523.4 L1104.7,515.6 L1106.5,509.4 L1108.2,502.7 L1109.9,497.6 L1111.6,491.2 L1113.3,487.6 L1115.1,483.4 L1116.8,480.5 L1118.5,475.4 L1120.2,473.6 L1122.0,469.4 L1123.6,466.0 L1125.2,463.1 L1126.9,461.7 L1128.5,457.7 L1130.1,456.3 L1131.8,454.5 L1133.4,453.3 L1135.0,451.4 L1136.7,450.6 L1138.3,448.1 L1139.9,447.6 L1141.6,445.5 L1143.2,445.0 L1144.9,442.9 L1146.5,443.5 L1148.1,441.7 L1149.8,459.2 L1151.5,476.7 L1153.2,489.1 L1155.0,469.6 L1156.8,452.7 L1158.5,438.9 L1160.2,438.3 L1162.0,437.1 L1163.8,438.7 L1165.5,437.0 L1167.2,438.3 L1169.0,437.1 L1170.8,437.1 L1172.5,437.3 L1174.2,436.7 L1176.0,435.6 L1177.8,435.8 L1179.5,435.2 L1181.2,436.1 L1183.0,434.5 L1184.8,435.3 L1186.5,434.5 L1188.2,434.5 L1190.0,433.4 L1191.8,434.7 L1193.5,433.0 L1195.2,434.4 L1197.0,433.3 L1198.8,433.6 L1200.5,432.6 L1202.2,432.8 L1204.0,432.7 L1205.8,433.3 L1207.5,432.7 L1209.2,431.7 L1211.0,432.4 L1212.8,432.7 L1214.5,431.1 L1216.2,432.5 L1218.0,430.9 L1219.8,431.3 L1221.5,429.8 L1223.2,431.4 L1225.0,429.9 L1226.8,429.7 L1228.5,428.5 L1230.2,429.0 L1232.0,428.1 L1233.8,428.5 L1235.5,426.7 L1237.2,426.6 L1239.0,425.8 L1240.8,424.9 L1242.5,425.4 L1244.2,424.9 L1246.0,423.4 L1247.8,427.3 L1249.5,429.2 L1251.2,428.4 L1253.0,423.0 L1254.8,421.7 L1256.5,420.1 L1258.2,419.7 L1260.0,419.7 L1261.8,419.6 L1263.5,418.3 L1265.2,418.4 L1267.0,417.4 L1268.8,417.7 L1270.5,416.5 L1272.2,417.2 L1274.0,416.3 L1275.8,416.0 L1277.5,415.6 L1279.2,415.7 L1281.0,414.8 L1282.8,414.1 L1284.5,412.8 L1286.2,413.0 L1288.0,411.9 L1289.8,411.6 L1291.5,410.3 L1293.2,411.6 L1295.0,410.6 L1296.8,411.2 L1298.5,409.3 L1300.2,410.4 L1302.0,409.3 L1303.8,409.9 L1305.5,408.8 L1307.2,409.1 L1309.0,408.4 L1310.8,409.1 L1312.5,407.4 L1314.2,408.7 L1316.0,407.2 L1317.8,408.6 L1319.5,406.8 L1321.2,408.1 L1323.0,407.6 L1324.8,408.0 L1326.5,407.1 L1328.2,407.1 L1330.0,406.1 L1331.8,406.4 L1333.5,406.1 L1335.2,407.4 L1337.0,407.1 L1338.8,407.3 L1340.5,404.8 L1342.2,407.8 L1344.0,405.6 L1345.8,406.6 L1347.5,406.5 L1349.2,406.0 L1351.0,404.2 L1352.8,406.0 L1354.5,403.6 L1356.2,403.8 L1358.0,402.5 L1359.8,401.9 L1361.5,401.1 L1363.2,401.3 L1365.0,399.9 L1366.8,401.3 L1368.5,398.0 L1370.2,399.3 L1372.0,396.2 L1373.8,400.4 L1375.5,396.3 L1377.2,400.0 L1379.0,398.2 L1380.8,399.4 L1382.5,396.2 L1384.2,400.9 L1386.0,402.3 L1387.8,414.0 L1389.5,421.2 L1391.2,429.3 L1393.0,417.3 L1394.8,410.4 L1396.5,399.4 L1398.2,397.0 L1400.0,389.4 L1401.8,381.7 L1403.5,379.9 L1405.2,385.5 L1407.0,390.2 L1408.8,404.9 L1410.5,410.6 L1412.2,419.4 L1414.0,415.5 L1415.8,412.1 L1417.5,402.8 L1419.2,401.8 L1421.0,399.2 L1422.8,402.8 L1424.5,401.4 L1426.2,395.6 L1428.0,390.1 L1429.8,387.3 L1431.5,383.1 L1433.2,391.9 L1435.0,397.8 L1436.8,405.8 L1438.5,403.8 L1440.2,410.7 L1442.0,407.0 L1443.8,410.6 L1445.5,410.5 L1447.2,427.4 L1449.0,440.0 L1450.8,455.8 L1452.5,458.1 L1454.2,451.6 L1456.0,431.5 L1457.8,421.5 L1459.5,410.8 L1461.2,410.8 L1463.0,393.4 L1464.8,381.2 L1466.5,370.8 L1468.2,386.3 L1470.0,403.0 L1471.8,419.9 L1473.5,413.3 L1475.2,418.0 L1477.0,415.9 L1478.8,421.0 L1480.5,415.5 L1482.2,419.7 L1484.0,414.6 L1485.8,421.0 L1487.5,420.1 L1489.2,419.7 L1491.0,415.2 L1492.8,423.6 L1494.5,414.9 L1496.2,419.8 L1498.0,417.9 L1499.8,420.7 L1501.5,414.4 L1503.2,423.6 L1505.0,417.1 L1506.8,429.3 L1508.5,415.8 L1510.2,422.2 L1512.0,415.6 L1513.8,427.6 L1515.5,419.6 L1517.2,427.6 L1519.0,418.9 L1520.8,428.2 L1522.5,421.0 L1524.2,432.8 L1526.0,423.9 L1527.8,436.5 L1529.5,425.2 L1531.2,437.4 L1533.0,429.4 L1534.8,436.6 L1536.5,428.6 L1538.2,444.5 L1540.0,430.2 L1541.8,436.2 L1543.5,431.9 L1545.2,441.0 L1547.0,421.4 L1548.8,434.9 L1550.5,429.5 L1552.2,436.9 L1554.0,433.5 L1555.8,438.1 L1557.5,428.9 L1559.2,437.1 L1561.0,423.8 L1562.8,440.6 L1564.5,432.4 L1566.2,440.3 L1568.0,429.6 L1569.8,442.0 L1571.5,437.7 L1573.2,444.9 L1575.0,430.0 L1576.8,445.4 L1578.5,425.0 L1580.2,446.7 L1582.0,422.5 L1583.8,447.5 L1585.5,429.7 L1587.2,449.3 L1589.0,424.8 L1590.8,449.2 L1592.5,431.3 L1594.2,453.3 L1596.0,422.8 L1597.8,443.9 L1599.5,428.8 L1601.2,438.6 L1603.0,418.1 L1604.8,448.7 L1606.5,426.9 L1608.2,438.1 L1610.0,420.0 L1611.8,446.7 L1613.5,424.4 L1615.2,431.6 L1617.0,418.9 L1618.8,436.9 L1620.5,412.4 L1622.2,447.3 L1624.0,416.5 L1625.8,446.6 L1627.5,415.8 L1629.2,441.5 L1631.0,422.8 L1632.8,449.4 L1634.5,411.6 L1636.2,441.4 L1638.0,410.3 L1639.8,430.2 L1641.5,423.5 L1643.2,432.1 L1645.0,399.6 L1646.8,428.1 L1648.5,414.4 L1650.2,443.8 L1652.0,417.4 L1653.8,427.1 L1655.5,414.4 L1657.2,424.7 L1659.0,411.0 L1660.8,424.4 L1662.5,403.6 L1664.2,447.0 L1666.0,398.4 L1667.8,448.3 L1669.5,413.4 L1671.2,435.0 L1673.0,397.7 L1674.8,434.5 L1676.5,398.8 L1678.2,445.8 L1680.0,396.0 L1681.8,428.5 L1683.5,392.1 L1685.2,443.6 L1687.0,402.7 L1688.8,440.9 L1690.5,389.9 L1692.2,436.1 L1694.0,408.7 L1695.8,432.5 L1697.5,409.6 L1699.2,433.8 L1701.0,415.2 L1702.8,454.0" fill="none" stroke="#14f014" stroke-width="6" stroke-linejoin="round"/>
<path d="M399.0,1060.3 L400.8,1054.8 L402.5,1059.7 L404.2,1059.0 L406.0,1056.7 L407.8,1063.0 L409.5,1066.2 L411.2,1058.8 L413.0,1064.8 L414.8,1065.9 L416.5,1067.0 L418.2,1067.5 L420.0,1069.2 L421.8,1069.4 L423.5,1072.3 L425.2,1072.1 L427.0,1074.3 L428.8,1073.9 L430.5,1075.7 L432.2,1076.1 L434.0,1077.8 L435.8,1077.7 L437.5,1077.9 L439.2,1077.8 L441.0,1079.0 L442.8,1079.9 L444.5,1080.3 L446.2,1080.3 L448.0,1082.0 L449.8,1082.1 L451.5,1083.6 L453.2,1083.4 L455.0,1084.5 L456.8,1084.2 L458.5,1085.0 L460.2,1085.7 L462.0,1086.0 L463.8,1085.4 L465.5,1086.9 L467.2,1087.0 L469.0,1087.6 L470.8,1086.9 L472.5,1088.4 L474.2,1088.1 L476.0,1088.0 L477.8,1089.0 L479.5,1089.5 L481.2,1091.0 L483.0,1091.4 L484.8,1090.4 L486.5,1091.5 L488.2,1091.6 L490.0,1092.8 L491.8,1092.6 L493.5,1093.5 L495.2,1094.5 L497.0,1094.9 L498.8,1094.5 L500.5,1096.0 L502.2,1095.1 L504.0,1098.0 L505.8,1095.7 L507.5,1098.1 L509.2,1096.6 L511.0,1097.8 L512.8,1097.8 L514.5,1099.9 L516.2,1098.7 L518.0,1100.0 L519.8,1098.4 L521.5,1099.6 L523.2,1100.5 L525.0,1101.0 L526.8,1101.2 L528.5,1101.6 L530.2,1101.7 L532.0,1102.0 L533.8,1101.6 L535.5,1103.3 L537.2,1101.7 L539.0,1102.3 L540.8,1102.6 L542.5,1102.8 L544.2,1102.2 L546.0,1103.2 L547.8,1103.3 L549.5,1102.4 L551.2,1101.9 L553.0,1103.0 L554.8,1101.6 L556.5,1102.6 L558.2,1101.9 L560.0,1102.7 L561.8,1100.3 L563.5,1099.8 L565.2,1099.5 L567.0,1100.2 L568.8,1099.0 L570.5,1099.7 L572.2,1097.5 L574.0,1097.7 L575.8,1097.4 L577.5,1096.3 L579.2,1095.1 L581.0,1095.4 L582.8,1094.4 L584.5,1094.4 L586.2,1093.2 L588.0,1093.6 L589.8,1092.2 L591.5,1091.8 L593.2,1091.0 L595.0,1091.5 L596.8,1090.1 L598.5,1089.0 L600.2,1087.8 L602.0,1087.6 L603.8,1086.2 L605.5,1085.6 L607.2,1085.4 L609.0,1086.7 L610.8,1084.4 L612.5,1084.5 L614.2,1082.8 L616.0,1082.9 L617.8,1081.7 L619.5,1082.1 L621.2,1081.5 L623.0,1080.8 L624.8,1080.5 L626.5,1080.7 L628.2,1078.6 L630.0,1078.8 L631.8,1077.6 L633.5,1077.8 L635.2,1077.4 L637.0,1076.0 L638.8,1074.8 L640.5,1076.6 L642.2,1074.8 L644.0,1074.9 L645.8,1073.3 L647.5,1074.0 L649.2,1073.4 L651.0,1073.1 L652.8,1071.4 L654.5,1073.2 L656.2,1071.5 L658.0,1071.1 L659.8,1070.3 L661.5,1071.3 L663.2,1070.1 L665.0,1070.6 L666.8,1070.1 L668.5,1071.3 L670.2,1070.7 L672.0,1070.9 L673.8,1069.9 L675.5,1071.1 L677.2,1069.7 L679.0,1069.7 L680.8,1069.6 L682.5,1069.9 L684.2,1068.6 L686.0,1068.9 L687.8,1067.4 L689.5,1068.2 L691.2,1067.2 L693.0,1067.8 L694.8,1067.0 L696.5,1067.1 L698.2,1065.5 L700.0,1065.4 L701.8,1063.7 L703.5,1063.7 L705.2,1062.7 L707.0,1061.8 L708.8,1058.6 L710.5,1058.8 L712.2,1056.6 L714.0,1055.9 L715.8,1053.1 L717.5,1052.5 L719.2,1050.3 L721.0,1048.2 L722.8,1045.7 L724.5,1043.2 L726.2,1041.3 L728.0,1038.3 L729.8,1035.3 L731.5,1032.0 L733.2,1028.1 L735.0,1024.3 L736.8,1018.2 L738.5,1013.0 L740.2,1007.6 L742.0,1002.1 L743.8,995.3 L745.5,991.1 L747.2,983.3 L749.0,977.6 L750.8,972.0 L752.5,966.7 L754.2,959.8 L756.0,955.6 L757.8,950.2 L759.5,947.3 L761.2,941.5 L763.0,938.5 L764.8,932.5 L766.5,930.3 L768.2,924.9 L770.0,922.6 L771.8,920.3 L773.5,918.4 L775.2,915.5 L777.0,914.1 L778.8,912.2 L780.5,908.9 L782.2,907.5 L784.0,906.0 L785.8,903.6 L787.5,903.0 L789.2,901.4 L791.0,901.3 L792.8,899.5 L794.5,899.6 L796.2,898.7 L798.0,898.7 L799.8,898.1 L801.5,897.7 L803.2,897.7 L805.0,898.2 L806.8,898.3 L808.5,900.7 L810.2,901.0 L812.0,901.8 L813.8,903.5 L815.5,905.8 L817.2,908.0 L819.0,910.0 L820.8,912.0 L822.5,915.4 L824.2,918.3 L826.0,920.8 L827.8,923.1 L829.5,926.7 L831.2,929.4 L833.0,933.5 L834.8,935.5 L836.5,940.6 L838.2,942.3 L840.0,945.1 L841.8,946.9 L843.5,950.7 L845.2,953.6 L847.0,955.9 L848.8,959.3 L850.5,962.4 L852.2,962.9 L854.0,965.5 L855.8,967.3 L857.5,969.5 L859.2,970.7 L861.0,972.3 L862.8,974.2 L864.5,975.9 L866.2,977.1 L868.0,979.9 L869.8,979.9 L871.5,982.9 L873.2,982.6 L875.0,985.0 L876.8,986.0 L878.5,988.1 L880.2,989.6 L882.0,990.9 L883.8,992.1 L885.5,994.6 L887.2,993.8 L889.0,995.9 L890.8,996.9 L892.5,997.8 L894.2,999.8 L896.0,1001.2 L897.8,1002.0 L899.5,1003.2 L901.2,1004.3 L903.0,1005.0 L904.8,1007.2 L906.5,1007.9 L908.2,1008.5 L910.0,1011.3 L911.8,1011.2 L913.5,1013.2 L915.2,1013.3 L917.0,1016.2 L918.8,1015.5 L920.5,1016.1 L922.2,1017.5 L924.0,1018.0 L925.8,1019.0 L927.5,1020.5 L929.2,1021.3 L931.0,1022.8 L932.8,1023.3 L934.5,1025.1 L936.2,1025.2 L938.0,1026.0 L939.8,1027.5 L941.5,1029.2 L943.2,1031.8 L945.0,1032.7 L946.8,1033.2 L948.5,1034.3 L950.2,1035.9 L952.0,1038.4 L953.8,1038.3 L955.5,1039.8 L957.2,1040.9 L959.0,1042.2 L960.8,1043.5 L962.5,1045.6 L964.2,1046.2 L966.0,1049.6 L967.8,1049.0 L969.5,1052.3 L971.2,1053.3 L973.0,1055.1 L974.8,1055.7 L976.5,1058.8 L978.2,1058.7 L980.0,1058.6 L981.8,1061.4 L983.5,1062.9 L985.2,1063.3 L987.0,1065.3 L988.8,1065.4 L990.5,1067.1 L992.2,1067.7 L994.0,1069.5 L995.8,1070.0 L997.5,1071.9 L999.2,1071.5 L1001.0,1072.6 L1002.8,1072.2 L1004.5,1073.3 L1006.2,1073.5 L1008.0,1073.2 L1009.8,1072.8 L1011.5,1072.6 L1013.2,1071.4 L1015.0,1071.4 L1016.8,1069.4 L1018.5,1068.2 L1020.3,1065.2 L1022.3,1063.0 L1024.2,1059.4 L1026.2,1055.1 L1028.2,1049.9 L1030.2,1045.2 L1032.2,1039.5 L1034.2,1032.9 L1036.2,1025.7 L1038.1,1017.9 L1039.9,1010.2 L1041.8,1001.7 L1043.7,991.2 L1045.5,980.8 L1047.4,969.0 L1049.3,957.1 L1051.1,942.0 L1053.0,927.8 L1054.8,911.8 L1056.5,896.1 L1058.3,878.3 L1060.1,861.6 L1061.8,843.5 L1063.6,827.8 L1065.4,810.3 L1067.1,793.7 L1068.9,776.1 L1070.7,759.3 L1072.4,742.6 L1074.2,725.6 L1076.0,707.9 L1077.7,694.3 L1079.5,679.2 L1081.3,664.1 L1083.0,649.4 L1084.8,637.3 L1086.6,623.2 L1088.3,611.9 L1090.1,598.9 L1091.9,588.9 L1093.7,578.4 L1095.4,569.1 L1097.2,560.3 L1099.0,551.5 L1100.7,541.2 L1102.5,533.3 L1104.2,523.8 L1105.9,517.9 L1107.6,509.3 L1109.3,504.6 L1111.1,497.7 L1112.8,495.2 L1114.5,490.1 L1116.2,485.6 L1117.9,481.1 L1119.6,477.9 L1121.3,474.0 L1123.0,472.0 L1124.6,468.3 L1126.2,466.7 L1127.7,463.0 L1129.3,462.0 L1130.9,459.2 L1132.5,458.4 L1134.0,456.5 L1135.6,455.6 L1137.2,452.8 L1138.8,453.0 L1140.3,450.1 L1141.9,450.4 L1143.5,449.0 L1145.0,448.4 L1146.6,447.1 L1148.2,447.3 L1149.8,464.6 L1151.5,482.2 L1153.2,493.1 L1155.0,475.8 L1156.8,456.7 L1158.5,443.6 L1160.2,442.7 L1162.0,443.3 L1163.8,441.1 L1165.5,443.0 L1167.2,441.6 L1169.0,441.8 L1170.8,441.4 L1172.5,441.9 L1174.2,440.7 L1176.0,441.3 L1177.8,440.1 L1179.5,441.2 L1181.2,440.6 L1183.0,440.6 L1184.8,440.0 L1186.5,441.4 L1188.2,439.5 L1190.0,441.0 L1191.8,440.3 L1193.5,440.1 L1195.2,439.6 L1197.0,439.1 L1198.8,439.8 L1200.5,438.7 L1202.2,438.8 L1204.0,439.7 L1205.8,438.3 L1207.5,439.2 L1209.2,438.3 L1211.0,438.5 L1212.8,437.7 L1214.5,437.8 L1216.2,436.6 L1218.0,436.8 L1219.8,437.2 L1221.5,436.1 L1223.2,434.8 L1225.0,435.8 L1226.8,434.3 L1228.5,434.5 L1230.2,433.8 L1232.0,434.5 L1233.8,432.8 L1235.5,433.1 L1237.2,433.1 L1239.0,432.4 L1240.8,431.5 L1242.5,431.9 L1244.2,429.9 L1246.0,430.1 L1247.8,432.8 L1249.5,436.8 L1251.2,435.0 L1253.0,431.5 L1254.8,426.4 L1256.5,427.2 L1258.2,426.6 L1260.0,426.6 L1261.8,425.5 L1263.5,425.6 L1265.2,424.9 L1267.0,424.8 L1268.8,423.3 L1270.5,423.9 L1272.2,423.5 L1274.0,424.0 L1275.8,422.0 L1277.5,421.9 L1279.2,422.6 L1281.0,421.5 L1282.8,420.3 L1284.5,419.8 L1286.2,420.1 L1288.0,419.6 L1289.8,417.1 L1291.5,417.8 L1293.2,416.2 L1295.0,416.3 L1296.8,415.4 L1298.5,416.0 L1300.2,415.6 L1302.0,415.0 L1303.8,415.1 L1305.5,415.0 L1307.2,415.0 L1309.0,414.7 L1310.8,416.0 L1312.5,416.4 L1314.2,413.9 L1316.0,415.8 L1317.8,413.6 L1319.5,415.4 L1321.2,414.2 L1323.0,414.0 L1324.8,413.2 L1326.5,414.7 L1328.2,413.4 L1330.0,413.7 L1331.8,413.1 L1333.5,413.9 L1335.2,413.4 L1337.0,418.7 L1338.8,416.4 L1340.5,415.6 L1342.2,412.1 L1344.0,414.1 L1345.8,412.5 L1347.5,411.3 L1349.2,411.2 L1351.0,412.2 L1352.8,410.1 L1354.5,411.2 L1356.2,409.0 L1358.0,409.3 L1359.8,406.9 L1361.5,407.3 L1363.2,407.4 L1365.0,409.1 L1366.8,405.5 L1368.5,409.0 L1370.2,405.6 L1372.0,405.4 L1373.8,404.0 L1375.5,406.3 L1377.2,403.2 L1379.0,404.2 L1380.8,402.1 L1382.5,404.1 L1384.2,403.2 L1386.0,409.2 L1387.8,415.9 L1389.5,426.7 L1391.2,432.4 L1393.0,425.9 L1394.8,413.0 L1396.5,406.6 L1398.2,397.8 L1400.0,394.3 L1401.8,387.5 L1403.5,387.8 L1405.2,389.5 L1407.0,400.0 L1408.8,406.4 L1410.5,418.0 L1412.2,420.6 L1414.0,422.0 L1415.8,414.2 L1417.5,410.3 L1419.2,405.3 L1421.0,408.1 L1422.8,404.8 L1424.5,409.8 L1426.2,401.7 L1428.0,397.4 L1429.8,389.9 L1431.5,391.8 L1433.2,395.7 L1435.0,403.4 L1436.8,405.0 L1438.5,413.9 L1440.2,409.5 L1442.0,409.4 L1443.8,408.3 L1445.5,419.0 L1447.2,430.9 L1449.0,446.0 L1450.8,458.1 L1452.5,465.9 L1454.2,452.4 L1456.0,438.8 L1457.8,424.5 L1459.5,417.0 L1461.2,413.1 L1463.0,399.7 L1464.8,379.7 L1466.5,373.5 L1468.2,392.7 L1470.0,415.4 L1471.8,420.7 L1473.5,421.6 L1475.2,421.1 L1477.0,424.9 L1478.8,421.9 L1480.5,426.3 L1482.2,420.0 L1484.0,423.7 L1485.8,420.7 L1487.5,425.6 L1489.2,419.7 L1491.0,427.1 L1492.8,421.5 L1494.5,425.5 L1496.2,421.4 L1498.0,429.3 L1499.8,423.1 L1501.5,422.6 L1503.2,419.8 L1505.0,430.6 L1506.8,422.1 L1508.5,428.2 L1510.2,423.0 L1512.0,431.0 L1513.8,418.7 L1515.5,431.3 L1517.2,426.4 L1519.0,438.6 L1520.8,427.7 L1522.5,432.8 L1524.2,435.4 L1526.0,436.2 L1527.8,432.1 L1529.5,436.4 L1531.2,431.4 L1533.0,441.9 L1534.8,433.3 L1536.5,447.9 L1538.2,431.4 L1540.0,449.3 L1541.8,435.0 L1543.5,440.6 L1545.2,432.4 L1547.0,440.2 L1548.8,429.4 L1550.5,445.2 L1552.2,432.9 L1554.0,447.1 L1555.8,438.4 L1557.5,442.3 L1559.2,435.2 L1561.0,445.1 L1562.8,435.2 L1564.5,448.8 L1566.2,434.1 L1568.0,448.1 L1569.8,436.9 L1571.5,452.7 L1573.2,435.0 L1575.0,446.5 L1576.8,437.9 L1578.5,458.4 L1580.2,444.0 L1582.0,441.6 L1583.8,434.8 L1585.5,445.3 L1587.2,428.2 L1589.0,444.4 L1590.8,429.5 L1592.5,447.6 L1594.2,433.9 L1596.0,449.2 L1597.8,436.4 L1599.5,458.1 L1601.2,443.0 L1603.0,450.8 L1604.8,428.2 L1606.5,446.8 L1608.2,437.0 L1610.0,451.4 L1611.8,430.4 L1613.5,440.1 L1615.2,427.0 L1617.0,451.1 L1618.8,431.7 L1620.5,441.6 L1622.2,426.2 L1624.0,446.8 L1625.8,427.2 L1627.5,455.4 L1629.2,422.4 L1631.0,459.6 L1632.8,427.7 L1634.5,451.5 L1636.2,421.6 L1638.0,445.8 L1639.8,427.3 L1641.5,453.4 L1643.2,417.2 L1645.0,446.5 L1646.8,417.0 L1648.5,430.3 L1650.2,412.7 L1652.0,438.6 L1653.8,415.3 L1655.5,431.5 L1657.2,408.8 L1659.0,428.2 L1660.8,408.5 L1662.5,437.9 L1664.2,418.1 L1666.0,433.2 L1667.8,419.8 L1669.5,440.5 L1671.2,399.7 L1673.0,453.6 L1674.8,415.2 L1676.5,442.8 L1678.2,409.5 L1680.0,432.1 L1681.8,420.4 L1683.5,445.5 L1685.2,419.5 L1687.0,426.7 L1688.8,399.8 L1690.5,440.9 L1692.2,443.0 L1694.0,487.4 L1695.8,431.9 L1697.5,434.3 L1699.2,402.4 L1701.0,451.0 L1702.8,402.2" fill="none" stroke="#14f014" stroke-width="6" stroke-linejoin="round"/>
<line x1="1702" y1="300" x2="1702" y2="520" stroke="#22dd22" stroke-width="4.5"/>
<line x1="1705.5" y1="286" x2="1705.5" y2="537" stroke="#28d828" stroke-width="5"/>
<line x1="1706.5" y1="347" x2="1706.5" y2="428" stroke="#1c6a1c" stroke-width="2.5"/>
<g style="mix-blend-mode:multiply">
<line x1="660.6" y1="132" x2="660.6" y2="1263" stroke="#3c3ca6" stroke-width="4.8"/>
<line x1="808.5" y1="132" x2="808.5" y2="1263" stroke="#66d866" stroke-width="4.8"/>
<line x1="997" y1="132" x2="997" y2="1263" stroke="#a53a3a" stroke-width="4.4"/>
<line x1="1082.5" y1="132" x2="1082.5" y2="1263" stroke="#c497dc" stroke-width="4.8"/>
<line x1="1296.2" y1="132" x2="1296.2" y2="1263" stroke="#1e1e78" stroke-width="4.8"/>
</g>
<line x1="267.2" y1="128.2" x2="267.2" y2="1273" stroke="#111" stroke-width="4.6"/>
<line x1="255" y1="1264.6" x2="1841.5" y2="1264.6" stroke="#383838" stroke-width="4.8"/>
<line x1="242" y1="130.6" x2="267.4" y2="130.6" stroke="#111" stroke-width="4.8"/>
<line x1="255" y1="217.8" x2="267.4" y2="217.8" stroke="#111" stroke-width="4.8"/>
<line x1="242" y1="305.0" x2="267.4" y2="305.0" stroke="#111" stroke-width="4.8"/>
<line x1="255" y1="392.2" x2="267.4" y2="392.2" stroke="#111" stroke-width="4.8"/>
<line x1="242" y1="479.4" x2="267.4" y2="479.4" stroke="#111" stroke-width="4.8"/>
<line x1="255" y1="566.6" x2="267.4" y2="566.6" stroke="#111" stroke-width="4.8"/>
<line x1="242" y1="653.8" x2="267.4" y2="653.8" stroke="#111" stroke-width="4.8"/>
<line x1="255" y1="741.0" x2="267.4" y2="741.0" stroke="#111" stroke-width="4.8"/>
<line x1="242" y1="828.2" x2="267.4" y2="828.2" stroke="#111" stroke-width="4.8"/>
<line x1="255" y1="915.4" x2="267.4" y2="915.4" stroke="#111" stroke-width="4.8"/>
<line x1="242" y1="1002.6" x2="267.4" y2="1002.6" stroke="#111" stroke-width="4.8"/>
<line x1="255" y1="1089.8" x2="267.4" y2="1089.8" stroke="#111" stroke-width="4.8"/>
<line x1="242" y1="1177.0" x2="267.4" y2="1177.0" stroke="#111" stroke-width="4.8"/>
<line x1="355.5" y1="1264.6" x2="355.5" y2="1283.5" stroke="#111" stroke-width="4.8"/>
<line x1="442.7" y1="1264.6" x2="442.7" y2="1273" stroke="#111" stroke-width="4.8"/>
<line x1="529.9" y1="1264.6" x2="529.9" y2="1283.5" stroke="#111" stroke-width="4.8"/>
<line x1="617.1" y1="1264.6" x2="617.1" y2="1273" stroke="#111" stroke-width="4.8"/>
<line x1="704.3" y1="1264.6" x2="704.3" y2="1283.5" stroke="#111" stroke-width="4.8"/>
<line x1="791.5" y1="1264.6" x2="791.5" y2="1273" stroke="#111" stroke-width="4.8"/>
<line x1="878.7" y1="1264.6" x2="878.7" y2="1283.5" stroke="#111" stroke-width="4.8"/>
<line x1="965.9" y1="1264.6" x2="965.9" y2="1273" stroke="#111" stroke-width="4.8"/>
<line x1="1053.1" y1="1264.6" x2="1053.1" y2="1283.5" stroke="#111" stroke-width="4.8"/>
<line x1="1140.3" y1="1264.6" x2="1140.3" y2="1273" stroke="#111" stroke-width="4.8"/>
<line x1="1227.5" y1="1264.6" x2="1227.5" y2="1283.5" stroke="#111" stroke-width="4.8"/>
<line x1="1314.7" y1="1264.6" x2="1314.7" y2="1273" stroke="#111" stroke-width="4.8"/>
<line x1="1401.9" y1="1264.6" x2="1401.9" y2="1283.5" stroke="#111" stroke-width="4.8"/>
<line x1="1489.1" y1="1264.6" x2="1489.1" y2="1273" stroke="#111" stroke-width="4.8"/>
<line x1="1576.3" y1="1264.6" x2="1576.3" y2="1283.5" stroke="#111" stroke-width="4.8"/>
<line x1="1663.5" y1="1264.6" x2="1663.5" y2="1273" stroke="#111" stroke-width="4.8"/>
<line x1="1750.7" y1="1264.6" x2="1750.7" y2="1283.5" stroke="#111" stroke-width="4.8"/>
<line x1="1837.9" y1="1264.6" x2="1837.9" y2="1273" stroke="#111" stroke-width="4.8"/>
<rect x="1382.5" y="80" width="406.5" height="205.5" fill="#fff"/>
<line x1="1382.5" y1="87" x2="1382.5" y2="287.5" stroke="#7a7a7a" stroke-width="4"/>
<line x1="1380.5" y1="285.6" x2="1790" y2="285.6" stroke="#8a8a8a" stroke-width="4.2"/>
<line x1="1789" y1="87" x2="1789" y2="285" stroke="#c8c8c8" stroke-width="3.5"/>
<line x1="1387" y1="123.3" x2="1521" y2="123.3" stroke="#b02020" stroke-width="6"/>
<line x1="1387" y1="187.8" x2="1521" y2="187.8" stroke="#3a3a3a" stroke-width="6"/>
<line x1="1387" y1="250.5" x2="1521" y2="250.5" stroke="#5cc85c" stroke-width="6"/>
<g stroke-width="0.6">
<text transform="translate(149.86,144.90) scale(1.1111,1)" font-size="50" fill="#1a1a1a" stroke="#1a1a1a">1.2</text>
<text transform="translate(149.93,319.30) scale(1.0938,1)" font-size="50" fill="#1a1a1a" stroke="#1a1a1a">1.0</text>
<text transform="translate(152.15,493.70) scale(1.0769,1)" font-size="50" fill="#1a1a1a" stroke="#1a1a1a">0.8</text>
<text transform="translate(152.15,668.10) scale(1.0769,1)" font-size="50" fill="#1a1a1a" stroke="#1a1a1a">0.6</text>
<text transform="translate(152.18,842.50) scale(1.0606,1)" font-size="50" fill="#1a1a1a" stroke="#1a1a1a">0.4</text>
<text transform="translate(152.15,1016.90) scale(1.0769,1)" font-size="50" fill="#1a1a1a" stroke="#1a1a1a">0.2</text>
<text transform="translate(152.18,1191.30) scale(1.0606,1)" font-size="50" fill="#1a1a1a" stroke="#1a1a1a">0.0</text>
<text transform="translate(311.38,1335.00) scale(1.0625,1)" font-size="50.5" fill="#1a1a1a" stroke="#1a1a1a">300</text>
<text transform="translate(486.34,1335.00) scale(1.0617,1)" font-size="50.5" fill="#1a1a1a" stroke="#1a1a1a">400</text>
<text transform="translate(660.17,1335.00) scale(1.0625,1)" font-size="50.5" fill="#1a1a1a" stroke="#1a1a1a">500</text>
<text transform="translate(833.47,1335.00) scale(1.0759,1)" font-size="50.5" fill="#1a1a1a" stroke="#1a1a1a">600</text>
<text transform="translate(1007.87,1335.00) scale(1.0759,1)" font-size="50.5" fill="#1a1a1a" stroke="#1a1a1a">700</text>
<text transform="translate(1183.38,1335.00) scale(1.0625,1)" font-size="50.5" fill="#1a1a1a" stroke="#1a1a1a">800</text>
<text transform="translate(1357.78,1335.00) scale(1.0625,1)" font-size="50.5" fill="#1a1a1a" stroke="#1a1a1a">900</text>
<text transform="translate(1516.04,1335.00) scale(1.0660,1)" font-size="50.5" fill="#1a1a1a" stroke="#1a1a1a">1000</text>
<text transform="translate(1690.31,1335.00) scale(1.0971,1)" font-size="50.5" fill="#1a1a1a" stroke="#1a1a1a">1100</text>
<text transform="translate(826.30,1424.40) scale(1.1166,1)" font-size="59" fill="#1a1a1a" stroke="#1a1a1a">Wavelength/nm</text>
<text transform="translate(611.21,119.00) scale(1.0974,1)" font-size="43.5" fill="#23238c" stroke="#23238c">blue</text>
<text transform="translate(748.10,113.60) scale(1.0981,1)" font-size="43.5" fill="#4fd24f" stroke="#4fd24f">green</text>
<text transform="translate(956.27,114.00) scale(1.1105,1)" font-size="43.5" fill="#b02a2a" stroke="#b02a2a">red</text>
<text transform="translate(1032.09,114.00) scale(1.1030,1)" font-size="43.5" fill="#c890dc" stroke="#c890dc">red-edge</text>
<text transform="translate(1269.19,118.40) scale(1.1275,1)" font-size="43.5" fill="#22229a" stroke="#22229a">NIR</text>
<text transform="translate(1532.58,141.90) scale(1.1288,1)" font-size="52" fill="#1a1a1a" stroke="#1a1a1a">lodging</text>
<text transform="translate(1533.94,205.70) scale(1.1301,1)" font-size="52" fill="#1a1a1a" stroke="#1a1a1a">soil</text>
<text transform="translate(1533.97,268.30) scale(1.1150,1)" font-size="52" fill="#1a1a1a" stroke="#1a1a1a">sunflower</text>
<text transform="translate(124.1,852.60) scale(1.0791,1) rotate(-90)" font-size="59.1" fill="#1a1a1a" stroke="#1a1a1a">Reflectance</text>
</g>
</g>
</svg>
</body></html>
